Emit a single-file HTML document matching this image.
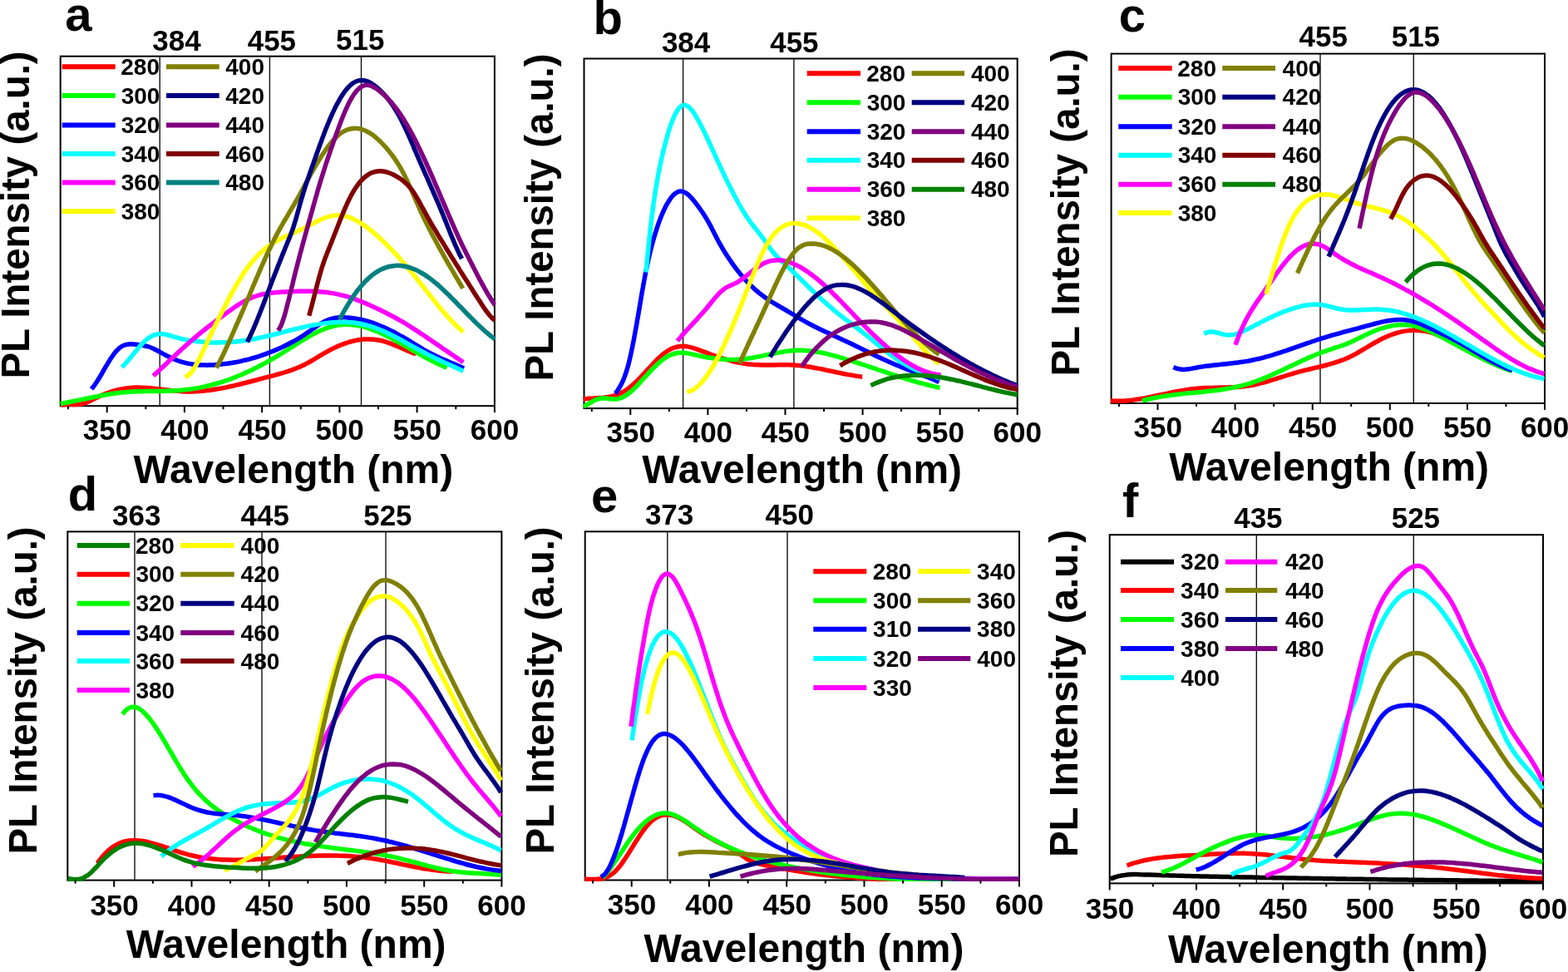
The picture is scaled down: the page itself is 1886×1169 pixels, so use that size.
<!DOCTYPE html><html><head><meta charset="utf-8"><title>PL spectra</title><style>html,body{margin:0;padding:0;background:#fff;overflow:hidden;}svg{display:block;}text{font-family:'Liberation Sans', Arial, Helvetica, sans-serif;font-weight:bold;fill:#000;}</style></head><body>
<svg width="1886" height="1169" viewBox="0 0 1886 1169">
<rect width="1886" height="1169" fill="#fff"/>
<g id="panel-a">
<line x1="192.2" y1="67.7" x2="192.2" y2="488.2" stroke="#111" stroke-width="1.4"/>
<line x1="324.4" y1="67.7" x2="324.4" y2="488.2" stroke="#111" stroke-width="1.4"/>
<line x1="434.5" y1="67.7" x2="434.5" y2="488.2" stroke="#111" stroke-width="1.4"/>
<rect x="72.7" y="67.7" width="522.2" height="420.5" fill="none" stroke="#000" stroke-width="2"/>
<g clip-path="url(#clip-a)" fill="none" stroke-width="5.5" stroke-linejoin="round" stroke-linecap="butt">
<path d="M72.8,487.2 C73.8,487.1 76.8,486.8 78.8,486.7 C80.8,486.6 82.8,486.7 84.8,486.6 C86.8,486.6 88.9,486.7 90.9,486.6 C92.9,486.5 94.9,486.4 96.9,486.1 C98.8,485.8 100.8,485.4 102.7,484.7 C104.6,484.1 106.4,483.2 108.2,482.3 C110.1,481.4 111.8,480.4 113.6,479.5 C115.4,478.6 117.2,477.7 119,476.9 C120.8,476.1 122.7,475.2 124.5,474.5 C126.4,473.7 128.3,473 130.2,472.3 C132,471.6 134,471 135.9,470.4 C137.8,469.8 139.7,469.3 141.7,468.8 C143.6,468.4 145.6,467.9 147.6,467.6 C149.6,467.2 151.6,466.9 153.6,466.7 C155.6,466.5 157.6,466.3 159.6,466.2 C161.6,466.1 163.6,466.1 165.6,466 C167.6,466 169.6,466.1 171.6,466.2 C173.6,466.3 175.6,466.4 177.6,466.5 C179.6,466.7 181.6,466.9 183.6,467.1 C185.6,467.2 187.6,467.5 189.6,467.7 C191.6,467.9 193.6,468.2 195.6,468.4 C197.6,468.6 199.6,468.9 201.6,469.1 C203.6,469.3 205.6,469.6 207.6,469.8 C209.6,470 211.6,470.2 213.6,470.3 C215.6,470.5 217.6,470.6 219.6,470.7 C221.6,470.8 223.6,470.9 225.6,470.9 C227.6,470.9 229.7,470.9 231.7,470.9 C233.7,470.8 235.7,470.7 237.7,470.6 C239.7,470.5 241.7,470.3 243.7,470.2 C245.7,470 247.7,469.8 249.7,469.5 C251.7,469.3 253.7,469 255.7,468.8 C257.7,468.5 259.6,468.2 261.6,467.8 C263.6,467.5 265.6,467.1 267.6,466.8 C269.5,466.4 271.5,466 273.5,465.6 C275.4,465.2 277.4,464.7 279.4,464.3 C281.3,463.8 283.3,463.4 285.2,462.9 C287.2,462.5 289.1,462 291.1,461.5 C293,461 295,460.5 296.9,460 C298.9,459.5 300.8,459 302.8,458.5 C304.7,458 306.7,457.5 308.6,457 C310.5,456.5 312.5,455.9 314.4,455.4 C316.4,454.9 318.3,454.4 320.3,453.9 C322.2,453.4 324.2,452.9 326.1,452.4 C328,451.9 330,451.4 331.9,450.8 C333.9,450.3 335.8,449.8 337.7,449.2 C339.7,448.7 341.6,448.1 343.5,447.5 C345.4,446.9 347.3,446.3 349.2,445.6 C351.1,445 353,444.3 354.9,443.5 C356.8,442.8 358.6,442 360.5,441.2 C362.3,440.4 364.1,439.6 365.9,438.7 C367.7,437.8 369.5,436.9 371.3,435.9 C373,435 374.8,434 376.5,432.9 C378.3,431.9 380,430.9 381.7,429.8 C383.4,428.8 385.1,427.8 386.9,426.7 C388.6,425.7 390.3,424.7 392.1,423.7 C393.8,422.7 395.6,421.7 397.4,420.8 C399.1,419.9 400.9,419 402.7,418.1 C404.6,417.2 406.4,416.4 408.2,415.6 C410.1,414.9 412,414.1 413.9,413.4 C415.7,412.8 417.7,412.1 419.6,411.5 C421.5,411 423.4,410.4 425.4,410 C427.4,409.5 429.3,409.2 431.3,408.8 C433.3,408.5 435.3,408.3 437.3,408.1 C439.3,408 441.3,407.9 443.3,407.9 C445.3,407.9 447.3,408 449.3,408.2 C451.3,408.4 453.3,408.7 455.3,409 C457.3,409.4 459.3,409.9 461.2,410.4 C463.1,410.9 465,411.5 466.9,412.2 C468.8,412.8 470.7,413.5 472.6,414.3 C474.5,415 476.3,415.8 478.2,416.6 C480,417.4 481.9,418.2 483.7,419 C485.5,419.8 487.4,420.6 489.2,421.4 C491.1,422.2 492.9,423 494.8,423.7 C496.6,424.5 499.5,425.5 500.4,425.9" stroke="#FF0000"/>
<path d="M72.8,485.7 C73.8,485.5 76.7,484.9 78.7,484.5 C80.7,484.1 82.7,483.7 84.6,483.3 C86.6,482.9 88.6,482.5 90.6,482.1 C92.5,481.7 94.5,481.3 96.5,480.9 C98.5,480.5 100.4,480.1 102.4,479.7 C104.4,479.3 106.4,478.9 108.4,478.5 C110.3,478.1 112.3,477.7 114.3,477.3 C116.3,476.9 118.2,476.5 120.2,476.1 C122.2,475.7 124.2,475.4 126.2,475 C128.1,474.6 130.1,474.3 132.1,474 C134.1,473.6 136.1,473.3 138.1,473 C140.1,472.8 142.1,472.5 144.1,472.3 C146.1,472 148.1,471.8 150.1,471.7 C152.1,471.5 154.1,471.4 156.1,471.2 C158.1,471.1 160.2,471 162.2,470.9 C164.2,470.9 166.2,470.8 168.2,470.8 C170.2,470.7 172.2,470.7 174.3,470.6 C176.3,470.6 178.3,470.6 180.3,470.6 C182.3,470.5 184.3,470.5 186.4,470.5 C188.4,470.5 190.4,470.5 192.4,470.4 C194.4,470.4 196.4,470.4 198.4,470.3 C200.5,470.3 202.5,470.2 204.5,470.1 C206.5,470 208.5,470 210.5,469.8 C212.5,469.7 214.5,469.6 216.6,469.4 C218.6,469.2 220.6,469 222.6,468.8 C224.6,468.6 226.6,468.3 228.6,468.1 C230.6,467.8 232.6,467.5 234.6,467.1 C236.5,466.8 238.5,466.5 240.5,466.1 C242.5,465.7 244.5,465.3 246.4,464.9 C248.4,464.4 250.4,464 252.3,463.5 C254.3,463 256.2,462.5 258.2,462 C260.1,461.4 262,460.9 264,460.3 C265.9,459.7 267.8,459.1 269.7,458.5 C271.7,457.8 273.6,457.2 275.5,456.5 C277.3,455.8 279.2,455.1 281.1,454.4 C283,453.6 284.9,452.9 286.7,452.1 C288.6,451.3 290.4,450.6 292.3,449.7 C294.1,448.9 296,448.1 297.8,447.3 C299.6,446.4 301.5,445.5 303.3,444.7 C305.1,443.8 306.9,442.9 308.7,442 C310.5,441.1 312.3,440.1 314.1,439.2 C315.8,438.3 317.6,437.3 319.4,436.3 C321.1,435.4 322.9,434.4 324.7,433.4 C326.4,432.4 328.2,431.4 329.9,430.4 C331.6,429.4 333.4,428.3 335.1,427.3 C336.8,426.3 338.6,425.2 340.3,424.2 C342,423.1 343.7,422 345.4,421 C347.1,419.9 348.8,418.8 350.5,417.7 C352.2,416.6 353.9,415.6 355.6,414.5 C357.3,413.4 359,412.3 360.7,411.3 C362.4,410.2 364.2,409.1 365.9,408.1 C367.6,407 369.3,406 371.1,405 C372.8,404 374.6,403 376.4,402.1 C378.1,401.1 379.9,400.2 381.7,399.3 C383.6,398.4 385.4,397.6 387.2,396.8 C389.1,396 391,395.2 392.9,394.6 C394.8,393.9 396.7,393.3 398.6,392.8 C400.6,392.2 402.6,391.8 404.5,391.4 C406.5,391.1 408.5,390.8 410.5,390.6 C412.5,390.4 414.5,390.3 416.6,390.3 C418.6,390.2 420.6,390.3 422.6,390.5 C424.6,390.6 426.6,390.9 428.6,391.2 C430.6,391.5 432.6,391.9 434.5,392.4 C436.5,392.8 438.4,393.3 440.4,393.9 C442.3,394.5 444.2,395.1 446.1,395.8 C448,396.5 449.9,397.2 451.8,397.9 C453.6,398.7 455.5,399.5 457.3,400.3 C459.2,401.1 461,402 462.8,402.9 C464.6,403.7 466.4,404.7 468.2,405.6 C470,406.5 471.8,407.4 473.6,408.4 C475.4,409.3 477.1,410.3 478.9,411.3 C480.6,412.3 482.4,413.3 484.2,414.2 C485.9,415.2 487.7,416.2 489.4,417.2 C491.2,418.3 492.9,419.3 494.6,420.3 C496.4,421.3 498.1,422.3 499.9,423.3 C501.6,424.3 503.4,425.3 505.1,426.3 C506.9,427.2 508.7,428.2 510.4,429.2 C512.2,430.2 514,431.1 515.8,432.1 C517.5,433 519.3,433.9 521.1,434.8 C522.9,435.7 524.8,436.6 526.6,437.5 C528.4,438.3 530.2,439.1 532.1,439.9 C534,440.7 536.8,441.8 537.7,442.2" stroke="#00FF00"/>
<path d="M110,467.9 C110.6,467.1 112.6,464.8 113.7,463.2 C114.9,461.6 116,459.9 117.1,458.2 C118.2,456.5 119.2,454.8 120.3,453 C121.3,451.3 122.3,449.6 123.3,447.8 C124.3,446.1 125.3,444.3 126.3,442.6 C127.3,440.9 128.3,439.1 129.4,437.4 C130.4,435.7 131.5,434 132.5,432.3 C133.6,430.6 134.7,428.9 135.9,427.3 C137.1,425.6 138.3,424 139.6,422.5 C141,421 142.4,419.5 143.9,418.3 C145.5,417.1 147.3,416 149.1,415.3 C151,414.5 153,414.1 155,413.9 C157,413.7 159,413.9 161,414 C163,414.2 165,414.5 167,414.8 C169,415 171,415.2 173,415.6 C174.9,416 176.9,416.4 178.8,417 C180.7,417.6 182.6,418.4 184.4,419.2 C186.3,420.1 188,421 189.8,422 C191.6,422.9 193.3,423.9 195.1,424.9 C196.9,425.8 198.6,426.8 200.4,427.8 C202.2,428.7 204,429.6 205.8,430.4 C207.6,431.3 209.5,432.1 211.3,432.8 C213.2,433.5 215.1,434.2 217,434.8 C218.9,435.4 220.9,435.9 222.8,436.4 C224.8,436.9 226.8,437.3 228.8,437.6 C230.7,438 232.7,438.2 234.7,438.5 C236.7,438.7 238.7,438.8 240.7,439 C242.7,439.1 244.8,439.1 246.8,439.1 C248.8,439.2 250.8,439.1 252.8,439.1 C254.8,439 256.8,438.9 258.8,438.7 C260.8,438.6 262.8,438.4 264.8,438.2 C266.8,438 268.8,437.8 270.8,437.5 C272.8,437.3 274.8,437 276.8,436.7 C278.8,436.4 280.8,436.1 282.7,435.7 C284.7,435.4 286.7,435 288.7,434.6 C290.6,434.1 292.6,433.7 294.5,433.2 C296.5,432.8 298.5,432.3 300.4,431.8 C302.3,431.2 304.3,430.7 306.2,430.1 C308.1,429.5 310,428.9 312,428.3 C313.9,427.7 315.8,427.1 317.7,426.4 C319.6,425.7 321.4,425 323.3,424.3 C325.2,423.6 327.1,422.8 328.9,422.1 C330.8,421.3 332.6,420.5 334.5,419.7 C336.3,418.9 338.1,418 340,417.2 C341.8,416.3 343.6,415.4 345.4,414.5 C347.2,413.6 349,412.7 350.7,411.8 C352.5,410.8 354.3,409.8 356,408.8 C357.8,407.8 359.5,406.8 361.2,405.8 C362.9,404.7 364.6,403.6 366.3,402.5 C368,401.4 369.6,400.3 371.3,399.1 C372.9,398 374.5,396.8 376.2,395.6 C377.8,394.5 379.5,393.3 381.1,392.2 C382.8,391.1 384.5,390 386.2,388.9 C388,387.9 389.7,386.9 391.5,386.1 C393.3,385.2 395.2,384.5 397.1,383.8 C399,383.2 401,382.8 403,382.4 C405,382.1 407,381.9 409,381.8 C411,381.7 413,381.7 415,381.8 C417,381.8 419,382 421,382.2 C423,382.4 425,382.6 427,383 C429,383.3 431,383.7 432.9,384.1 C434.9,384.5 436.9,385 438.8,385.5 C440.7,386 442.7,386.6 444.6,387.2 C446.5,387.8 448.4,388.4 450.3,389.1 C452.2,389.8 454.1,390.5 455.9,391.3 C457.8,392 459.6,392.8 461.5,393.6 C463.3,394.4 465.2,395.3 467,396.1 C468.8,397 470.6,397.9 472.4,398.8 C474.2,399.7 476,400.6 477.7,401.6 C479.5,402.5 481.3,403.5 483,404.5 C484.8,405.5 486.5,406.5 488.2,407.5 C490,408.5 491.7,409.6 493.4,410.6 C495.1,411.7 496.8,412.7 498.5,413.8 C500.3,414.8 502,415.9 503.7,416.9 C505.4,418 507.1,419 508.9,420 C510.6,421 512.3,422 514.1,423 C515.9,424 517.6,424.9 519.4,425.8 C521.2,426.7 523,427.6 524.9,428.5 C526.7,429.3 528.5,430.2 530.3,431 C532.2,431.8 534,432.6 535.9,433.4 C537.7,434.2 539.6,435 541.4,435.8 C543.3,436.5 545.1,437.3 547,438.1 C548.8,438.9 550.7,439.7 552.5,440.5 C554.3,441.3 557.1,442.6 558,443" stroke="#0000FF"/>
<path d="M146.5,441.7 C147.2,441 149.4,438.9 150.7,437.4 C152.1,435.9 153.4,434.3 154.7,432.8 C156,431.2 157.3,429.7 158.6,428.1 C159.9,426.5 161.1,424.9 162.4,423.4 C163.7,421.8 165,420.2 166.3,418.7 C167.6,417.2 169,415.6 170.3,414.1 C171.7,412.7 173.1,411.2 174.7,409.8 C176.2,408.5 177.7,407.2 179.4,406.1 C181.1,405 182.9,403.9 184.8,403.2 C186.6,402.5 188.6,401.9 190.6,401.7 C192.6,401.4 194.7,401.4 196.7,401.7 C198.7,401.9 200.7,402.5 202.6,403 C204.6,403.5 206.5,404.2 208.4,404.8 C210.4,405.4 212.3,405.9 214.3,406.4 C216.2,407 218.2,407.4 220.2,407.9 C222.2,408.3 224.2,408.7 226.1,409.1 C228.1,409.4 230.1,409.7 232.1,410 C234.2,410.3 236.2,410.6 238.2,410.8 C240.2,411 242.2,411.2 244.2,411.3 C246.3,411.5 248.3,411.6 250.3,411.7 C252.3,411.8 254.4,411.9 256.4,411.9 C258.4,411.9 260.4,411.9 262.5,411.9 C264.5,411.9 266.5,411.9 268.5,411.8 C270.6,411.8 272.6,411.7 274.6,411.6 C276.6,411.4 278.7,411.3 280.7,411.1 C282.7,411 284.7,410.8 286.7,410.5 C288.7,410.3 290.8,410.1 292.8,409.8 C294.8,409.5 296.8,409.2 298.8,408.9 C300.8,408.6 302.8,408.2 304.8,407.8 C306.8,407.5 308.7,407.1 310.7,406.6 C312.7,406.2 314.7,405.8 316.7,405.4 C318.6,404.9 320.6,404.4 322.6,404 C324.6,403.5 326.5,403 328.5,402.5 C330.5,402 332.4,401.5 334.4,401 C336.4,400.5 338.3,400 340.3,399.5 C342.3,399 344.2,398.5 346.2,398 C348.1,397.5 350.1,397 352.1,396.5 C354,396 356,395.6 358,395.1 C359.9,394.6 361.9,394.1 363.9,393.7 C365.9,393.2 367.8,392.8 369.8,392.4 C371.8,391.9 373.8,391.5 375.8,391.2 C377.8,390.8 379.8,390.4 381.8,390.1 C383.8,389.7 385.8,389.4 387.8,389.1 C389.8,388.8 391.8,388.6 393.8,388.4 C395.8,388.1 397.8,388 399.9,387.8 C401.9,387.6 403.9,387.5 405.9,387.5 C408,387.4 410,387.4 412,387.4 C414,387.4 416.1,387.4 418.1,387.6 C420.1,387.7 422.1,387.8 424.2,388 C426.2,388.2 428.2,388.5 430.2,388.8 C432.2,389.1 434.2,389.5 436.2,390 C438.1,390.4 440.1,390.9 442.1,391.4 C444,391.9 445.9,392.6 447.9,393.2 C449.8,393.8 451.7,394.5 453.6,395.3 C455.5,396 457.4,396.8 459.2,397.6 C461.1,398.3 462.9,399.2 464.8,400 C466.6,400.9 468.4,401.8 470.3,402.7 C472.1,403.6 473.9,404.5 475.7,405.4 C477.5,406.3 479.3,407.3 481.1,408.2 C482.8,409.2 484.6,410.2 486.4,411.1 C488.2,412.1 490,413.1 491.7,414.1 C493.5,415 495.3,416 497.1,417 C498.8,418 500.6,419 502.4,419.9 C504.2,420.9 506,421.9 507.7,422.8 C509.5,423.8 511.3,424.7 513.1,425.6 C514.9,426.6 516.7,427.5 518.5,428.4 C520.4,429.3 522.2,430.2 524,431 C525.8,431.9 527.7,432.8 529.5,433.6 C531.4,434.5 533.2,435.3 535,436.2 C536.9,437 538.7,437.8 540.6,438.7 C542.4,439.5 544.3,440.3 546.1,441.2 C548,442 549.8,442.8 551.7,443.7 C553.5,444.5 556.3,445.8 557.2,446.2" stroke="#00FFFF"/>
<path d="M184.4,452 C185.1,451.3 187.4,449.3 188.9,447.9 C190.3,446.5 191.8,445.2 193.3,443.8 C194.7,442.4 196.2,441 197.7,439.7 C199.1,438.3 200.6,436.9 202.1,435.5 C203.5,434.1 205,432.7 206.5,431.3 C207.9,430 209.4,428.6 210.9,427.2 C212.3,425.8 213.8,424.5 215.3,423.1 C216.7,421.7 218.2,420.3 219.7,419 C221.2,417.6 222.7,416.3 224.2,414.9 C225.7,413.6 227.2,412.3 228.7,410.9 C230.3,409.6 231.8,408.3 233.3,407 C234.9,405.7 236.4,404.4 237.9,403.1 C239.5,401.8 241,400.5 242.6,399.3 C244.2,398 245.7,396.8 247.3,395.5 C248.9,394.3 250.5,393 252.1,391.8 C253.7,390.5 255.3,389.3 256.9,388.1 C258.5,386.9 260.1,385.7 261.7,384.5 C263.3,383.2 264.9,382 266.5,380.8 C268.1,379.6 269.8,378.4 271.4,377.2 C273,376 274.6,374.8 276.3,373.7 C277.9,372.5 279.5,371.3 281.2,370.2 C282.9,369.1 284.6,367.9 286.2,366.9 C287.9,365.8 289.7,364.7 291.4,363.7 C293.1,362.7 294.9,361.7 296.7,360.8 C298.5,359.9 300.3,359 302.2,358.2 C304,357.4 305.9,356.7 307.8,356.1 C309.7,355.4 311.7,354.9 313.6,354.4 C315.6,353.9 317.6,353.5 319.5,353.2 C321.5,352.8 323.5,352.5 325.5,352.3 C327.5,352 329.5,351.8 331.5,351.7 C333.5,351.5 335.5,351.4 337.5,351.2 C339.6,351.1 341.6,351 343.6,350.9 C345.6,350.8 347.6,350.7 349.6,350.6 C351.6,350.5 353.6,350.4 355.7,350.4 C357.7,350.3 359.7,350.3 361.7,350.2 C363.7,350.2 365.7,350.2 367.7,350.2 C369.8,350.2 371.8,350.3 373.8,350.3 C375.8,350.4 377.8,350.5 379.8,350.6 C381.8,350.7 383.8,350.8 385.8,351 C387.9,351.2 389.9,351.4 391.9,351.6 C393.9,351.8 395.9,352.1 397.8,352.4 C399.8,352.7 401.8,353 403.8,353.4 C405.8,353.8 407.8,354.2 409.7,354.7 C411.7,355.1 413.6,355.6 415.6,356.2 C417.5,356.7 419.4,357.3 421.4,357.9 C423.3,358.5 425.2,359.2 427.1,359.8 C429,360.5 430.9,361.2 432.7,362 C434.6,362.7 436.5,363.5 438.3,364.2 C440.2,365 442,365.8 443.9,366.6 C445.7,367.5 447.6,368.3 449.4,369.1 C451.2,370 453,370.8 454.9,371.7 C456.7,372.6 458.5,373.5 460.3,374.3 C462.1,375.2 463.9,376.1 465.7,377 C467.5,378 469.3,378.9 471.1,379.8 C472.8,380.8 474.6,381.7 476.4,382.7 C478.1,383.7 479.9,384.7 481.6,385.7 C483.4,386.7 485.1,387.7 486.9,388.7 C488.6,389.7 490.3,390.8 492,391.8 C493.7,392.9 495.4,394 497.1,395.1 C498.8,396.2 500.5,397.3 502.2,398.4 C503.9,399.5 505.6,400.6 507.2,401.7 C508.9,402.8 510.6,404 512.2,405.1 C513.9,406.2 515.6,407.3 517.2,408.5 C518.9,409.6 520.6,410.7 522.2,411.9 C523.9,413 525.6,414.1 527.2,415.3 C528.9,416.4 530.6,417.5 532.2,418.7 C533.9,419.8 535.6,420.9 537.2,422.1 C538.9,423.2 540.6,424.3 542.2,425.5 C543.9,426.6 545.6,427.7 547.2,428.9 C548.9,430 550.5,431.2 552.2,432.3 C553.9,433.4 556.4,435.1 557.2,435.7" stroke="#FF00FF"/>
<path d="M222.8,454 C223.6,453.4 226.2,451.9 227.7,450.5 C229.1,449.1 230.3,447.4 231.5,445.8 C232.7,444.2 233.7,442.4 234.8,440.7 C235.8,439 236.8,437.2 237.7,435.4 C238.7,433.6 239.6,431.8 240.5,430 C241.4,428.2 242.3,426.4 243.1,424.6 C244,422.7 244.8,420.9 245.7,419.1 C246.5,417.2 247.4,415.4 248.2,413.6 C249.1,411.7 249.9,409.9 250.8,408.1 C251.6,406.2 252.5,404.4 253.4,402.6 C254.2,400.8 255.1,398.9 256,397.1 C256.9,395.3 257.8,393.5 258.7,391.7 C259.6,389.9 260.5,388.1 261.4,386.3 C262.3,384.5 263.2,382.6 264.1,380.8 C265,379 265.9,377.2 266.8,375.4 C267.8,373.6 268.7,371.8 269.6,370 C270.5,368.3 271.4,366.5 272.4,364.7 C273.3,362.9 274.3,361.1 275.2,359.3 C276.2,357.5 277.1,355.7 278.1,354 C279,352.2 280,350.4 281,348.7 C282,346.9 283,345.1 284,343.4 C285,341.6 286,339.9 287.1,338.2 C288.1,336.4 289.2,334.7 290.2,333 C291.3,331.3 292.4,329.6 293.5,327.9 C294.7,326.2 295.8,324.6 297,322.9 C298.2,321.3 299.4,319.7 300.6,318.1 C301.9,316.5 303.1,314.9 304.5,313.4 C305.8,311.9 307.1,310.4 308.5,308.9 C309.9,307.4 311.3,306 312.8,304.6 C314.3,303.2 315.8,301.9 317.3,300.6 C318.8,299.2 320.4,298 322,296.8 C323.7,295.6 325.3,294.4 327,293.3 C328.7,292.2 330.4,291.1 332.1,290.1 C333.9,289.1 335.7,288.1 337.5,287.2 C339.3,286.3 341.1,285.4 342.9,284.5 C344.7,283.7 346.6,282.9 348.4,282 C350.3,281.2 352.1,280.4 354,279.6 C355.8,278.8 357.7,278 359.5,277.2 C361.4,276.3 363.2,275.5 365,274.6 C366.8,273.7 368.6,272.8 370.4,271.9 C372.2,271 374,270 375.8,269.1 C377.6,268.2 379.4,267.2 381.2,266.3 C383,265.4 384.8,264.6 386.7,263.8 C388.5,263 390.4,262.2 392.3,261.5 C394.2,260.9 396.2,260.3 398.1,259.8 C400.1,259.4 402.1,259.1 404.1,259 C406.1,258.8 408.2,258.9 410.2,259.1 C412.2,259.3 414.2,259.7 416.1,260.2 C418.1,260.7 420,261.4 421.9,262.1 C423.8,262.8 425.6,263.7 427.4,264.6 C429.2,265.5 431,266.5 432.7,267.6 C434.4,268.6 436.1,269.7 437.8,270.9 C439.4,272 441.1,273.2 442.7,274.4 C444.3,275.7 445.9,276.9 447.4,278.2 C449,279.5 450.5,280.8 452,282.1 C453.6,283.5 455.1,284.8 456.6,286.2 C458,287.5 459.5,288.9 461,290.3 C462.4,291.7 463.9,293.1 465.3,294.6 C466.7,296 468.2,297.4 469.6,298.9 C471,300.3 472.4,301.8 473.7,303.3 C475.1,304.7 476.5,306.2 477.9,307.7 C479.2,309.2 480.6,310.7 481.9,312.2 C483.2,313.7 484.6,315.2 485.9,316.8 C487.2,318.3 488.5,319.8 489.8,321.4 C491.2,322.9 492.5,324.5 493.7,326 C495,327.6 496.3,329.1 497.6,330.7 C498.9,332.2 500.2,333.8 501.4,335.4 C502.7,337 504,338.5 505.2,340.1 C506.5,341.7 507.7,343.3 509,344.9 C510.2,346.5 511.5,348 512.7,349.6 C514,351.2 515.2,352.8 516.5,354.4 C517.7,356 519,357.6 520.2,359.1 C521.5,360.7 522.8,362.3 524,363.9 C525.3,365.4 526.6,367 527.9,368.6 C529.2,370.1 530.4,371.7 531.7,373.2 C533.1,374.7 534.4,376.3 535.7,377.8 C537,379.3 538.4,380.8 539.7,382.3 C541.1,383.8 542.5,385.3 543.9,386.7 C545.3,388.2 546.7,389.6 548.2,391 C549.6,392.4 551.1,393.8 552.6,395.2 C554.1,396.5 556.4,398.4 557.2,399.1" stroke="#FFFF00"/>
<path d="M260.2,442.4 C260.7,441.5 262.1,438.9 263.1,437.1 C264,435.3 264.9,433.6 265.8,431.8 C266.7,430 267.6,428.2 268.5,426.4 C269.3,424.6 270.2,422.7 271,420.9 C271.9,419.1 272.7,417.3 273.6,415.5 C274.4,413.6 275.2,411.8 276.1,410 C276.9,408.1 277.7,406.3 278.5,404.5 C279.3,402.6 280.1,400.8 280.9,399 C281.7,397.1 282.5,395.3 283.3,393.5 C284.2,391.6 285,389.8 285.8,387.9 C286.6,386.1 287.4,384.3 288.2,382.4 C289,380.6 289.8,378.7 290.6,376.9 C291.4,375.1 292.2,373.2 293,371.4 C293.8,369.5 294.5,367.7 295.3,365.9 C296.1,364 296.9,362.2 297.7,360.3 C298.5,358.5 299.3,356.6 300.1,354.8 C300.8,352.9 301.6,351.1 302.4,349.2 C303.2,347.4 303.9,345.5 304.7,343.7 C305.5,341.8 306.3,340 307.1,338.1 C307.8,336.3 308.6,334.4 309.4,332.6 C310.2,330.7 311,328.9 311.8,327.1 C312.6,325.2 313.4,323.4 314.2,321.5 C315,319.7 315.8,317.9 316.6,316 C317.4,314.2 318.3,312.4 319.1,310.5 C319.9,308.7 320.7,306.9 321.6,305.1 C322.4,303.3 323.3,301.4 324.2,299.6 C325,297.8 325.9,296 326.8,294.2 C327.6,292.4 328.5,290.6 329.4,288.8 C330.3,287 331.2,285.2 332.2,283.5 C333.1,281.7 334,279.9 335,278.1 C336,276.4 336.9,274.6 337.9,272.9 C338.9,271.1 339.9,269.4 340.9,267.6 C341.9,265.9 342.9,264.2 344,262.5 C345,260.7 346,259 347,257.3 C348.1,255.6 349.1,253.8 350.1,252.1 C351.1,250.4 352.2,248.7 353.2,246.9 C354.2,245.2 355.2,243.5 356.2,241.7 C357.2,240 358.2,238.2 359.1,236.5 C360.1,234.7 361.1,232.9 362,231.2 C363,229.4 363.9,227.7 364.9,225.9 C365.8,224.1 366.8,222.4 367.7,220.6 C368.7,218.8 369.7,217.1 370.6,215.3 C371.6,213.6 372.6,211.8 373.5,210 C374.5,208.3 375.5,206.5 376.5,204.8 C377.5,203.1 378.5,201.3 379.5,199.6 C380.5,197.9 381.5,196.1 382.6,194.4 C383.6,192.7 384.7,191 385.7,189.3 C386.8,187.6 387.9,185.9 389,184.3 C390.1,182.6 391.3,180.9 392.4,179.3 C393.6,177.7 394.8,176 396,174.5 C397.3,172.9 398.5,171.3 399.8,169.8 C401.2,168.3 402.5,166.8 404,165.4 C405.4,164 406.9,162.6 408.4,161.4 C410,160.2 411.7,159 413.4,158 C415.2,157.1 417,156.2 418.9,155.6 C420.8,155 422.8,154.6 424.8,154.4 C426.8,154.2 428.8,154.3 430.8,154.6 C432.8,154.8 434.7,155.4 436.6,156 C438.5,156.7 440.3,157.5 442.1,158.5 C443.9,159.4 445.6,160.5 447.2,161.6 C448.9,162.8 450.5,164 452,165.3 C453.6,166.6 455,167.9 456.5,169.3 C457.9,170.7 459.4,172.1 460.7,173.6 C462.1,175 463.4,176.5 464.8,178.1 C466.1,179.6 467.4,181.1 468.6,182.7 C469.9,184.2 471.1,185.8 472.3,187.5 C473.5,189.1 474.6,190.7 475.7,192.4 C476.9,194 477.9,195.7 479,197.4 C480.1,199.1 481.1,200.9 482.1,202.6 C483.1,204.3 484.1,206.1 485,207.9 C485.9,209.6 486.9,211.4 487.7,213.2 C488.6,215 489.5,216.8 490.3,218.7 C491.2,220.5 492,222.3 492.8,224.1 C493.7,226 494.5,227.8 495.3,229.6 C496.1,231.5 496.9,233.3 497.7,235.2 C498.5,237 499.3,238.8 500.1,240.7 C500.9,242.5 501.7,244.4 502.5,246.2 C503.3,248 504.1,249.9 504.9,251.7 C505.7,253.5 506.6,255.4 507.4,257.2 C508.3,259 509.1,260.8 510,262.6 C510.9,264.4 511.8,266.2 512.7,268 C513.6,269.8 514.5,271.6 515.4,273.4 C516.3,275.2 517.2,277 518.1,278.7 C519.1,280.5 520,282.3 520.9,284.1 C521.9,285.8 522.8,287.6 523.8,289.4 C524.7,291.1 525.7,292.9 526.6,294.7 C527.6,296.4 528.6,298.2 529.5,299.9 C530.5,301.7 531.5,303.5 532.5,305.2 C533.4,306.9 534.4,308.7 535.4,310.4 C536.4,312.2 537.4,313.9 538.4,315.7 C539.4,317.4 540.4,319.1 541.4,320.9 C542.4,322.6 543.5,324.3 544.5,326.1 C545.5,327.8 546.5,329.5 547.5,331.3 C548.5,333 549.6,334.7 550.6,336.4 C551.6,338.2 552.6,339.9 553.6,341.6 C554.7,343.4 556.2,345.9 556.7,346.8" stroke="#808000"/>
<path d="M297.5,411.3 C297.9,410.4 299.3,407.7 300.1,405.9 C301,404.1 301.8,402.2 302.6,400.4 C303.5,398.6 304.3,396.7 305.1,394.9 C305.8,393.1 306.6,391.2 307.4,389.4 C308.2,387.5 308.9,385.7 309.7,383.8 C310.4,381.9 311.2,380.1 311.9,378.2 C312.7,376.4 313.4,374.5 314.1,372.6 C314.9,370.8 315.6,368.9 316.3,367 C317,365.2 317.7,363.3 318.5,361.4 C319.2,359.5 319.9,357.7 320.6,355.8 C321.3,353.9 322,352 322.7,350.2 C323.5,348.3 324.2,346.4 324.9,344.6 C325.6,342.7 326.3,340.8 327,338.9 C327.8,337.1 328.5,335.2 329.2,333.3 C329.9,331.5 330.6,329.6 331.4,327.7 C332.1,325.9 332.8,324 333.6,322.1 C334.3,320.3 335,318.4 335.8,316.5 C336.5,314.7 337.2,312.8 338,310.9 C338.7,309.1 339.5,307.2 340.2,305.4 C341,303.5 341.7,301.6 342.5,299.8 C343.2,297.9 344,296.1 344.8,294.2 C345.5,292.4 346.3,290.5 347.1,288.7 C347.8,286.8 348.6,285 349.3,283.1 C350,281.2 350.7,279.3 351.4,277.5 C352.1,275.6 352.7,273.7 353.3,271.8 C354,269.9 354.5,267.9 355.1,266 C355.7,264.1 356.2,262.2 356.8,260.2 C357.3,258.3 357.9,256.4 358.4,254.4 C358.9,252.5 359.5,250.6 360,248.6 C360.5,246.7 361.1,244.8 361.6,242.9 C362.2,240.9 362.7,239 363.3,237.1 C363.9,235.2 364.4,233.2 365,231.3 C365.6,229.4 366.2,227.5 366.8,225.6 C367.5,223.7 368.1,221.8 368.7,219.9 C369.4,218 370,216.1 370.7,214.2 C371.3,212.3 372,210.4 372.6,208.5 C373.3,206.6 374,204.7 374.6,202.8 C375.3,201 376,199.1 376.7,197.2 C377.3,195.3 378,193.4 378.7,191.5 C379.3,189.6 380,187.7 380.7,185.8 C381.3,183.9 382,182.1 382.7,180.2 C383.3,178.3 384,176.4 384.7,174.5 C385.4,172.6 386.1,170.7 386.8,168.9 C387.4,167 388.1,165.1 388.9,163.2 C389.6,161.3 390.3,159.5 391,157.6 C391.7,155.7 392.5,153.9 393.2,152 C394,150.2 394.7,148.3 395.5,146.5 C396.3,144.6 397.1,142.8 397.9,140.9 C398.7,139.1 399.5,137.3 400.3,135.5 C401.2,133.6 402.1,131.8 402.9,130 C403.8,128.2 404.7,126.4 405.7,124.7 C406.6,122.9 407.6,121.2 408.6,119.4 C409.6,117.7 410.7,116 411.8,114.3 C412.9,112.6 414,111 415.2,109.4 C416.4,107.8 417.7,106.2 419.1,104.8 C420.5,103.3 421.9,101.9 423.5,100.7 C425.1,99.5 426.9,98.4 428.7,97.7 C430.5,97 432.6,96.6 434.6,96.5 C436.5,96.5 438.6,96.8 440.5,97.4 C442.4,97.9 444.2,98.9 446,99.8 C447.7,100.8 449.4,102 450.9,103.2 C452.5,104.4 454.1,105.7 455.5,107.1 C457,108.4 458.5,109.8 459.8,111.3 C461.2,112.7 462.6,114.2 463.9,115.7 C465.2,117.2 466.5,118.8 467.7,120.4 C468.9,121.9 470.1,123.6 471.2,125.2 C472.4,126.8 473.5,128.5 474.6,130.2 C475.7,131.9 476.7,133.6 477.7,135.3 C478.7,137.1 479.7,138.8 480.7,140.6 C481.6,142.3 482.6,144.1 483.5,145.9 C484.4,147.7 485.3,149.5 486.1,151.3 C487,153.1 487.8,154.9 488.7,156.7 C489.5,158.6 490.3,160.4 491.2,162.2 C492,164 492.8,165.9 493.6,167.7 C494.4,169.6 495.2,171.4 496,173.2 C496.8,175.1 497.6,176.9 498.3,178.8 C499.1,180.6 499.9,182.4 500.7,184.3 C501.5,186.1 502.3,188 503.1,189.8 C503.9,191.7 504.7,193.5 505.5,195.3 C506.3,197.2 507.1,199 507.9,200.8 C508.7,202.7 509.5,204.5 510.3,206.3 C511.1,208.2 511.9,210 512.8,211.8 C513.6,213.7 514.4,215.5 515.2,217.3 C516,219.2 516.8,221 517.6,222.8 C518.4,224.7 519.2,226.5 520,228.3 C520.8,230.2 521.6,232 522.4,233.9 C523.2,235.7 524,237.5 524.8,239.4 C525.6,241.2 526.4,243.1 527.2,244.9 C528,246.7 528.8,248.6 529.5,250.4 C530.3,252.3 531.1,254.1 531.8,256 C532.6,257.8 533.4,259.7 534.1,261.6 C534.9,263.4 535.6,265.3 536.4,267.1 C537.1,269 537.9,270.9 538.6,272.7 C539.4,274.6 540.1,276.4 540.8,278.3 C541.6,280.2 542.3,282 543.1,283.9 C543.9,285.7 544.6,287.6 545.4,289.4 C546.2,291.3 546.9,293.1 547.7,295 C548.5,296.8 549.4,298.6 550.2,300.5 C551,302.3 551.9,304.1 552.8,305.9 C553.7,307.7 555.1,310.3 555.6,311.2" stroke="#000080"/>
<path d="M334.6,397.5 C335.1,396.7 336.8,394.2 337.6,392.4 C338.5,390.6 339.2,388.7 339.8,386.8 C340.5,384.9 341.1,383 341.7,381.1 C342.3,379.2 342.8,377.2 343.4,375.3 C343.9,373.4 344.4,371.4 344.9,369.5 C345.4,367.6 345.9,365.6 346.4,363.7 C346.9,361.7 347.4,359.8 347.9,357.9 C348.3,355.9 348.8,354 349.3,352 C349.8,350.1 350.3,348.1 350.7,346.2 C351.2,344.2 351.7,342.3 352.2,340.4 C352.6,338.4 353.1,336.5 353.6,334.5 C354.1,332.6 354.5,330.6 355,328.7 C355.5,326.8 356,324.8 356.5,322.9 C357,320.9 357.5,319 358,317 C358.5,315.1 359,313.2 359.5,311.2 C360,309.3 360.5,307.4 361,305.4 C361.5,303.5 362,301.6 362.6,299.6 C363.1,297.7 363.6,295.8 364.1,293.8 C364.7,291.9 365.2,290 365.7,288 C366.3,286.1 366.8,284.2 367.3,282.2 C367.9,280.3 368.4,278.4 368.9,276.5 C369.5,274.5 370,272.6 370.5,270.7 C371.1,268.8 371.6,266.8 372.2,264.9 C372.7,263 373.2,261 373.8,259.1 C374.3,257.2 374.9,255.3 375.4,253.3 C375.9,251.4 376.5,249.5 377,247.5 C377.5,245.6 378.1,243.7 378.6,241.8 C379.2,239.8 379.7,237.9 380.3,236 C380.8,234 381.4,232.1 381.9,230.2 C382.5,228.3 383,226.4 383.6,224.4 C384.2,222.5 384.7,220.6 385.3,218.7 C385.9,216.8 386.5,214.8 387.1,212.9 C387.7,211 388.3,209.1 388.9,207.2 C389.5,205.3 390.1,203.4 390.7,201.5 C391.3,199.6 391.9,197.7 392.5,195.8 C393.2,193.9 393.8,192 394.4,190.1 C395.1,188.2 395.7,186.3 396.4,184.4 C397,182.5 397.7,180.6 398.3,178.7 C399,176.8 399.6,174.9 400.3,173 C401,171.1 401.6,169.3 402.3,167.4 C403,165.5 403.7,163.6 404.3,161.7 C405,159.8 405.7,158 406.4,156.1 C407.1,154.2 407.8,152.3 408.5,150.4 C409.2,148.6 409.9,146.7 410.6,144.8 C411.3,143 412.1,141.1 412.8,139.2 C413.6,137.4 414.3,135.5 415.1,133.7 C415.9,131.9 416.7,130 417.6,128.2 C418.4,126.4 419.3,124.6 420.2,122.8 C421.1,121 422.1,119.3 423.1,117.6 C424.2,115.9 425.2,114.2 426.4,112.5 C427.6,110.9 428.8,109.3 430.2,107.9 C431.6,106.5 433.2,105.1 434.9,104.1 C436.6,103.1 438.6,102.3 440.5,102.2 C442.4,102 444.5,102.6 446.3,103.2 C448.2,103.8 449.9,105 451.6,106 C453.3,107.1 454.9,108.3 456.5,109.5 C458.1,110.7 459.6,112 461.1,113.3 C462.6,114.7 464.1,116.1 465.5,117.5 C466.9,118.9 468.2,120.4 469.6,121.9 C470.9,123.4 472.2,124.9 473.4,126.5 C474.7,128 475.9,129.6 477.1,131.2 C478.3,132.8 479.5,134.5 480.6,136.1 C481.7,137.8 482.8,139.4 483.9,141.1 C485,142.8 486.1,144.5 487.1,146.2 C488.2,147.9 489.2,149.6 490.2,151.4 C491.2,153.1 492.2,154.9 493.1,156.6 C494.1,158.4 495,160.1 496,161.9 C496.9,163.7 497.8,165.4 498.8,167.2 C499.7,169 500.6,170.8 501.5,172.6 C502.3,174.4 503.2,176.2 504.1,178 C505,179.8 505.8,181.6 506.7,183.4 C507.6,185.2 508.4,187 509.2,188.8 C510.1,190.7 510.9,192.5 511.8,194.3 C512.6,196.1 513.4,197.9 514.2,199.8 C515.1,201.6 515.9,203.4 516.7,205.2 C517.5,207.1 518.3,208.9 519.1,210.7 C519.9,212.6 520.7,214.4 521.5,216.2 C522.3,218.1 523.1,219.9 523.9,221.8 C524.7,223.6 525.5,225.4 526.3,227.3 C527.1,229.1 527.9,230.9 528.7,232.8 C529.4,234.6 530.2,236.5 531,238.3 C531.8,240.1 532.6,242 533.4,243.8 C534.2,245.7 535,247.5 535.8,249.3 C536.5,251.2 537.3,253 538.1,254.9 C538.9,256.7 539.7,258.5 540.5,260.4 C541.3,262.2 542.1,264.1 542.9,265.9 C543.7,267.7 544.5,269.6 545.3,271.4 C546.1,273.2 546.9,275.1 547.7,276.9 C548.6,278.7 549.4,280.5 550.2,282.4 C551,284.2 551.9,286 552.7,287.8 C553.6,289.6 554.4,291.4 555.3,293.3 C556.1,295.1 557,296.9 557.9,298.7 C558.8,300.5 559.7,302.2 560.5,304 C561.4,305.8 562.4,307.6 563.3,309.4 C564.2,311.2 565.1,313 566,314.8 C566.9,316.5 567.8,318.3 568.7,320.1 C569.6,321.9 570.6,323.7 571.5,325.4 C572.4,327.2 573.3,329 574.2,330.8 C575.2,332.5 576.1,334.3 577,336.1 C578,337.9 578.9,339.6 579.9,341.4 C580.8,343.1 581.8,344.9 582.8,346.6 C583.8,348.4 584.7,350.1 585.8,351.8 C586.8,353.6 587.8,355.3 588.9,357 C589.9,358.7 591,360.4 592.1,362.1 C593.2,363.7 594.9,366.2 595.5,367" stroke="#800080"/>
<path d="M371.7,379.7 C372,378.7 372.8,375.8 373.3,373.9 C373.8,372 374.4,370 374.9,368.1 C375.4,366.1 375.9,364.2 376.4,362.3 C376.9,360.3 377.4,358.4 377.9,356.4 C378.4,354.5 378.9,352.5 379.4,350.6 C379.9,348.6 380.4,346.7 380.9,344.7 C381.4,342.8 381.9,340.9 382.4,338.9 C382.9,337 383.4,335 384,333.1 C384.5,331.2 385,329.2 385.6,327.3 C386.2,325.4 386.7,323.4 387.3,321.5 C387.9,319.6 388.6,317.7 389.2,315.8 C389.9,313.9 390.5,312 391.2,310.1 C392,308.3 392.7,306.4 393.4,304.5 C394.2,302.7 394.9,300.8 395.7,298.9 C396.4,297.1 397.2,295.2 397.9,293.3 C398.7,291.5 399.4,289.6 400.1,287.7 C400.9,285.9 401.6,284 402.3,282.1 C403,280.3 403.8,278.4 404.5,276.5 C405.2,274.6 406,272.8 406.7,270.9 C407.4,269 408.2,267.2 408.9,265.3 C409.7,263.4 410.4,261.6 411.2,259.7 C411.9,257.9 412.7,256 413.5,254.1 C414.3,252.3 415,250.4 415.9,248.6 C416.7,246.8 417.5,244.9 418.3,243.1 C419.2,241.3 420.1,239.5 421,237.7 C421.9,235.9 422.8,234.1 423.8,232.4 C424.8,230.6 425.8,228.9 426.9,227.2 C428,225.5 429.1,223.9 430.3,222.3 C431.5,220.6 432.8,219.1 434.1,217.6 C435.5,216.1 436.9,214.6 438.4,213.3 C439.9,212 441.5,210.8 443.2,209.8 C444.9,208.7 446.8,207.8 448.7,207.2 C450.5,206.5 452.6,206.1 454.5,205.9 C456.5,205.7 458.6,205.8 460.5,206 C462.5,206.3 464.5,206.8 466.4,207.4 C468.3,208 470.2,208.8 472,209.6 C473.8,210.4 475.6,211.4 477.3,212.4 C479.1,213.4 480.8,214.5 482.4,215.6 C484,216.8 485.6,218 487.1,219.4 C488.6,220.7 490.1,222.1 491.4,223.6 C492.8,225.1 494.1,226.6 495.3,228.2 C496.5,229.8 497.6,231.5 498.7,233.2 C499.8,234.9 500.8,236.6 501.8,238.3 C502.8,240.1 503.8,241.8 504.8,243.6 C505.7,245.3 506.7,247.1 507.6,248.9 C508.6,250.6 509.6,252.4 510.5,254.2 C511.5,255.9 512.5,257.7 513.4,259.4 C514.4,261.2 515.4,262.9 516.4,264.7 C517.4,266.4 518.4,268.2 519.4,269.9 C520.4,271.6 521.4,273.4 522.5,275.1 C523.5,276.8 524.5,278.6 525.6,280.3 C526.6,282 527.6,283.7 528.7,285.4 C529.7,287.2 530.8,288.9 531.8,290.6 C532.9,292.3 533.9,294 535,295.7 C536,297.4 537.1,299.1 538.1,300.8 C539.2,302.5 540.3,304.2 541.3,305.9 C542.4,307.6 543.5,309.3 544.5,311.1 C545.6,312.8 546.6,314.5 547.7,316.2 C548.8,317.9 549.8,319.6 550.9,321.3 C552,323 553,324.7 554.1,326.4 C555.2,328.1 556.3,329.8 557.3,331.5 C558.4,333.2 559.5,334.9 560.5,336.6 C561.6,338.3 562.7,340 563.8,341.6 C564.8,343.3 565.9,345 567,346.7 C568.1,348.4 569.2,350.1 570.2,351.8 C571.3,353.5 572.4,355.2 573.5,356.9 C574.6,358.6 575.7,360.3 576.8,361.9 C577.8,363.6 578.9,365.3 580,367 C581.1,368.7 582.3,370.3 583.4,372 C584.6,373.6 585.7,375.3 587,376.8 C588.2,378.4 589.5,380 590.9,381.4 C592.2,382.9 594.6,384.8 595.3,385.5" stroke="#800000"/>
<path d="M408.5,384.1 C409,383.2 410.4,380.5 411.3,378.8 C412.3,377 413.3,375.2 414.3,373.4 C415.3,371.7 416.3,369.9 417.4,368.2 C418.4,366.4 419.5,364.7 420.6,363 C421.6,361.3 422.7,359.6 423.9,357.9 C425,356.2 426.2,354.5 427.4,352.9 C428.6,351.2 429.8,349.6 431,348 C432.3,346.4 433.6,344.9 434.9,343.3 C436.3,341.8 437.6,340.3 439,338.8 C440.4,337.4 441.9,335.9 443.4,334.6 C444.9,333.2 446.4,331.9 448,330.6 C449.6,329.4 451.3,328.2 453,327.1 C454.7,326 456.5,325 458.3,324.1 C460.1,323.3 462,322.4 463.9,321.8 C465.8,321.1 467.8,320.6 469.8,320.2 C471.8,319.8 473.8,319.6 475.8,319.4 C477.9,319.3 479.9,319.4 481.9,319.5 C483.9,319.7 486,320 487.9,320.5 C489.9,320.9 491.9,321.4 493.8,322.1 C495.7,322.7 497.6,323.5 499.5,324.3 C501.3,325.1 503.2,326 504.9,327 C506.7,328 508.5,329 510.2,330.1 C511.9,331.2 513.6,332.3 515.2,333.5 C516.9,334.7 518.5,335.9 520.1,337.2 C521.7,338.4 523.3,339.7 524.8,341 C526.4,342.3 527.9,343.7 529.4,345 C530.9,346.4 532.4,347.8 533.9,349.2 C535.3,350.6 536.8,352 538.3,353.4 C539.7,354.8 541.2,356.2 542.6,357.7 C544,359.1 545.5,360.6 546.9,362 C548.3,363.4 549.7,364.9 551.1,366.4 C552.6,367.8 554,369.3 555.4,370.7 C556.8,372.2 558.2,373.7 559.6,375.1 C561,376.6 562.4,378 563.9,379.5 C565.3,380.9 566.7,382.4 568.2,383.8 C569.6,385.2 571,386.7 572.5,388.1 C573.9,389.5 575.4,390.9 576.9,392.3 C578.4,393.7 579.8,395.1 581.4,396.4 C582.9,397.8 584.4,399.1 585.9,400.4 C587.5,401.8 589,403.1 590.6,404.3 C592.2,405.6 594.7,407.4 595.5,408" stroke="#008080"/>
</g>
<line x1="74.7" y1="80.3" x2="138.7" y2="80.3" stroke="#FF0000" stroke-width="6"/>
<text x="145.3" y="89.9" font-size="28">280</text>
<line x1="74.7" y1="115" x2="138.7" y2="115" stroke="#00FF00" stroke-width="6"/>
<text x="145.7" y="124.6" font-size="28">300</text>
<line x1="74.7" y1="150.5" x2="138.7" y2="150.5" stroke="#0000FF" stroke-width="6"/>
<text x="145.7" y="160.1" font-size="28">320</text>
<line x1="74.7" y1="185" x2="138.7" y2="185" stroke="#00FFFF" stroke-width="6"/>
<text x="145.7" y="194.6" font-size="28">340</text>
<line x1="74.7" y1="219.5" x2="138.7" y2="219.5" stroke="#FF00FF" stroke-width="6"/>
<text x="145.7" y="229.1" font-size="28">360</text>
<line x1="74.7" y1="254.2" x2="138.7" y2="254.2" stroke="#FFFF00" stroke-width="6"/>
<text x="145.7" y="263.8" font-size="28">380</text>
<line x1="200" y1="80.3" x2="263.7" y2="80.3" stroke="#808000" stroke-width="6"/>
<text x="271.3" y="89.9" font-size="28">400</text>
<line x1="200" y1="115" x2="263.7" y2="115" stroke="#000080" stroke-width="6"/>
<text x="271.3" y="124.6" font-size="28">420</text>
<line x1="200" y1="150.5" x2="263.7" y2="150.5" stroke="#800080" stroke-width="6"/>
<text x="271.3" y="160.1" font-size="28">440</text>
<line x1="200" y1="185" x2="263.7" y2="185" stroke="#800000" stroke-width="6"/>
<text x="271.3" y="194.6" font-size="28">460</text>
<line x1="200" y1="219.5" x2="263.7" y2="219.5" stroke="#008080" stroke-width="6"/>
<text x="271.3" y="229.1" font-size="28">480</text>
<line x1="82" y1="488.2" x2="82" y2="492.2" stroke="#000" stroke-width="2"/>
<line x1="128.7" y1="488.2" x2="128.7" y2="496.2" stroke="#000" stroke-width="2"/>
<line x1="175.3" y1="488.2" x2="175.3" y2="492.2" stroke="#000" stroke-width="2"/>
<line x1="221.9" y1="488.2" x2="221.9" y2="496.2" stroke="#000" stroke-width="2"/>
<line x1="268.5" y1="488.2" x2="268.5" y2="492.2" stroke="#000" stroke-width="2"/>
<line x1="315.1" y1="488.2" x2="315.1" y2="496.2" stroke="#000" stroke-width="2"/>
<line x1="361.8" y1="488.2" x2="361.8" y2="492.2" stroke="#000" stroke-width="2"/>
<line x1="408.4" y1="488.2" x2="408.4" y2="496.2" stroke="#000" stroke-width="2"/>
<line x1="455" y1="488.2" x2="455" y2="492.2" stroke="#000" stroke-width="2"/>
<line x1="501.6" y1="488.2" x2="501.6" y2="496.2" stroke="#000" stroke-width="2"/>
<line x1="548.3" y1="488.2" x2="548.3" y2="492.2" stroke="#000" stroke-width="2"/>
<line x1="594.9" y1="488.2" x2="594.9" y2="496.2" stroke="#000" stroke-width="2"/>
<text x="99.8" y="529.1" font-size="35">350</text>
<text x="193.2" y="529.1" font-size="35">400</text>
<text x="286.4" y="529.1" font-size="35">450</text>
<text x="379.4" y="529.1" font-size="35">500</text>
<text x="472.6" y="529.1" font-size="35">550</text>
<text x="565.8" y="529.1" font-size="35">600</text>
<text x="183.3" y="61.4" font-size="35">384</text>
<text x="297.7" y="61.2" font-size="35">455</text>
<text x="404.1" y="60.4" font-size="35">515</text>
<text x="78.2" y="36.9" font-size="58">a</text>
<text x="160.4" y="580.8" font-size="48">Wavelength (nm)</text>
<text transform="translate(34.9,455.5) rotate(-90)" x="0" y="0" font-size="47.4">PL Intensity (a.u.)</text>
</g>
<g id="panel-b">
<line x1="821.6" y1="70.5" x2="821.6" y2="491.1" stroke="#111" stroke-width="1.4"/>
<line x1="954.9" y1="70.5" x2="954.9" y2="491.1" stroke="#111" stroke-width="1.4"/>
<rect x="702.5" y="70.5" width="521.2" height="420.6" fill="none" stroke="#000" stroke-width="2"/>
<g clip-path="url(#clip-b)" fill="none" stroke-width="5.5" stroke-linejoin="round" stroke-linecap="butt">
<path d="M701.8,480.2 C702.8,480 705.8,479.5 707.8,479.3 C709.8,479.1 711.8,479 713.8,478.9 C715.8,478.7 717.8,478.7 719.8,478.6 C721.8,478.4 723.8,478.3 725.8,478.2 C727.8,478 729.8,477.8 731.8,477.5 C733.8,477.1 735.8,476.8 737.7,476.2 C739.7,475.7 741.6,475.1 743.4,474.3 C745.3,473.6 747.1,472.7 748.9,471.7 C750.6,470.7 752.3,469.6 753.9,468.5 C755.6,467.3 757.2,466.1 758.7,464.8 C760.3,463.5 761.8,462.2 763.3,460.8 C764.7,459.5 766.2,458.1 767.6,456.6 C769,455.2 770.4,453.8 771.8,452.3 C773.2,450.9 774.6,449.4 775.9,447.9 C777.3,446.4 778.6,444.9 780,443.5 C781.3,442 782.7,440.5 784.1,439 C785.4,437.5 786.8,436 788.2,434.6 C789.6,433.2 791,431.7 792.5,430.3 C793.9,429 795.4,427.6 797,426.3 C798.5,425.1 800.1,423.8 801.8,422.7 C803.5,421.6 805.2,420.5 807,419.7 C808.8,418.8 810.7,418.1 812.6,417.6 C814.6,417 816.6,416.7 818.6,416.5 C820.5,416.3 822.6,416.4 824.6,416.6 C826.6,416.8 828.6,417.2 830.5,417.6 C832.5,418.1 834.4,418.6 836.3,419.3 C838.2,419.9 840.1,420.6 842,421.3 C843.9,422 845.8,422.7 847.6,423.4 C849.5,424.2 851.4,424.9 853.3,425.6 C855.1,426.3 857,427 858.9,427.7 C860.8,428.3 862.7,429 864.6,429.6 C866.5,430.3 868.5,430.9 870.4,431.5 C872.3,432 874.2,432.6 876.2,433.1 C878.1,433.7 880.1,434.2 882,434.7 C884,435.1 885.9,435.6 887.9,436 C889.9,436.4 891.8,436.8 893.8,437.1 C895.8,437.4 897.8,437.7 899.8,437.9 C901.8,438.2 903.8,438.3 905.8,438.5 C907.8,438.6 909.8,438.7 911.8,438.8 C913.8,438.9 915.8,438.9 917.8,438.9 C919.9,439 921.9,438.9 923.9,438.9 C925.9,438.9 927.9,438.9 929.9,438.9 C931.9,438.8 933.9,438.8 935.9,438.8 C938,438.7 940,438.7 942,438.7 C944,438.7 946,438.7 948,438.8 C950,438.8 952,438.9 954,439 C956,439.1 958,439.3 960,439.5 C962,439.7 964,439.9 966,440.1 C968,440.4 970,440.7 972,441 C974,441.3 976,441.6 978,442 C979.9,442.3 981.9,442.7 983.9,443.1 C985.9,443.4 987.8,443.8 989.8,444.2 C991.8,444.6 993.7,445.1 995.7,445.5 C997.7,445.9 999.6,446.3 1001.6,446.7 C1003.6,447.1 1005.5,447.6 1007.5,448 C1009.5,448.4 1011.4,448.8 1013.4,449.2 C1015.4,449.6 1017.4,450 1019.3,450.4 C1021.3,450.7 1023.3,451.1 1025.3,451.4 C1027.2,451.8 1029.2,452.1 1031.2,452.4 C1033.2,452.7 1036.2,453.1 1037.2,453.2" stroke="#FF0000"/>
<path d="M701.8,489.1 C702.7,488.6 705.3,487.1 707.1,486.1 C708.8,485.1 710.5,484 712.3,483 C714.1,482.1 715.8,481 717.7,480.4 C719.6,479.7 721.6,479.2 723.6,479 C725.6,478.8 727.6,479 729.6,479.1 C731.6,479.3 733.6,479.7 735.6,479.8 C737.6,480 739.7,480.2 741.7,479.9 C743.7,479.7 745.7,479.2 747.5,478.5 C749.4,477.8 751.2,476.7 752.8,475.6 C754.5,474.5 756.1,473.3 757.7,472 C759.2,470.7 760.7,469.3 762.2,468 C763.6,466.6 765.1,465.1 766.5,463.7 C767.9,462.2 769.2,460.7 770.6,459.2 C771.9,457.8 773.3,456.3 774.6,454.8 C776,453.3 777.3,451.8 778.7,450.3 C780.1,448.8 781.4,447.3 782.8,445.8 C784.2,444.4 785.6,442.9 787,441.5 C788.5,440.1 789.9,438.7 791.4,437.3 C792.9,436 794.5,434.7 796,433.4 C797.6,432.2 799.3,431 801,429.9 C802.7,428.8 804.4,427.8 806.3,427 C808.1,426.2 810,425.5 812,425 C813.9,424.6 816,424.4 818,424.3 C820,424.2 822,424.3 824,424.5 C826,424.7 828,425 830,425.4 C832,425.8 833.9,426.2 835.9,426.7 C837.9,427.1 839.8,427.6 841.8,428 C843.8,428.4 845.7,428.9 847.7,429.2 C849.7,429.6 851.7,430 853.7,430.3 C855.7,430.6 857.7,430.9 859.7,431.1 C861.7,431.4 863.7,431.6 865.7,431.8 C867.7,432 869.7,432.2 871.7,432.3 C873.7,432.4 875.8,432.5 877.8,432.5 C879.8,432.5 881.8,432.5 883.8,432.5 C885.8,432.4 887.9,432.3 889.9,432.2 C891.9,432 893.9,431.8 895.9,431.6 C897.9,431.4 899.9,431.1 901.9,430.8 C903.9,430.5 905.9,430.1 907.8,429.8 C909.8,429.4 911.8,429 913.8,428.6 C915.8,428.3 917.7,427.8 919.7,427.4 C921.7,427 923.7,426.6 925.6,426.2 C927.6,425.8 929.6,425.4 931.6,425 C933.5,424.6 935.5,424.2 937.5,423.9 C939.5,423.5 941.5,423.2 943.5,422.9 C945.5,422.6 947.5,422.3 949.5,422.1 C951.5,421.9 953.5,421.7 955.5,421.5 C957.5,421.4 959.5,421.3 961.6,421.3 C963.6,421.3 965.6,421.4 967.6,421.5 C969.6,421.6 971.6,421.7 973.6,421.9 C975.6,422.1 977.6,422.4 979.6,422.7 C981.6,423 983.6,423.3 985.6,423.7 C987.6,424 989.6,424.5 991.5,424.9 C993.5,425.3 995.5,425.8 997.4,426.3 C999.4,426.8 1001.3,427.3 1003.3,427.8 C1005.2,428.3 1007.2,428.9 1009.1,429.4 C1011,430 1013,430.6 1014.9,431.2 C1016.8,431.8 1018.8,432.3 1020.7,433 C1022.6,433.6 1024.5,434.2 1026.5,434.8 C1028.4,435.4 1030.3,436 1032.2,436.6 C1034.1,437.3 1036,437.9 1038,438.5 C1039.9,439.2 1041.8,439.8 1043.7,440.4 C1045.6,441.1 1047.5,441.7 1049.4,442.4 C1051.3,443 1053.3,443.6 1055.2,444.3 C1057.1,444.9 1059,445.6 1060.9,446.2 C1062.8,446.9 1064.7,447.5 1066.6,448.1 C1068.6,448.8 1070.5,449.4 1072.4,450 C1074.3,450.7 1076.2,451.3 1078.1,451.9 C1080.1,452.5 1082,453.1 1083.9,453.8 C1085.8,454.4 1087.8,455 1089.7,455.6 C1091.6,456.2 1093.5,456.7 1095.5,457.3 C1097.4,457.9 1099.3,458.5 1101.3,459 C1103.2,459.6 1105.2,460.1 1107.1,460.7 C1109,461.2 1111,461.7 1112.9,462.2 C1114.9,462.8 1116.8,463.3 1118.8,463.7 C1120.8,464.2 1122.7,464.7 1124.7,465.1 C1126.7,465.6 1129.6,466.2 1130.6,466.4" stroke="#00FF00"/>
<path d="M740.3,473.2 C740.9,472.3 742.6,469.9 743.7,468.2 C744.8,466.5 745.9,464.8 746.8,463 C747.8,461.2 748.7,459.4 749.5,457.5 C750.3,455.7 751,453.8 751.7,451.9 C752.4,450 753,448.1 753.6,446.2 C754.2,444.3 754.8,442.3 755.3,440.4 C755.9,438.4 756.4,436.5 756.8,434.5 C757.3,432.5 757.8,430.6 758.2,428.6 C758.7,426.6 759.1,424.7 759.5,422.7 C759.9,420.7 760.3,418.7 760.7,416.8 C761.1,414.8 761.5,412.8 761.9,410.8 C762.3,408.8 762.7,406.9 763,404.9 C763.4,402.9 763.8,400.9 764.1,398.9 C764.5,396.9 764.9,395 765.2,393 C765.6,391 765.9,389 766.2,387 C766.6,385 766.9,383 767.3,381 C767.6,379 767.9,377.1 768.3,375.1 C768.6,373.1 769,371.1 769.3,369.1 C769.6,367.1 770,365.1 770.3,363.1 C770.6,361.1 771,359.2 771.3,357.2 C771.7,355.2 772,353.2 772.3,351.2 C772.7,349.2 773,347.2 773.4,345.2 C773.7,343.2 774.1,341.3 774.5,339.3 C774.8,337.3 775.2,335.3 775.6,333.3 C775.9,331.3 776.3,329.4 776.7,327.4 C777.1,325.4 777.5,323.4 777.9,321.4 C778.3,319.5 778.7,317.5 779.2,315.5 C779.6,313.5 780,311.6 780.5,309.6 C780.9,307.6 781.4,305.7 781.9,303.7 C782.3,301.8 782.8,299.8 783.3,297.8 C783.8,295.9 784.4,293.9 784.9,292 C785.4,290 786,288.1 786.5,286.2 C787.1,284.2 787.7,282.3 788.3,280.4 C788.8,278.4 789.5,276.5 790.1,274.6 C790.7,272.7 791.4,270.8 792,268.9 C792.7,267 793.4,265.1 794.1,263.2 C794.9,261.3 795.6,259.4 796.4,257.6 C797.2,255.7 798,253.9 798.9,252 C799.7,250.2 800.6,248.4 801.6,246.6 C802.6,244.9 803.6,243.1 804.7,241.4 C805.8,239.7 806.9,238 808.2,236.5 C809.5,235 810.9,233.4 812.6,232.4 C814.2,231.3 816.2,230.3 818.1,230.1 C820,230 822.2,230.7 823.9,231.5 C825.7,232.3 827.3,233.7 828.8,235.1 C830.3,236.4 831.6,237.9 833,239.5 C834.3,241 835.5,242.6 836.8,244.2 C838,245.8 839.2,247.4 840.4,249 C841.6,250.7 842.7,252.3 843.9,254 C845,255.6 846.2,257.3 847.3,259 C848.3,260.7 849.4,262.4 850.4,264.1 C851.5,265.9 852.4,267.6 853.4,269.4 C854.4,271.2 855.3,273 856.2,274.8 C857.1,276.6 858,278.4 859,280.2 C859.9,282 860.8,283.8 861.7,285.6 C862.6,287.4 863.6,289.2 864.5,290.9 C865.5,292.7 866.5,294.5 867.5,296.2 C868.5,298 869.5,299.7 870.6,301.4 C871.6,303.1 872.7,304.8 873.8,306.5 C874.9,308.2 876,309.9 877.2,311.6 C878.3,313.3 879.4,314.9 880.6,316.6 C881.8,318.2 883,319.8 884.2,321.5 C885.4,323.1 886.6,324.7 887.8,326.3 C889.1,327.8 890.4,329.4 891.7,331 C893,332.5 894.3,334 895.6,335.5 C897,337 898.3,338.5 899.7,340 C901.1,341.4 902.5,342.9 904,344.3 C905.5,345.7 906.9,347 908.4,348.4 C910,349.7 911.5,351 913.1,352.3 C914.6,353.5 916.2,354.8 917.9,356 C919.5,357.2 921.2,358.3 922.8,359.5 C924.5,360.6 926.2,361.7 927.9,362.8 C929.6,363.8 931.3,364.9 933.1,365.9 C934.8,367 936.5,368 938.3,369 C940,370 941.8,371 943.5,372 C945.3,373 947,374.1 948.7,375.1 C950.5,376.1 952.2,377.2 953.9,378.2 C955.7,379.2 957.4,380.2 959.1,381.3 C960.9,382.3 962.6,383.3 964.4,384.3 C966.1,385.3 967.9,386.3 969.6,387.3 C971.4,388.3 973.2,389.3 975,390.2 C976.7,391.1 978.5,392.1 980.3,393 C982.1,393.9 983.9,394.8 985.8,395.7 C987.6,396.6 989.4,397.4 991.2,398.3 C993,399.1 994.9,400 996.7,400.8 C998.5,401.7 1000.4,402.5 1002.2,403.4 C1004,404.2 1005.9,405 1007.7,405.9 C1009.6,406.7 1011.4,407.6 1013.2,408.4 C1015.1,409.2 1016.9,410.1 1018.7,411 C1020.5,411.8 1022.4,412.7 1024.2,413.5 C1026,414.4 1027.8,415.3 1029.6,416.2 C1031.4,417.1 1033.3,418 1035.1,418.9 C1036.9,419.8 1038.7,420.7 1040.5,421.6 C1042.3,422.4 1044.1,423.3 1045.9,424.2 C1047.7,425.1 1049.5,426 1051.4,426.9 C1053.2,427.8 1055,428.7 1056.8,429.5 C1058.6,430.4 1060.5,431.2 1062.3,432.1 C1064.1,432.9 1066,433.8 1067.8,434.6 C1069.6,435.4 1071.5,436.2 1073.4,437 C1075.2,437.8 1077.1,438.6 1079,439.3 C1080.8,440.1 1082.7,440.8 1084.6,441.6 C1086.5,442.3 1088.3,443 1090.2,443.8 C1092.1,444.5 1094,445.2 1095.9,445.9 C1097.8,446.6 1099.6,447.3 1101.5,448.1 C1103.4,448.8 1105.3,449.5 1107.2,450.2 C1109.1,451 1111,451.7 1112.8,452.4 C1114.7,453.2 1116.6,453.9 1118.5,454.7 C1120.3,455.4 1122.2,456.2 1124,457 C1125.9,457.8 1128.7,459 1129.6,459.4" stroke="#0000FF"/>
<path d="M777.1,327.6 C777.2,326.6 777.4,323.6 777.6,321.6 C777.8,319.6 778,317.6 778.2,315.7 C778.3,313.7 778.5,311.7 778.7,309.7 C778.9,307.7 779.1,305.7 779.3,303.7 C779.5,301.7 779.7,299.7 779.9,297.7 C780.1,295.7 780.3,293.7 780.5,291.7 C780.7,289.8 780.9,287.8 781.1,285.8 C781.3,283.8 781.5,281.8 781.8,279.8 C782,277.8 782.2,275.8 782.4,273.8 C782.7,271.8 782.9,269.9 783.1,267.9 C783.4,265.9 783.6,263.9 783.9,261.9 C784.1,259.9 784.4,257.9 784.6,256 C784.9,254 785.1,252 785.4,250 C785.7,248 786,246 786.2,244 C786.5,242.1 786.8,240.1 787.1,238.1 C787.4,236.1 787.7,234.1 788,232.2 C788.3,230.2 788.6,228.2 788.9,226.2 C789.3,224.3 789.6,222.3 789.9,220.3 C790.3,218.3 790.6,216.4 791,214.4 C791.3,212.4 791.7,210.5 792.1,208.5 C792.5,206.5 792.8,204.6 793.2,202.6 C793.6,200.6 794,198.7 794.5,196.7 C794.9,194.8 795.3,192.8 795.7,190.9 C796.2,188.9 796.6,187 797.1,185 C797.5,183.1 798,181.1 798.5,179.2 C799,177.2 799.5,175.3 800,173.3 C800.5,171.4 801,169.5 801.5,167.5 C802,165.6 802.6,163.7 803.1,161.8 C803.7,159.8 804.3,157.9 804.9,156 C805.5,154.1 806.1,152.2 806.8,150.3 C807.5,148.4 808.2,146.6 808.9,144.7 C809.6,142.8 810.4,141 811.3,139.2 C812.1,137.4 813,135.6 814.1,133.9 C815.1,132.2 816.2,130.3 817.6,129.1 C819.1,127.8 821,126.4 822.8,126.3 C824.6,126.1 826.7,127.3 828.2,128.4 C829.8,129.5 831.1,131.2 832.3,132.8 C833.6,134.3 834.7,136 835.8,137.7 C836.8,139.4 837.8,141.1 838.8,142.9 C839.8,144.6 840.8,146.4 841.7,148.1 C842.7,149.9 843.6,151.7 844.5,153.5 C845.4,155.3 846.3,157 847.2,158.8 C848.1,160.6 848.9,162.5 849.8,164.3 C850.6,166.1 851.5,167.9 852.3,169.7 C853.2,171.5 854,173.3 854.8,175.2 C855.7,177 856.5,178.8 857.3,180.6 C858.1,182.5 859,184.3 859.8,186.1 C860.6,187.9 861.4,189.7 862.3,191.6 C863.1,193.4 863.9,195.2 864.8,197 C865.6,198.9 866.4,200.7 867.3,202.5 C868.1,204.3 869,206.1 869.8,207.9 C870.7,209.7 871.5,211.5 872.4,213.4 C873.3,215.2 874.1,217 875,218.8 C875.9,220.6 876.8,222.4 877.7,224.1 C878.6,225.9 879.5,227.7 880.4,229.5 C881.3,231.3 882.2,233.1 883.1,234.8 C884.1,236.6 885,238.4 886,240.1 C886.9,241.9 887.9,243.6 888.9,245.4 C889.9,247.1 890.9,248.9 891.9,250.6 C892.9,252.3 893.9,254 895,255.7 C896.1,257.4 897.1,259.1 898.2,260.8 C899.3,262.4 900.5,264.1 901.6,265.7 C902.8,267.4 904,269 905.2,270.5 C906.4,272.1 907.7,273.7 909,275.2 C910.2,276.8 911.5,278.3 912.7,279.9 C914,281.5 915.2,283.1 916.4,284.7 C917.6,286.3 918.8,287.9 919.9,289.5 C921.1,291.2 922.2,292.8 923.3,294.5 C924.5,296.1 925.6,297.8 926.8,299.4 C928,301 929.2,302.6 930.5,304.1 C931.8,305.6 933.2,307.1 934.5,308.5 C935.9,310 937.4,311.4 938.8,312.8 C940.3,314.1 941.8,315.5 943.2,316.8 C944.7,318.2 946.2,319.5 947.6,320.9 C949.1,322.3 950.5,323.7 952,325 C953.4,326.4 954.9,327.8 956.3,329.2 C957.7,330.6 959.2,332 960.6,333.4 C962,334.8 963.5,336.2 964.9,337.6 C966.3,339 967.8,340.4 969.2,341.8 C970.6,343.2 972.1,344.6 973.5,346 C974.9,347.4 976.4,348.8 977.8,350.2 C979.3,351.5 980.7,352.9 982.2,354.3 C983.6,355.7 985.1,357 986.6,358.4 C988,359.8 989.5,361.1 991,362.5 C992.5,363.8 994,365.2 995.5,366.5 C997,367.8 998.5,369.1 1000,370.4 C1001.5,371.7 1003,373 1004.6,374.3 C1006.1,375.6 1007.7,376.8 1009.2,378.1 C1010.8,379.3 1012.4,380.6 1014,381.8 C1015.5,383 1017.1,384.2 1018.7,385.4 C1020.3,386.6 1021.9,387.9 1023.5,389.1 C1025.1,390.3 1026.7,391.5 1028.3,392.7 C1029.9,393.9 1031.5,395.1 1033.1,396.3 C1034.7,397.5 1036.3,398.7 1037.9,400 C1039.5,401.2 1041,402.4 1042.6,403.7 C1044.2,404.9 1045.7,406.2 1047.3,407.4 C1048.8,408.7 1050.4,410 1051.9,411.3 C1053.4,412.5 1055,413.8 1056.5,415.1 C1058.1,416.3 1059.6,417.6 1061.2,418.9 C1062.8,420.1 1064.3,421.4 1065.9,422.6 C1067.5,423.8 1069,425.1 1070.6,426.3 C1072.2,427.5 1073.9,428.7 1075.5,429.8 C1077.1,431 1078.8,432.1 1080.5,433.2 C1082.1,434.3 1083.8,435.4 1085.5,436.4 C1087.3,437.4 1089,438.4 1090.7,439.4 C1092.5,440.3 1094.3,441.3 1096.1,442.2 C1097.9,443 1099.7,443.9 1101.5,444.7 C1103.3,445.5 1105.2,446.3 1107.1,447 C1108.9,447.8 1110.8,448.4 1112.7,449.1 C1114.6,449.8 1116.5,450.4 1118.4,451 C1120.3,451.6 1122.3,452 1124.1,452.7 C1126,453.4 1128.7,454.8 1129.6,455.2" stroke="#00FFFF"/>
<path d="M814.8,410.1 C815.4,409.3 817.4,407 818.7,405.5 C820,403.9 821.3,402.4 822.6,400.9 C823.9,399.4 825.3,397.9 826.6,396.4 C828,395 829.3,393.5 830.7,392 C832.1,390.5 833.4,389.1 834.8,387.6 C836.2,386.1 837.5,384.6 838.9,383.2 C840.2,381.7 841.6,380.2 842.9,378.7 C844.3,377.2 845.6,375.7 846.9,374.2 C848.2,372.7 849.5,371.1 850.8,369.6 C852.1,368 853.4,366.5 854.6,364.9 C855.9,363.4 857.1,361.8 858.4,360.3 C859.7,358.7 861,357.2 862.3,355.7 C863.7,354.2 865,352.7 866.5,351.3 C867.9,349.9 869.4,348.6 871.1,347.4 C872.7,346.2 874.5,345.3 876.3,344.4 C878,343.5 880,342.8 881.8,342 C883.6,341.1 885.4,340.3 887.2,339.3 C888.9,338.2 890.5,337.1 892.2,336 C893.8,334.8 895.4,333.6 897,332.3 C898.6,331.1 900.2,329.8 901.7,328.6 C903.3,327.4 904.9,326.1 906.5,324.9 C908,323.6 909.6,322.4 911.3,321.3 C912.9,320.1 914.6,319 916.4,318 C918.1,317 919.9,316.1 921.8,315.4 C923.6,314.6 925.6,314 927.5,313.6 C929.5,313.2 931.5,313 933.5,312.9 C935.5,312.8 937.5,312.9 939.5,313.1 C941.5,313.3 943.5,313.7 945.4,314.2 C947.4,314.7 949.3,315.3 951.2,316 C953.1,316.7 954.9,317.5 956.7,318.3 C958.5,319.1 960.3,320.1 962.1,321 C963.9,322 965.6,323 967.3,324.1 C969,325.2 970.6,326.3 972.3,327.4 C973.9,328.6 975.6,329.8 977.2,331 C978.7,332.2 980.3,333.4 981.9,334.7 C983.4,336 985,337.3 986.5,338.6 C988,339.9 989.5,341.2 991,342.6 C992.5,343.9 994,345.3 995.4,346.7 C996.9,348 998.3,349.4 999.8,350.8 C1001.2,352.2 1002.7,353.6 1004.1,355 C1005.5,356.5 1006.9,357.9 1008.3,359.3 C1009.8,360.7 1011.2,362.2 1012.6,363.6 C1014,365 1015.4,366.5 1016.7,367.9 C1018.1,369.4 1019.5,370.8 1020.9,372.3 C1022.3,373.7 1023.7,375.2 1025.1,376.6 C1026.5,378.1 1027.9,379.5 1029.2,381 C1030.6,382.4 1032,383.9 1033.4,385.3 C1034.8,386.8 1036.2,388.2 1037.6,389.6 C1039,391.1 1040.4,392.5 1041.8,393.9 C1043.3,395.4 1044.7,396.8 1046.1,398.2 C1047.5,399.6 1049,401 1050.4,402.4 C1051.9,403.8 1053.3,405.2 1054.8,406.5 C1056.3,407.9 1057.7,409.3 1059.2,410.6 C1060.7,412 1062.2,413.3 1063.7,414.6 C1065.2,416 1066.7,417.3 1068.3,418.6 C1069.8,419.9 1071.3,421.2 1072.9,422.4 C1074.5,423.7 1076,424.9 1077.6,426.2 C1079.2,427.4 1080.8,428.6 1082.5,429.7 C1084.1,430.9 1085.7,432.1 1087.4,433.2 C1089.1,434.3 1090.7,435.4 1092.5,436.5 C1094.2,437.5 1095.9,438.6 1097.6,439.5 C1099.4,440.5 1101.2,441.5 1103,442.4 C1104.8,443.2 1106.6,444.1 1108.4,444.9 C1110.3,445.7 1112.1,446.4 1114,447.1 C1115.9,447.8 1117.8,448.4 1119.8,448.9 C1121.7,449.4 1123.7,449.9 1125.6,450.3 C1127.6,450.6 1130.6,451 1131.6,451.1" stroke="#FF00FF"/>
<path d="M826.2,471.5 C827.2,471.2 830.1,470.5 831.9,469.7 C833.7,468.8 835.4,467.7 837,466.5 C838.6,465.2 840.1,463.9 841.6,462.4 C843,461 844.3,459.5 845.6,458 C846.9,456.4 848.1,454.8 849.3,453.2 C850.5,451.6 851.7,449.9 852.8,448.2 C853.9,446.6 855,444.8 856,443.1 C857.1,441.4 858.1,439.7 859.1,437.9 C860.1,436.2 861.1,434.4 862,432.6 C863,430.9 863.9,429.1 864.8,427.3 C865.8,425.5 866.7,423.7 867.6,421.9 C868.4,420.1 869.3,418.2 870.2,416.4 C871.1,414.6 871.9,412.8 872.7,411 C873.6,409.1 874.4,407.3 875.2,405.4 C876.1,403.6 876.9,401.8 877.7,399.9 C878.5,398.1 879.3,396.2 880.1,394.4 C880.9,392.5 881.7,390.7 882.4,388.8 C883.2,386.9 884,385.1 884.8,383.2 C885.5,381.3 886.3,379.5 887.1,377.6 C887.8,375.8 888.6,373.9 889.3,372 C890.1,370.1 890.8,368.3 891.6,366.4 C892.3,364.5 893.1,362.7 893.8,360.8 C894.5,358.9 895.3,357 896,355.2 C896.7,353.3 897.5,351.4 898.2,349.5 C899,347.6 899.7,345.8 900.4,343.9 C901.2,342 901.9,340.1 902.6,338.3 C903.4,336.4 904.1,334.5 904.9,332.7 C905.6,330.8 906.4,328.9 907.1,327 C907.9,325.2 908.7,323.3 909.4,321.5 C910.2,319.6 911,317.7 911.8,315.9 C912.6,314 913.4,312.2 914.2,310.3 C915,308.5 915.9,306.7 916.7,304.8 C917.6,303 918.5,301.2 919.4,299.4 C920.3,297.6 921.3,295.8 922.3,294.1 C923.3,292.4 924.4,290.6 925.5,289 C926.6,287.3 927.7,285.6 929,284 C930.2,282.5 931.5,280.9 932.9,279.5 C934.3,278 935.8,276.6 937.4,275.4 C938.9,274.1 940.6,272.9 942.4,272 C944.1,271 946,270.2 947.9,269.7 C949.9,269.1 951.9,268.7 953.9,268.6 C955.9,268.4 957.9,268.5 959.9,268.8 C961.9,269 963.9,269.5 965.8,270.1 C967.7,270.6 969.6,271.4 971.4,272.2 C973.3,273.1 975.1,274 976.8,275.1 C978.5,276.1 980.2,277.2 981.8,278.4 C983.5,279.5 985.1,280.8 986.7,282 C988.2,283.3 989.8,284.6 991.3,285.9 C992.8,287.3 994.2,288.7 995.7,290.1 C997.2,291.4 998.6,292.9 1000,294.3 C1001.4,295.7 1002.8,297.2 1004.2,298.7 C1005.5,300.2 1006.9,301.6 1008.2,303.1 C1009.6,304.6 1010.9,306.2 1012.3,307.7 C1013.6,309.2 1014.9,310.7 1016.2,312.2 C1017.5,313.8 1018.8,315.3 1020.1,316.9 C1021.4,318.4 1022.7,319.9 1024,321.5 C1025.3,323 1026.6,324.6 1027.9,326.1 C1029.2,327.7 1030.5,329.2 1031.8,330.8 C1033.1,332.3 1034.4,333.9 1035.7,335.4 C1037,336.9 1038.3,338.5 1039.6,340 C1040.9,341.5 1042.2,343.1 1043.5,344.6 C1044.9,346.1 1046.2,347.6 1047.5,349.1 C1048.9,350.6 1050.2,352.1 1051.6,353.6 C1052.9,355.1 1054.3,356.6 1055.7,358.1 C1057,359.5 1058.4,361 1059.8,362.5 C1061.1,364 1062.5,365.5 1063.9,366.9 C1065.3,368.4 1066.6,369.9 1068,371.4 C1069.4,372.8 1070.7,374.3 1072.1,375.8 C1073.5,377.3 1074.9,378.7 1076.2,380.2 C1077.6,381.7 1078.9,383.2 1080.3,384.7 C1081.7,386.2 1083,387.7 1084.4,389.2 C1085.7,390.7 1087,392.2 1088.4,393.7 C1089.7,395.2 1091,396.7 1092.4,398.2 C1093.7,399.8 1095,401.3 1096.3,402.8 C1097.6,404.4 1098.9,405.9 1100.2,407.4 C1101.5,409 1102.8,410.5 1104.2,412 C1105.5,413.5 1106.8,415.1 1108.1,416.6 C1109.5,418.1 1110.8,419.6 1112.2,421.1 C1113.5,422.6 1114.9,424 1116.3,425.5 C1117.7,426.9 1119.1,428.4 1120.6,429.8 C1122,431.2 1123.5,432.6 1125,433.9 C1126.5,435.2 1128.8,437.2 1129.6,437.8" stroke="#FFFF00"/>
<path d="M889.3,437.3 C889.7,436.4 891,433.6 891.8,431.8 C892.7,429.9 893.5,428.1 894.3,426.3 C895.2,424.5 896,422.6 896.9,420.8 C897.7,419 898.6,417.1 899.4,415.3 C900.3,413.5 901.1,411.7 902,409.8 C902.8,408 903.7,406.2 904.5,404.4 C905.4,402.5 906.2,400.7 907.1,398.9 C907.9,397 908.8,395.2 909.6,393.4 C910.5,391.6 911.3,389.7 912.2,387.9 C913,386.1 913.9,384.2 914.7,382.4 C915.6,380.6 916.4,378.8 917.2,376.9 C918.1,375.1 918.9,373.3 919.7,371.4 C920.6,369.6 921.4,367.8 922.2,365.9 C923.1,364.1 923.9,362.2 924.7,360.4 C925.6,358.6 926.4,356.7 927.2,354.9 C928,353.1 928.9,351.2 929.7,349.4 C930.5,347.6 931.4,345.7 932.2,343.9 C933.1,342.1 933.9,340.2 934.8,338.4 C935.7,336.6 936.5,334.8 937.4,333 C938.3,331.2 939.2,329.4 940.1,327.6 C941.1,325.8 942,324 943,322.2 C943.9,320.5 944.9,318.7 945.9,317 C946.9,315.2 948,313.5 949.1,311.8 C950.2,310.1 951.3,308.4 952.5,306.8 C953.7,305.2 954.9,303.6 956.3,302.1 C957.7,300.6 959.1,299.2 960.7,298 C962.3,296.8 964.1,295.7 965.9,294.9 C967.7,294.1 969.7,293.6 971.7,293.3 C973.7,293 975.7,293 977.7,293 C979.7,293.1 981.8,293.3 983.7,293.7 C985.7,294 987.7,294.5 989.6,295.1 C991.5,295.7 993.4,296.5 995.3,297.2 C997.1,298 998.9,298.9 1000.7,299.9 C1002.5,300.8 1004.2,301.9 1005.9,302.9 C1007.6,304 1009.3,305.2 1010.9,306.3 C1012.6,307.5 1014.2,308.7 1015.8,310 C1017.4,311.2 1018.9,312.5 1020.4,313.8 C1022,315.1 1023.5,316.4 1025,317.8 C1026.5,319.2 1027.9,320.5 1029.4,321.9 C1030.8,323.3 1032.3,324.7 1033.7,326.2 C1035.1,327.6 1036.5,329 1037.9,330.5 C1039.3,332 1040.7,333.4 1042.1,334.9 C1043.4,336.4 1044.8,337.9 1046.1,339.4 C1047.5,340.9 1048.8,342.4 1050.2,343.9 C1051.5,345.4 1052.8,346.9 1054.2,348.4 C1055.5,349.9 1056.8,351.4 1058.1,353 C1059.5,354.5 1060.8,356 1062.1,357.6 C1063.4,359.1 1064.7,360.6 1066,362.2 C1067.3,363.7 1068.6,365.2 1069.9,366.8 C1071.2,368.3 1072.5,369.8 1073.8,371.4 C1075.2,372.9 1076.5,374.4 1077.8,375.9 C1079.1,377.5 1080.4,379 1081.7,380.5 C1083.1,382 1084.4,383.6 1085.7,385.1 C1087,386.6 1088.4,388.1 1089.7,389.6 C1091.1,391.1 1092.4,392.6 1093.8,394.1 C1095.2,395.5 1096.5,397 1097.9,398.5 C1099.3,399.9 1100.7,401.4 1102.1,402.8 C1103.5,404.3 1105,405.7 1106.4,407.1 C1107.8,408.5 1109.3,409.9 1110.8,411.3 C1112.2,412.7 1113.7,414 1115.3,415.3 C1116.8,416.7 1118.3,418 1119.9,419.2 C1121.4,420.5 1123,421.7 1124.7,422.9 C1126.3,424.1 1128.8,425.8 1129.6,426.4" stroke="#808000"/>
<path d="M926.2,429.4 C926.7,428.6 928.3,426 929.3,424.3 C930.4,422.6 931.4,420.9 932.5,419.2 C933.6,417.5 934.6,415.8 935.7,414.1 C936.8,412.4 937.9,410.7 939,409 C940.1,407.3 941.2,405.7 942.3,404 C943.4,402.3 944.5,400.7 945.6,399 C946.8,397.4 947.9,395.7 949.1,394.1 C950.2,392.4 951.4,390.8 952.5,389.2 C953.7,387.5 954.9,385.9 956.1,384.3 C957.3,382.7 958.5,381.1 959.7,379.5 C961,377.9 962.2,376.4 963.5,374.8 C964.7,373.3 966,371.7 967.3,370.2 C968.6,368.7 970,367.2 971.3,365.7 C972.7,364.2 974.1,362.8 975.5,361.3 C976.9,359.9 978.3,358.5 979.8,357.2 C981.3,355.8 982.8,354.5 984.4,353.3 C986,352.1 987.6,350.8 989.3,349.8 C990.9,348.7 992.7,347.6 994.4,346.7 C996.2,345.8 998.1,345 1000,344.4 C1001.9,343.7 1003.8,343.2 1005.8,342.9 C1007.8,342.6 1009.8,342.4 1011.8,342.4 C1013.8,342.3 1015.8,342.5 1017.8,342.7 C1019.8,343 1021.7,343.4 1023.7,343.9 C1025.6,344.4 1027.5,345 1029.4,345.7 C1031.3,346.4 1033.1,347.2 1035,348 C1036.8,348.8 1038.6,349.8 1040.3,350.7 C1042.1,351.7 1043.8,352.7 1045.6,353.7 C1047.3,354.7 1049,355.8 1050.6,356.9 C1052.3,358 1054,359.2 1055.6,360.3 C1057.2,361.5 1058.9,362.6 1060.5,363.8 C1062.1,365 1063.7,366.2 1065.3,367.4 C1066.9,368.6 1068.5,369.8 1070.1,371.1 C1071.7,372.3 1073.3,373.5 1074.9,374.7 C1076.4,376 1078,377.2 1079.6,378.4 C1081.2,379.6 1082.8,380.8 1084.4,382 C1086,383.3 1087.6,384.5 1089.2,385.7 C1090.8,386.9 1092.4,388.1 1094,389.2 C1095.7,390.4 1097.3,391.6 1098.9,392.8 C1100.5,394 1102.1,395.2 1103.8,396.3 C1105.4,397.5 1107,398.7 1108.7,399.8 C1110.3,401 1111.9,402.1 1113.6,403.3 C1115.2,404.4 1116.9,405.6 1118.5,406.7 C1120.2,407.9 1121.8,409 1123.5,410.1 C1125.1,411.2 1126.8,412.3 1128.5,413.5 C1130.1,414.6 1131.8,415.7 1133.5,416.8 C1135.2,417.9 1136.9,418.9 1138.6,420 C1140.2,421.1 1141.9,422.2 1143.6,423.2 C1145.3,424.3 1147,425.4 1148.7,426.4 C1150.5,427.5 1152.2,428.5 1153.9,429.5 C1155.6,430.6 1157.3,431.6 1159.1,432.6 C1160.8,433.6 1162.5,434.6 1164.3,435.6 C1166,436.6 1167.8,437.6 1169.5,438.5 C1171.3,439.5 1173,440.5 1174.8,441.4 C1176.6,442.4 1178.3,443.3 1180.1,444.2 C1181.9,445.2 1183.7,446.1 1185.5,447 C1187.3,447.9 1189.1,448.8 1190.9,449.6 C1192.7,450.5 1194.5,451.4 1196.3,452.2 C1198.1,453.1 1199.9,453.9 1201.7,454.7 C1203.6,455.6 1205.4,456.4 1207.3,457.2 C1209.1,458 1210.9,458.7 1212.8,459.5 C1214.6,460.3 1216.5,461 1218.4,461.7 C1220.2,462.5 1223.1,463.5 1224,463.9" stroke="#000080"/>
<path d="M964.2,440.9 C964.8,440 966.5,437.5 967.7,435.9 C968.9,434.2 970.1,432.6 971.3,431 C972.6,429.4 973.8,427.8 975.1,426.3 C976.4,424.7 977.7,423.2 979.1,421.6 C980.4,420.1 981.8,418.6 983.2,417.2 C984.7,415.7 986.1,414.3 987.6,412.9 C989.1,411.6 990.6,410.2 992.1,408.9 C993.7,407.6 995.2,406.3 996.9,405.1 C998.5,403.9 1000.1,402.7 1001.8,401.6 C1003.5,400.5 1005.2,399.4 1007,398.4 C1008.7,397.4 1010.5,396.4 1012.4,395.5 C1014.2,394.6 1016,393.8 1017.9,393 C1019.8,392.3 1021.7,391.6 1023.6,391 C1025.6,390.3 1027.5,389.8 1029.5,389.3 C1031.4,388.8 1033.4,388.4 1035.4,388 C1037.4,387.7 1039.4,387.4 1041.4,387.2 C1043.5,387.1 1045.5,387 1047.5,386.9 C1049.5,386.9 1051.6,387 1053.6,387.1 C1055.6,387.3 1057.6,387.5 1059.6,387.8 C1061.6,388.2 1063.6,388.6 1065.6,389 C1067.6,389.5 1069.5,390.1 1071.4,390.7 C1073.4,391.3 1075.3,392 1077.2,392.8 C1079.1,393.5 1080.9,394.3 1082.8,395.1 C1084.6,396 1086.4,396.8 1088.3,397.7 C1090.1,398.6 1091.9,399.5 1093.7,400.5 C1095.5,401.4 1097.3,402.4 1099,403.4 C1100.8,404.3 1102.6,405.3 1104.4,406.3 C1106.1,407.3 1107.9,408.3 1109.6,409.3 C1111.4,410.3 1113.2,411.4 1114.9,412.4 C1116.7,413.4 1118.4,414.4 1120.2,415.4 C1121.9,416.5 1123.7,417.5 1125.4,418.5 C1127.1,419.5 1128.9,420.6 1130.6,421.6 C1132.4,422.6 1134.1,423.7 1135.9,424.7 C1137.6,425.7 1139.4,426.7 1141.1,427.7 C1142.9,428.8 1144.7,429.8 1146.4,430.8 C1148.2,431.8 1149.9,432.8 1151.7,433.8 C1153.5,434.7 1155.3,435.7 1157,436.7 C1158.8,437.7 1160.6,438.6 1162.4,439.6 C1164.2,440.5 1166,441.4 1167.8,442.4 C1169.6,443.3 1171.4,444.2 1173.2,445.1 C1175.1,446 1176.9,446.8 1178.7,447.7 C1180.6,448.6 1182.4,449.4 1184.3,450.2 C1186.1,451.1 1188,451.9 1189.8,452.7 C1191.7,453.5 1193.5,454.3 1195.4,455.1 C1197.3,455.8 1199.2,456.6 1201.1,457.3 C1203,458.1 1204.8,458.8 1206.7,459.5 C1208.6,460.2 1210.5,460.9 1212.5,461.6 C1214.4,462.2 1216.3,462.9 1218.2,463.5 C1220.1,464.2 1223,465.1 1224,465.4" stroke="#800080"/>
<path d="M1010.5,439.9 C1011.4,439.3 1014,437.7 1015.7,436.7 C1017.5,435.7 1019.3,434.8 1021.1,433.8 C1022.9,432.9 1024.7,432 1026.6,431.2 C1028.4,430.4 1030.3,429.6 1032.2,428.8 C1034.1,428.1 1036,427.4 1037.9,426.8 C1039.8,426.1 1041.8,425.5 1043.7,425 C1045.7,424.5 1047.7,424 1049.7,423.6 C1051.6,423.1 1053.6,422.8 1055.6,422.5 C1057.6,422.1 1059.7,421.9 1061.7,421.7 C1063.7,421.5 1065.7,421.3 1067.8,421.2 C1069.8,421.2 1071.8,421.1 1073.8,421.1 C1075.9,421.2 1077.9,421.2 1079.9,421.4 C1082,421.5 1084,421.7 1086,421.9 C1088,422.1 1090,422.4 1092,422.7 C1094,423 1096,423.4 1098,423.8 C1100,424.2 1102,424.6 1104,425.1 C1106,425.6 1107.9,426.1 1109.9,426.6 C1111.8,427.2 1113.8,427.8 1115.7,428.4 C1117.6,429 1119.6,429.6 1121.5,430.3 C1123.4,430.9 1125.3,431.6 1127.2,432.3 C1129.1,433 1131,433.8 1132.9,434.5 C1134.8,435.2 1136.7,436 1138.6,436.8 C1140.4,437.6 1142.3,438.3 1144.2,439.1 C1146.1,439.9 1147.9,440.7 1149.8,441.6 C1151.6,442.4 1153.5,443.2 1155.3,444 C1157.2,444.8 1159.1,445.7 1160.9,446.5 C1162.8,447.3 1164.6,448.1 1166.5,449 C1168.3,449.8 1170.2,450.6 1172.1,451.4 C1173.9,452.2 1175.8,453 1177.7,453.8 C1179.5,454.6 1181.4,455.4 1183.3,456.1 C1185.2,456.9 1187.1,457.7 1188.9,458.4 C1190.8,459.1 1192.7,459.8 1194.7,460.5 C1196.6,461.2 1198.5,461.9 1200.4,462.5 C1202.3,463.2 1204.3,463.8 1206.2,464.4 C1208.2,464.9 1210.1,465.5 1212.1,466 C1214.1,466.5 1216,467 1218,467.4 C1220,467.8 1223,468.3 1224,468.5" stroke="#800000"/>
<path d="M1047.4,463.6 C1048.3,463.2 1051,461.8 1052.9,461 C1054.7,460.2 1056.6,459.5 1058.5,458.8 C1060.4,458.1 1062.3,457.4 1064.2,456.8 C1066.1,456.2 1068,455.7 1070,455.2 C1071.9,454.7 1073.9,454.2 1075.9,453.8 C1077.8,453.4 1079.8,453 1081.8,452.7 C1083.8,452.4 1085.8,452.2 1087.8,452 C1089.8,451.8 1091.8,451.6 1093.8,451.5 C1095.8,451.4 1097.8,451.3 1099.8,451.3 C1101.8,451.2 1103.8,451.3 1105.9,451.3 C1107.9,451.4 1109.9,451.4 1111.9,451.6 C1113.9,451.7 1115.9,451.9 1117.9,452.1 C1119.9,452.2 1121.9,452.5 1123.9,452.7 C1125.9,453 1127.9,453.3 1129.9,453.6 C1131.9,453.9 1133.8,454.2 1135.8,454.5 C1137.8,454.9 1139.8,455.3 1141.8,455.7 C1143.7,456.1 1145.7,456.5 1147.7,456.9 C1149.6,457.3 1151.6,457.8 1153.6,458.2 C1155.5,458.7 1157.5,459.1 1159.4,459.6 C1161.4,460.1 1163.3,460.6 1165.3,461.1 C1167.2,461.5 1169.2,462 1171.1,462.5 C1173.1,463 1175,463.5 1177,464 C1178.9,464.6 1180.9,465.1 1182.8,465.6 C1184.8,466.1 1186.7,466.6 1188.7,467.1 C1190.6,467.6 1192.6,468.1 1194.5,468.5 C1196.5,469 1198.4,469.5 1200.4,470 C1202.3,470.4 1204.3,470.9 1206.3,471.3 C1208.2,471.8 1210.2,472.2 1212.1,472.6 C1214.1,473 1216.1,473.4 1218.1,473.8 C1220,474.2 1223,474.7 1224,474.9" stroke="#008000"/>
</g>
<line x1="970.7" y1="88.3" x2="1035" y2="88.3" stroke="#FF0000" stroke-width="6"/>
<text x="1042.3" y="97.9" font-size="28">280</text>
<line x1="970.7" y1="123.3" x2="1035" y2="123.3" stroke="#00FF00" stroke-width="6"/>
<text x="1042.7" y="132.9" font-size="28">300</text>
<line x1="970.7" y1="158.3" x2="1035" y2="158.3" stroke="#0000FF" stroke-width="6"/>
<text x="1042.7" y="167.9" font-size="28">320</text>
<line x1="970.7" y1="192.7" x2="1035" y2="192.7" stroke="#00FFFF" stroke-width="6"/>
<text x="1042.7" y="202.3" font-size="28">340</text>
<line x1="970.7" y1="227.7" x2="1035" y2="227.7" stroke="#FF00FF" stroke-width="6"/>
<text x="1042.7" y="237.3" font-size="28">360</text>
<line x1="970.7" y1="262.3" x2="1035" y2="262.3" stroke="#FFFF00" stroke-width="6"/>
<text x="1042.7" y="271.9" font-size="28">380</text>
<line x1="1096.7" y1="88.3" x2="1160" y2="88.3" stroke="#808000" stroke-width="6"/>
<text x="1167.9" y="97.9" font-size="28">400</text>
<line x1="1096.7" y1="123.3" x2="1160" y2="123.3" stroke="#000080" stroke-width="6"/>
<text x="1167.9" y="132.9" font-size="28">420</text>
<line x1="1096.7" y1="158.3" x2="1160" y2="158.3" stroke="#800080" stroke-width="6"/>
<text x="1167.9" y="167.9" font-size="28">440</text>
<line x1="1096.7" y1="192.7" x2="1160" y2="192.7" stroke="#800000" stroke-width="6"/>
<text x="1167.9" y="202.3" font-size="28">460</text>
<line x1="1096.7" y1="227.7" x2="1160" y2="227.7" stroke="#008000" stroke-width="6"/>
<text x="1167.9" y="237.3" font-size="28">480</text>
<line x1="711.8" y1="491.1" x2="711.8" y2="495.1" stroke="#000" stroke-width="2"/>
<line x1="758.3" y1="491.1" x2="758.3" y2="499.1" stroke="#000" stroke-width="2"/>
<line x1="804.9" y1="491.1" x2="804.9" y2="495.1" stroke="#000" stroke-width="2"/>
<line x1="851.4" y1="491.1" x2="851.4" y2="499.1" stroke="#000" stroke-width="2"/>
<line x1="898" y1="491.1" x2="898" y2="495.1" stroke="#000" stroke-width="2"/>
<line x1="944.5" y1="491.1" x2="944.5" y2="499.1" stroke="#000" stroke-width="2"/>
<line x1="991" y1="491.1" x2="991" y2="495.1" stroke="#000" stroke-width="2"/>
<line x1="1037.6" y1="491.1" x2="1037.6" y2="499.1" stroke="#000" stroke-width="2"/>
<line x1="1084.1" y1="491.1" x2="1084.1" y2="495.1" stroke="#000" stroke-width="2"/>
<line x1="1130.6" y1="491.1" x2="1130.6" y2="499.1" stroke="#000" stroke-width="2"/>
<line x1="1177.2" y1="491.1" x2="1177.2" y2="495.1" stroke="#000" stroke-width="2"/>
<line x1="1223.7" y1="491.1" x2="1223.7" y2="499.1" stroke="#000" stroke-width="2"/>
<text x="729.5" y="532.4" font-size="35">350</text>
<text x="822.7" y="532.4" font-size="35">400</text>
<text x="915.7" y="532.4" font-size="35">450</text>
<text x="1008.6" y="532.4" font-size="35">500</text>
<text x="1101.6" y="532.4" font-size="35">550</text>
<text x="1194.6" y="532.4" font-size="35">600</text>
<text x="795.9" y="62.9" font-size="35">384</text>
<text x="926.2" y="62.9" font-size="35">455</text>
<text x="713.5" y="41.1" font-size="58">b</text>
<text x="772.2" y="581.2" font-size="48">Wavelength (nm)</text>
<text transform="translate(664.9,458.6) rotate(-90)" x="0" y="0" font-size="47.4">PL Intensity (a.u.)</text>
</g>
<g id="panel-c">
<line x1="1588" y1="64.6" x2="1588" y2="485" stroke="#111" stroke-width="1.4"/>
<line x1="1700.3" y1="64.6" x2="1700.3" y2="485" stroke="#111" stroke-width="1.4"/>
<rect x="1336.6" y="64.6" width="521.4" height="420.4" fill="none" stroke="#000" stroke-width="2"/>
<g clip-path="url(#clip-c)" fill="none" stroke-width="5.5" stroke-linejoin="round" stroke-linecap="butt">
<path d="M1336,482 C1337,482.1 1340,482.2 1342,482.3 C1344,482.3 1346,482.3 1348,482.2 C1350,482.2 1352,482.1 1354,481.9 C1356,481.8 1358,481.6 1360,481.4 C1362,481.2 1364,480.9 1366,480.6 C1368,480.4 1369.9,480 1371.9,479.7 C1373.9,479.4 1375.9,479 1377.8,478.7 C1379.8,478.3 1381.8,477.9 1383.7,477.5 C1385.7,477.1 1387.7,476.7 1389.6,476.3 C1391.6,475.9 1393.5,475.5 1395.5,475 C1397.4,474.6 1399.4,474.2 1401.4,473.8 C1403.3,473.3 1405.3,472.9 1407.2,472.5 C1409.2,472.1 1411.2,471.7 1413.1,471.3 C1415.1,470.9 1417.1,470.5 1419,470.1 C1421,469.8 1423,469.4 1425,469.1 C1426.9,468.8 1428.9,468.5 1430.9,468.2 C1432.9,468 1434.9,467.7 1436.9,467.5 C1438.9,467.3 1440.9,467.1 1442.9,467 C1444.9,466.9 1446.9,466.7 1448.9,466.6 C1450.9,466.5 1452.9,466.5 1454.9,466.4 C1456.9,466.3 1458.9,466.3 1460.9,466.3 C1462.9,466.2 1464.9,466.2 1466.9,466.1 C1468.9,466.1 1470.9,466.1 1472.9,466 C1474.9,466 1476.9,465.9 1478.9,465.8 C1480.9,465.8 1482.9,465.7 1484.9,465.6 C1486.9,465.4 1488.9,465.3 1490.9,465.2 C1492.9,465 1494.9,464.8 1496.9,464.6 C1498.9,464.3 1500.9,464.1 1502.8,463.8 C1504.8,463.5 1506.8,463.1 1508.8,462.7 C1510.7,462.3 1512.7,461.9 1514.6,461.4 C1516.6,461 1518.5,460.4 1520.5,459.9 C1522.4,459.4 1524.3,458.8 1526.2,458.3 C1528.2,457.7 1530.1,457.1 1532,456.5 C1533.9,455.9 1535.8,455.3 1537.7,454.7 C1539.6,454.1 1541.5,453.5 1543.4,452.9 C1545.3,452.2 1547.3,451.6 1549.2,451 C1551.1,450.4 1553,449.8 1554.9,449.3 C1556.8,448.7 1558.8,448.1 1560.7,447.6 C1562.6,447.1 1564.6,446.6 1566.5,446.1 C1568.4,445.6 1570.4,445.1 1572.3,444.6 C1574.3,444.2 1576.2,443.7 1578.2,443.3 C1580.1,442.8 1582.1,442.3 1584,441.9 C1586,441.4 1587.9,441 1589.9,440.5 C1591.8,440 1593.8,439.5 1595.7,439 C1597.6,438.5 1599.6,437.9 1601.5,437.4 C1603.4,436.8 1605.3,436.2 1607.2,435.6 C1609.1,435 1611,434.3 1612.9,433.6 C1614.8,432.9 1616.7,432.2 1618.5,431.4 C1620.4,430.6 1622.2,429.8 1624,429 C1625.8,428.1 1627.6,427.2 1629.4,426.3 C1631.1,425.3 1632.9,424.3 1634.6,423.3 C1636.4,422.4 1638.1,421.3 1639.8,420.3 C1641.5,419.3 1643.3,418.3 1645,417.2 C1646.7,416.2 1648.4,415.2 1650.1,414.2 C1651.9,413.1 1653.6,412.1 1655.3,411.2 C1657.1,410.2 1658.9,409.2 1660.6,408.3 C1662.4,407.4 1664.2,406.5 1666,405.7 C1667.9,404.8 1669.7,404.1 1671.6,403.3 C1673.4,402.6 1675.3,401.9 1677.2,401.3 C1679.1,400.7 1681.1,400.1 1683,399.6 C1685,399.2 1686.9,398.7 1688.9,398.4 C1690.9,398 1692.9,397.8 1694.8,397.6 C1696.8,397.4 1698.8,397.2 1700.8,397.2 C1702.8,397.2 1704.9,397.2 1706.8,397.4 C1708.8,397.5 1710.8,397.7 1712.8,398.1 C1714.8,398.4 1716.8,398.8 1718.7,399.2 C1720.7,399.7 1722.6,400.3 1724.5,400.9 C1726.4,401.6 1729.2,402.7 1730.1,403.1" stroke="#FF0000"/>
<path d="M1373.7,482 C1374.7,481.8 1377.6,481 1379.6,480.5 C1381.5,480 1383.5,479.6 1385.5,479.2 C1387.5,478.7 1389.4,478.3 1391.4,478 C1393.4,477.6 1395.4,477.2 1397.4,476.9 C1399.4,476.6 1401.4,476.3 1403.4,476 C1405.4,475.7 1407.4,475.4 1409.4,475.2 C1411.4,474.9 1413.4,474.7 1415.4,474.4 C1417.4,474.2 1419.4,474 1421.5,473.8 C1423.5,473.5 1425.5,473.3 1427.5,473.1 C1429.5,472.9 1431.5,472.7 1433.5,472.6 C1435.5,472.4 1437.5,472.2 1439.6,472 C1441.6,471.8 1443.6,471.6 1445.6,471.4 C1447.6,471.2 1449.6,471 1451.6,470.7 C1453.6,470.5 1455.6,470.3 1457.6,470.1 C1459.7,469.8 1461.7,469.6 1463.7,469.3 C1465.7,469 1467.7,468.8 1469.7,468.5 C1471.7,468.2 1473.7,467.8 1475.7,467.5 C1477.7,467.2 1479.6,466.8 1481.6,466.4 C1483.6,466 1485.6,465.6 1487.6,465.2 C1489.5,464.7 1491.5,464.3 1493.5,463.8 C1495.4,463.3 1497.4,462.8 1499.3,462.2 C1501.3,461.7 1503.2,461.1 1505.1,460.5 C1507.1,459.8 1509,459.2 1510.9,458.5 C1512.8,457.8 1514.7,457.1 1516.6,456.4 C1518.4,455.7 1520.3,454.9 1522.2,454.1 C1524,453.4 1525.9,452.6 1527.8,451.8 C1529.6,451 1531.5,450.1 1533.3,449.3 C1535.1,448.5 1537,447.6 1538.8,446.8 C1540.6,445.9 1542.5,445 1544.3,444.2 C1546.1,443.3 1548,442.4 1549.8,441.6 C1551.6,440.7 1553.4,439.8 1555.2,439 C1557.1,438.1 1558.9,437.2 1560.7,436.4 C1562.6,435.5 1564.4,434.7 1566.2,433.8 C1568.1,433 1569.9,432.1 1571.7,431.3 C1573.6,430.5 1575.4,429.7 1577.3,428.9 C1579.2,428.1 1581,427.3 1582.9,426.5 C1584.8,425.8 1586.7,425.1 1588.6,424.3 C1590.4,423.6 1592.4,423 1594.3,422.3 C1596.2,421.6 1598.1,421 1600,420.4 C1601.9,419.7 1603.8,419.1 1605.8,418.4 C1607.7,417.8 1609.6,417.2 1611.5,416.5 C1613.4,415.8 1615.3,415.2 1617.2,414.5 C1619.1,413.7 1621,413 1622.9,412.2 C1624.7,411.4 1626.6,410.6 1628.4,409.8 C1630.2,408.9 1632,408 1633.9,407.1 C1635.7,406.2 1637.5,405.3 1639.3,404.4 C1641.1,403.5 1642.9,402.6 1644.7,401.8 C1646.6,400.9 1648.4,400.1 1650.3,399.3 C1652.1,398.5 1654,397.7 1655.9,397 C1657.8,396.3 1659.7,395.6 1661.6,395 C1663.5,394.4 1665.5,393.8 1667.4,393.3 C1669.4,392.8 1671.4,392.4 1673.4,392 C1675.3,391.6 1677.3,391.3 1679.4,391.1 C1681.4,390.8 1683.4,390.7 1685.4,390.6 C1687.4,390.6 1689.4,390.6 1691.5,390.7 C1693.5,390.9 1695.5,391.1 1697.5,391.4 C1699.5,391.7 1701.5,392.1 1703.4,392.6 C1705.4,393.1 1707.3,393.7 1709.2,394.3 C1711.2,395 1713.1,395.7 1714.9,396.4 C1716.8,397.2 1718.7,398 1720.5,398.8 C1722.4,399.6 1724.2,400.5 1726,401.4 C1727.8,402.2 1729.6,403.2 1731.4,404.1 C1733.2,405 1735,405.9 1736.8,406.9 C1738.6,407.8 1740.4,408.8 1742.1,409.8 C1743.9,410.7 1745.7,411.7 1747.5,412.6 C1749.3,413.6 1751,414.6 1752.8,415.5 C1754.6,416.5 1756.4,417.4 1758.1,418.4 C1759.9,419.4 1761.7,420.3 1763.5,421.3 C1765.3,422.2 1767.1,423.2 1768.9,424.1 C1770.6,425 1772.4,426 1774.2,426.9 C1776,427.8 1777.8,428.8 1779.6,429.7 C1781.4,430.6 1783.3,431.5 1785.1,432.4 C1786.9,433.2 1788.7,434.1 1790.5,435 C1792.4,435.8 1794.2,436.7 1796.1,437.5 C1797.9,438.3 1799.8,439.1 1801.6,439.9 C1803.5,440.7 1805.3,441.5 1807.2,442.2 C1809.1,443 1811,443.7 1812.9,444.4 C1814.8,445.1 1817.6,446.1 1818.6,446.4" stroke="#00FF00"/>
<path d="M1411.4,441.6 C1412.3,442 1415.1,443.2 1417.1,443.7 C1419,444.2 1421.1,444.3 1423.1,444.4 C1425.1,444.4 1427.1,444.2 1429.1,443.9 C1431.1,443.7 1433.1,443.3 1435.1,442.9 C1437.1,442.6 1439.1,442.2 1441,441.8 C1443,441.5 1445,441.2 1447,440.9 C1449,440.6 1451,440.3 1453,440.1 C1455,439.8 1457,439.6 1459,439.3 C1461,439.1 1463,438.9 1465,438.7 C1467.1,438.4 1469.1,438.2 1471.1,438 C1473.1,437.8 1475.1,437.6 1477.1,437.4 C1479.1,437.2 1481.1,436.9 1483.1,436.7 C1485.1,436.5 1487.1,436.2 1489.1,436 C1491.1,435.7 1493.1,435.4 1495.1,435.1 C1497.1,434.8 1499.1,434.5 1501.1,434.2 C1503.1,433.8 1505.1,433.4 1507,433 C1509,432.6 1511,432.2 1513,431.7 C1514.9,431.3 1516.9,430.8 1518.8,430.3 C1520.8,429.8 1522.7,429.3 1524.7,428.7 C1526.6,428.2 1528.6,427.6 1530.5,427 C1532.4,426.4 1534.3,425.8 1536.3,425.2 C1538.2,424.6 1540.1,424 1542,423.3 C1543.9,422.7 1545.9,422.1 1547.8,421.4 C1549.7,420.8 1551.6,420.1 1553.5,419.4 C1555.4,418.8 1557.3,418.1 1559.2,417.4 C1561.1,416.8 1563,416.1 1564.9,415.4 C1566.8,414.8 1568.7,414.1 1570.6,413.4 C1572.5,412.8 1574.5,412.1 1576.4,411.5 C1578.3,410.8 1580.2,410.2 1582.1,409.5 C1584,408.9 1585.9,408.3 1587.9,407.7 C1589.8,407 1591.7,406.4 1593.6,405.8 C1595.6,405.3 1597.5,404.7 1599.4,404.1 C1601.4,403.6 1603.3,403 1605.3,402.4 C1607.2,401.9 1609.2,401.4 1611.1,400.8 C1613,400.3 1615,399.8 1616.9,399.2 C1618.9,398.7 1620.8,398.2 1622.8,397.7 C1624.7,397.2 1626.7,396.7 1628.6,396.1 C1630.6,395.6 1632.6,395.1 1634.5,394.6 C1636.5,394.1 1638.4,393.5 1640.3,393 C1642.3,392.5 1644.2,391.9 1646.2,391.4 C1648.1,390.9 1650.1,390.3 1652,389.8 C1654,389.3 1655.9,388.7 1657.9,388.3 C1659.8,387.8 1661.8,387.3 1663.8,386.9 C1665.7,386.4 1667.7,386 1669.7,385.7 C1671.7,385.4 1673.7,385.1 1675.7,384.9 C1677.7,384.6 1679.7,384.5 1681.8,384.4 C1683.8,384.4 1685.8,384.4 1687.8,384.5 C1689.8,384.7 1691.8,384.9 1693.8,385.3 C1695.8,385.6 1697.8,386.1 1699.7,386.6 C1701.7,387.1 1703.6,387.8 1705.5,388.4 C1707.4,389.1 1709.3,389.9 1711.1,390.6 C1713,391.4 1714.8,392.2 1716.7,393.1 C1718.5,393.9 1720.3,394.8 1722.2,395.6 C1724,396.5 1725.8,397.4 1727.6,398.2 C1729.5,399.1 1731.3,399.9 1733.1,400.8 C1735,401.6 1736.8,402.4 1738.6,403.3 C1740.4,404.2 1742.3,405.1 1744.1,406 C1745.9,406.9 1747.6,407.8 1749.4,408.8 C1751.2,409.7 1753,410.7 1754.7,411.7 C1756.5,412.7 1758.2,413.7 1760,414.7 C1761.7,415.7 1763.5,416.7 1765.2,417.7 C1767,418.8 1768.7,419.8 1770.4,420.8 C1772.2,421.8 1773.9,422.9 1775.7,423.9 C1777.4,424.9 1779.1,425.9 1780.9,427 C1782.6,428 1784.4,429 1786.1,430 C1787.9,430.9 1789.7,431.9 1791.4,432.9 C1793.2,433.9 1795,434.8 1796.8,435.7 C1798.6,436.7 1800.4,437.6 1802.2,438.4 C1804,439.3 1805.9,440.2 1807.7,441 C1809.6,441.8 1811.4,442.5 1813.3,443.3 C1815.2,444 1818.1,445 1819,445.3" stroke="#0000FF"/>
<path d="M1448.2,401.2 C1449.2,400.9 1451.9,399.5 1453.9,399.2 C1455.9,398.9 1458,399.1 1460,399.3 C1461.9,399.6 1463.9,400.2 1465.9,400.6 C1467.8,401.1 1469.8,401.8 1471.8,402.2 C1473.7,402.5 1475.8,402.9 1477.8,402.9 C1479.8,403 1481.8,402.7 1483.8,402.4 C1485.8,402 1487.7,401.4 1489.6,400.8 C1491.5,400.1 1493.4,399.3 1495.3,398.5 C1497.1,397.7 1498.9,396.8 1500.7,395.9 C1502.5,395 1504.3,394 1506.1,393.1 C1507.9,392.1 1509.7,391.2 1511.5,390.2 C1513.3,389.3 1515.1,388.4 1516.9,387.4 C1518.7,386.5 1520.5,385.6 1522.3,384.7 C1524.1,383.8 1525.9,382.9 1527.7,382.1 C1529.6,381.2 1531.4,380.4 1533.2,379.5 C1535.1,378.7 1536.9,377.9 1538.8,377.1 C1540.7,376.3 1542.5,375.5 1544.4,374.8 C1546.3,374.1 1548.2,373.4 1550.1,372.7 C1552,372 1553.9,371.4 1555.9,370.8 C1557.8,370.2 1559.8,369.7 1561.7,369.2 C1563.7,368.7 1565.6,368.2 1567.6,367.8 C1569.6,367.4 1571.6,367.1 1573.6,366.8 C1575.6,366.6 1577.6,366.4 1579.7,366.3 C1581.7,366.2 1583.7,366.2 1585.7,366.3 C1587.7,366.4 1589.8,366.6 1591.8,366.9 C1593.8,367.2 1595.7,367.7 1597.7,368.2 C1599.7,368.6 1601.6,369.3 1603.5,369.8 C1605.5,370.3 1607.4,370.9 1609.4,371.3 C1611.4,371.7 1613.4,372.1 1615.4,372.3 C1617.4,372.6 1619.4,372.7 1621.4,372.9 C1623.4,373 1625.5,373 1627.5,373 C1629.5,373 1631.5,373 1633.6,372.9 C1635.6,372.8 1637.6,372.7 1639.6,372.6 C1641.6,372.6 1643.7,372.4 1645.7,372.4 C1647.7,372.3 1649.7,372.2 1651.7,372.1 C1653.8,372.1 1655.8,372.1 1657.8,372.1 C1659.8,372.2 1661.9,372.2 1663.9,372.4 C1665.9,372.5 1667.9,372.7 1669.9,373 C1671.9,373.3 1673.9,373.6 1675.9,374 C1677.9,374.3 1679.9,374.8 1681.8,375.2 C1683.8,375.7 1685.8,376.2 1687.7,376.8 C1689.6,377.3 1691.6,377.9 1693.5,378.6 C1695.4,379.2 1697.3,379.9 1699.2,380.6 C1701.1,381.3 1703,382 1704.9,382.8 C1706.8,383.5 1708.6,384.3 1710.5,385.1 C1712.3,385.9 1714.2,386.7 1716,387.6 C1717.9,388.4 1719.7,389.3 1721.5,390.2 C1723.3,391.1 1725.1,392 1726.9,392.9 C1728.7,393.9 1730.5,394.8 1732.3,395.7 C1734.1,396.7 1735.9,397.6 1737.6,398.6 C1739.4,399.6 1741.2,400.6 1742.9,401.6 C1744.7,402.5 1746.5,403.5 1748.2,404.5 C1750,405.5 1751.7,406.6 1753.5,407.6 C1755.2,408.6 1757,409.6 1758.7,410.6 C1760.5,411.6 1762.2,412.7 1764,413.7 C1765.7,414.7 1767.5,415.7 1769.2,416.7 C1771,417.8 1772.7,418.8 1774.5,419.8 C1776.2,420.8 1777.9,421.8 1779.7,422.8 C1781.5,423.8 1783.2,424.8 1785,425.8 C1786.7,426.8 1788.5,427.8 1790.3,428.8 C1792,429.8 1793.8,430.8 1795.6,431.7 C1797.4,432.7 1799.1,433.6 1800.9,434.6 C1802.7,435.5 1804.5,436.4 1806.3,437.3 C1808.1,438.3 1810,439.1 1811.8,440 C1813.6,440.9 1815.4,441.7 1817.3,442.6 C1819.1,443.4 1821,444.2 1822.8,445 C1824.7,445.8 1826.6,446.6 1828.5,447.3 C1830.4,448 1832.2,448.7 1834.2,449.4 C1836.1,450.1 1838,450.7 1839.9,451.3 C1841.8,451.9 1843.8,452.5 1845.7,453 C1847.7,453.5 1849.7,454 1851.6,454.4 C1853.6,454.9 1856.6,455.4 1857.6,455.6" stroke="#00FFFF"/>
<path d="M1486,414.7 C1486.3,413.7 1487.4,410.8 1488.1,409 C1488.8,407.1 1489.5,405.2 1490.2,403.3 C1491,401.4 1491.8,399.6 1492.6,397.7 C1493.4,395.9 1494.2,394 1495.1,392.2 C1495.9,390.3 1496.8,388.5 1497.7,386.7 C1498.6,384.9 1499.6,383.1 1500.5,381.4 C1501.5,379.6 1502.5,377.8 1503.5,376.1 C1504.5,374.4 1505.6,372.6 1506.7,370.9 C1507.8,369.2 1508.9,367.5 1510,365.8 C1511.1,364.2 1512.3,362.5 1513.4,360.8 C1514.6,359.2 1515.7,357.5 1516.9,355.9 C1518,354.2 1519.2,352.6 1520.3,350.9 C1521.5,349.2 1522.6,347.6 1523.8,345.9 C1524.9,344.2 1526.1,342.6 1527.2,340.9 C1528.4,339.2 1529.5,337.6 1530.7,335.9 C1531.8,334.3 1533,332.6 1534.1,330.9 C1535.3,329.3 1536.5,327.7 1537.7,326 C1538.9,324.4 1540.1,322.8 1541.3,321.2 C1542.5,319.6 1543.8,318 1545,316.4 C1546.3,314.8 1547.6,313.3 1548.9,311.8 C1550.3,310.2 1551.6,308.7 1553,307.3 C1554.5,305.9 1555.9,304.5 1557.4,303.1 C1559,301.8 1560.5,300.5 1562.2,299.4 C1563.8,298.2 1565.6,297.1 1567.4,296.2 C1569.2,295.3 1571,294.5 1573,294 C1574.9,293.4 1576.9,293.1 1578.9,293 C1580.9,293 1583,293.2 1585,293.6 C1586.9,294.1 1588.8,294.9 1590.6,295.8 C1592.5,296.6 1594.2,297.7 1595.9,298.7 C1597.6,299.8 1599.3,300.9 1601,302.1 C1602.6,303.2 1604.2,304.4 1605.9,305.6 C1607.6,306.7 1609.2,307.9 1610.9,309 C1612.6,310.1 1614.4,311.1 1616.1,312.1 C1617.8,313.2 1619.6,314.2 1621.4,315.2 C1623.1,316.1 1624.9,317.1 1626.7,318 C1628.5,318.9 1630.3,319.8 1632.1,320.7 C1634,321.5 1635.8,322.4 1637.6,323.2 C1639.5,324.1 1641.3,324.9 1643.2,325.7 C1645,326.5 1646.9,327.3 1648.7,328.1 C1650.6,328.9 1652.4,329.7 1654.3,330.6 C1656.1,331.4 1658,332.2 1659.8,333 C1661.7,333.8 1663.5,334.7 1665.3,335.5 C1667.2,336.4 1669,337.3 1670.8,338.1 C1672.6,339 1674.4,339.9 1676.3,340.8 C1678.1,341.7 1679.9,342.6 1681.7,343.6 C1683.4,344.5 1685.2,345.4 1687,346.4 C1688.8,347.3 1690.6,348.3 1692.3,349.3 C1694.1,350.2 1695.9,351.2 1697.6,352.2 C1699.4,353.2 1701.2,354.2 1702.9,355.2 C1704.7,356.2 1706.4,357.2 1708.1,358.3 C1709.9,359.3 1711.6,360.3 1713.4,361.4 C1715.1,362.4 1716.8,363.5 1718.5,364.5 C1720.2,365.6 1722,366.7 1723.7,367.7 C1725.4,368.8 1727.1,369.9 1728.8,371 C1730.5,372.1 1732.2,373.2 1733.9,374.3 C1735.6,375.4 1737.3,376.5 1739,377.6 C1740.7,378.7 1742.3,379.8 1744,380.9 C1745.7,382.1 1747.4,383.2 1749,384.3 C1750.7,385.5 1752.4,386.6 1754,387.7 C1755.7,388.9 1757.4,390 1759,391.2 C1760.7,392.3 1762.3,393.5 1764,394.7 C1765.7,395.8 1767.3,397 1769,398.2 C1770.6,399.3 1772.2,400.5 1773.9,401.7 C1775.5,402.9 1777.2,404 1778.8,405.2 C1780.5,406.4 1782.1,407.6 1783.7,408.7 C1785.4,409.9 1787,411.1 1788.7,412.3 C1790.3,413.4 1792,414.6 1793.6,415.8 C1795.3,416.9 1796.9,418.1 1798.6,419.2 C1800.2,420.4 1801.9,421.5 1803.6,422.7 C1805.3,423.8 1806.9,424.9 1808.6,426 C1810.3,427.1 1812,428.2 1813.7,429.3 C1815.4,430.4 1817.2,431.4 1818.9,432.5 C1820.6,433.5 1822.4,434.5 1824.1,435.5 C1825.9,436.5 1827.7,437.5 1829.5,438.4 C1831.3,439.3 1833.1,440.3 1834.9,441.1 C1836.7,442 1838.5,442.8 1840.4,443.6 C1842.3,444.4 1844.1,445.2 1846,445.9 C1847.9,446.6 1849.8,447.3 1851.8,447.9 C1853.7,448.5 1856.6,449.2 1857.6,449.5" stroke="#FF00FF"/>
<path d="M1522.8,353.6 C1523.1,352.7 1524,349.8 1524.6,347.8 C1525.2,345.9 1525.8,344 1526.3,342 C1526.9,340.1 1527.5,338.1 1528.1,336.2 C1528.7,334.3 1529.3,332.3 1529.9,330.4 C1530.5,328.5 1531.1,326.5 1531.7,324.6 C1532.2,322.6 1532.8,320.7 1533.4,318.8 C1534,316.8 1534.7,314.9 1535.3,313 C1535.9,311.1 1536.5,309.1 1537.1,307.2 C1537.7,305.3 1538.4,303.3 1539,301.4 C1539.7,299.5 1540.3,297.6 1541,295.7 C1541.6,293.8 1542.3,291.8 1543,289.9 C1543.7,288 1544.4,286.1 1545.1,284.2 C1545.8,282.4 1546.6,280.5 1547.3,278.6 C1548.1,276.7 1548.9,274.9 1549.7,273 C1550.5,271.2 1551.4,269.3 1552.3,267.5 C1553.2,265.7 1554.1,263.9 1555.1,262.1 C1556.1,260.4 1557.1,258.6 1558.2,256.9 C1559.3,255.2 1560.5,253.5 1561.7,251.9 C1562.9,250.3 1564.3,248.8 1565.6,247.3 C1567,245.9 1568.5,244.4 1570.1,243.1 C1571.6,241.8 1573.2,240.6 1574.9,239.5 C1576.6,238.4 1578.4,237.4 1580.3,236.6 C1582.1,235.8 1584,235.2 1586,234.7 C1588,234.2 1590,234 1592,233.9 C1594,233.8 1596.1,233.9 1598.1,234.1 C1600.1,234.3 1602.1,234.7 1604.1,235.2 C1606,235.6 1608,236.2 1609.9,236.8 C1611.9,237.3 1613.8,238 1615.7,238.7 C1617.6,239.3 1619.5,240.1 1621.4,240.7 C1623.3,241.4 1625.2,242.1 1627.1,242.8 C1629,243.5 1631,244.1 1632.9,244.7 C1634.8,245.3 1636.8,245.8 1638.7,246.3 C1640.7,246.9 1642.7,247.3 1644.6,247.8 C1646.6,248.3 1648.6,248.8 1650.5,249.3 C1652.5,249.8 1654.5,250.2 1656.4,250.8 C1658.4,251.3 1660.3,251.8 1662.3,252.4 C1664.2,252.9 1666.2,253.5 1668.1,254.1 C1670,254.8 1671.9,255.5 1673.8,256.2 C1675.7,257 1677.5,257.7 1679.4,258.6 C1681.2,259.5 1683,260.4 1684.8,261.4 C1686.6,262.3 1688.3,263.4 1690,264.5 C1691.7,265.5 1693.4,266.7 1695,267.9 C1696.7,269.1 1698.3,270.3 1699.9,271.5 C1701.5,272.8 1703,274.1 1704.6,275.4 C1706.2,276.7 1707.7,278 1709.2,279.3 C1710.7,280.6 1712.3,282 1713.8,283.3 C1715.3,284.7 1716.8,286 1718.3,287.4 C1719.7,288.8 1721.2,290.2 1722.6,291.6 C1724.1,293.1 1725.5,294.5 1726.9,296 C1728.3,297.5 1729.6,299 1731,300.5 C1732.3,302 1733.7,303.5 1735,305 C1736.3,306.6 1737.6,308.1 1738.9,309.7 C1740.2,311.2 1741.5,312.8 1742.8,314.4 C1744,315.9 1745.3,317.5 1746.6,319.1 C1747.8,320.7 1749.1,322.3 1750.3,323.9 C1751.6,325.5 1752.8,327.1 1754.1,328.7 C1755.3,330.2 1756.6,331.8 1757.8,333.4 C1759.1,335 1760.4,336.6 1761.6,338.2 C1762.9,339.8 1764.1,341.4 1765.4,342.9 C1766.7,344.5 1768,346.1 1769.3,347.6 C1770.6,349.2 1771.9,350.7 1773.2,352.3 C1774.5,353.8 1775.8,355.3 1777.2,356.8 C1778.5,358.4 1779.9,359.9 1781.2,361.4 C1782.6,362.9 1784,364.4 1785.3,365.8 C1786.7,367.3 1788.1,368.8 1789.5,370.3 C1790.9,371.8 1792.3,373.2 1793.6,374.7 C1795,376.2 1796.4,377.7 1797.8,379.1 C1799.2,380.6 1800.6,382.1 1802,383.5 C1803.4,385 1804.8,386.5 1806.1,388 C1807.5,389.4 1808.9,390.9 1810.3,392.4 C1811.7,393.8 1813.1,395.3 1814.6,396.7 C1816,398.2 1817.4,399.6 1818.9,401 C1820.4,402.4 1821.8,403.8 1823.3,405.1 C1824.8,406.5 1826.4,407.8 1827.9,409.2 C1829.4,410.5 1831,411.8 1832.6,413 C1834.1,414.3 1835.7,415.6 1837.4,416.8 C1839,418 1840.6,419.2 1842.3,420.4 C1843.9,421.5 1845.6,422.7 1847.3,423.8 C1849,424.9 1850.7,426 1852.4,427.1 C1854.1,428.1 1856.7,429.7 1857.6,430.2" stroke="#FFFF00"/>
<path d="M1560.5,328.5 C1560.9,327.6 1562.2,324.8 1563,323 C1563.8,321.2 1564.6,319.4 1565.5,317.5 C1566.3,315.7 1567.1,313.9 1568,312.1 C1568.8,310.2 1569.7,308.4 1570.5,306.6 C1571.4,304.8 1572.2,303 1573.1,301.1 C1573.9,299.3 1574.8,297.5 1575.7,295.7 C1576.6,293.9 1577.4,292.1 1578.3,290.3 C1579.2,288.5 1580.1,286.7 1581,284.9 C1582,283.1 1582.9,281.4 1583.8,279.6 C1584.8,277.8 1585.7,276.1 1586.7,274.3 C1587.7,272.6 1588.7,270.8 1589.7,269.1 C1590.8,267.4 1591.8,265.6 1592.9,264 C1594,262.3 1595.1,260.6 1596.2,259 C1597.4,257.3 1598.6,255.7 1599.8,254.1 C1601,252.5 1602.3,250.9 1603.6,249.4 C1604.9,247.9 1606.2,246.4 1607.6,244.9 C1608.9,243.4 1610.3,242 1611.7,240.5 C1613.1,239.1 1614.5,237.7 1616,236.3 C1617.4,234.9 1618.9,233.5 1620.3,232.1 C1621.7,230.7 1623.2,229.3 1624.6,227.9 C1626,226.5 1627.5,225.1 1628.9,223.6 C1630.3,222.2 1631.6,220.7 1633,219.2 C1634.3,217.7 1635.6,216.2 1636.9,214.7 C1638.2,213.1 1639.5,211.6 1640.7,210 C1641.9,208.4 1643.1,206.8 1644.3,205.2 C1645.5,203.6 1646.7,201.9 1647.9,200.3 C1649.1,198.7 1650.3,197.1 1651.4,195.5 C1652.6,193.8 1653.8,192.2 1655,190.6 C1656.2,189 1657.4,187.4 1658.7,185.8 C1659.9,184.3 1661.2,182.7 1662.5,181.2 C1663.8,179.7 1665.2,178.1 1666.6,176.7 C1668,175.3 1669.4,173.9 1671,172.6 C1672.5,171.4 1674.1,170.1 1675.9,169.2 C1677.6,168.2 1679.5,167.4 1681.5,166.9 C1683.4,166.4 1685.4,166.2 1687.4,166.3 C1689.4,166.3 1691.4,166.7 1693.4,167.2 C1695.3,167.7 1697.2,168.5 1699,169.3 C1700.8,170.2 1702.6,171.2 1704.3,172.2 C1706,173.3 1707.7,174.4 1709.3,175.6 C1710.9,176.7 1712.5,178 1714,179.3 C1715.6,180.6 1717,181.9 1718.5,183.3 C1720,184.7 1721.4,186.1 1722.7,187.6 C1724.1,189 1725.4,190.5 1726.7,192.1 C1728,193.6 1729.3,195.2 1730.5,196.7 C1731.8,198.3 1733,199.9 1734.1,201.6 C1735.3,203.2 1736.5,204.9 1737.6,206.5 C1738.7,208.2 1739.8,209.9 1740.8,211.6 C1741.9,213.3 1742.9,215 1743.9,216.7 C1745,218.5 1746,220.2 1746.9,222 C1747.9,223.7 1748.8,225.5 1749.8,227.3 C1750.7,229.1 1751.6,230.8 1752.5,232.6 C1753.4,234.4 1754.3,236.2 1755.2,238.1 C1756,239.9 1756.9,241.7 1757.7,243.5 C1758.6,245.3 1759.4,247.1 1760.3,249 C1761.1,250.8 1761.9,252.6 1762.8,254.4 C1763.6,256.3 1764.4,258.1 1765.3,259.9 C1766.1,261.8 1766.9,263.6 1767.8,265.4 C1768.6,267.2 1769.4,269 1770.3,270.9 C1771.2,272.7 1772,274.5 1772.9,276.3 C1773.8,278.1 1774.7,279.9 1775.6,281.7 C1776.5,283.5 1777.4,285.3 1778.4,287 C1779.3,288.8 1780.3,290.5 1781.3,292.3 C1782.3,294 1783.4,295.7 1784.5,297.4 C1785.5,299.1 1786.6,300.8 1787.8,302.5 C1788.9,304.1 1790,305.8 1791.2,307.4 C1792.3,309.1 1793.5,310.7 1794.6,312.3 C1795.8,314 1796.9,315.6 1798.1,317.3 C1799.2,318.9 1800.3,320.6 1801.5,322.3 C1802.6,323.9 1803.7,325.6 1804.9,327.2 C1806,328.9 1807.1,330.6 1808.2,332.2 C1809.3,333.9 1810.4,335.6 1811.5,337.3 C1812.6,338.9 1813.7,340.6 1814.9,342.3 C1816,344 1817.1,345.6 1818.2,347.3 C1819.3,349 1820.4,350.7 1821.5,352.3 C1822.6,354 1823.8,355.6 1824.9,357.3 C1826,359 1827.2,360.6 1828.3,362.3 C1829.5,363.9 1830.6,365.5 1831.8,367.2 C1833,368.8 1834.1,370.4 1835.3,372.1 C1836.5,373.7 1837.7,375.3 1838.9,376.9 C1840.1,378.5 1841.3,380.1 1842.5,381.7 C1843.7,383.3 1844.9,384.9 1846.2,386.5 C1847.4,388.1 1848.7,389.7 1849.9,391.2 C1851.2,392.8 1852.4,394.3 1853.7,395.9 C1855,397.4 1857,399.7 1857.6,400.5" stroke="#808000"/>
<path d="M1598.1,308.7 C1598.5,307.8 1599.7,305 1600.5,303.2 C1601.2,301.3 1602,299.5 1602.8,297.6 C1603.6,295.8 1604.4,294 1605.2,292.1 C1606,290.3 1606.8,288.5 1607.6,286.6 C1608.4,284.8 1609.2,282.9 1610,281.1 C1610.8,279.3 1611.6,277.4 1612.4,275.6 C1613.1,273.7 1613.9,271.9 1614.7,270 C1615.5,268.2 1616.2,266.3 1617,264.5 C1617.7,262.6 1618.5,260.7 1619.2,258.9 C1619.9,257 1620.7,255.1 1621.4,253.3 C1622.1,251.4 1622.8,249.5 1623.5,247.6 C1624.2,245.8 1624.9,243.9 1625.6,242 C1626.3,240.1 1626.9,238.2 1627.6,236.3 C1628.3,234.5 1628.9,232.6 1629.6,230.7 C1630.3,228.8 1630.9,226.9 1631.6,225 C1632.2,223.1 1632.9,221.2 1633.5,219.3 C1634.2,217.4 1634.8,215.5 1635.5,213.6 C1636.1,211.7 1636.8,209.8 1637.4,207.9 C1638.1,206 1638.7,204.1 1639.4,202.2 C1640,200.3 1640.7,198.4 1641.3,196.5 C1642,194.7 1642.6,192.8 1643.3,190.9 C1644,189 1644.6,187.1 1645.3,185.2 C1646,183.3 1646.7,181.4 1647.4,179.5 C1648,177.7 1648.7,175.8 1649.4,173.9 C1650.2,172 1650.9,170.2 1651.6,168.3 C1652.3,166.4 1653.1,164.6 1653.8,162.7 C1654.6,160.9 1655.4,159 1656.2,157.2 C1657,155.3 1657.8,153.5 1658.6,151.7 C1659.5,149.9 1660.3,148 1661.2,146.3 C1662.1,144.5 1663,142.7 1664,140.9 C1664.9,139.1 1665.9,137.4 1666.9,135.7 C1667.9,133.9 1668.9,132.2 1670,130.5 C1671.1,128.9 1672.3,127.2 1673.4,125.6 C1674.6,124 1675.9,122.4 1677.2,120.9 C1678.5,119.4 1679.9,117.9 1681.3,116.5 C1682.8,115.2 1684.3,113.8 1686,112.7 C1687.6,111.6 1689.3,110.5 1691.2,109.7 C1693,108.9 1695,108.3 1696.9,108 C1698.9,107.7 1700.9,107.7 1702.9,107.9 C1704.9,108.1 1706.8,108.7 1708.7,109.5 C1710.5,110.2 1712.3,111.2 1714,112.3 C1715.7,113.3 1717.3,114.6 1718.8,115.9 C1720.3,117.2 1721.8,118.6 1723.2,120 C1724.5,121.5 1725.9,123 1727.1,124.5 C1728.4,126.1 1729.7,127.6 1730.9,129.2 C1732.1,130.9 1733.2,132.5 1734.3,134.2 C1735.5,135.8 1736.5,137.5 1737.6,139.2 C1738.7,140.9 1739.7,142.6 1740.7,144.3 C1741.7,146.1 1742.7,147.8 1743.7,149.6 C1744.7,151.3 1745.6,153.1 1746.6,154.8 C1747.5,156.6 1748.4,158.4 1749.3,160.2 C1750.2,162 1751.1,163.8 1752,165.6 C1752.9,167.4 1753.7,169.2 1754.6,171 C1755.4,172.8 1756.3,174.6 1757.1,176.5 C1757.9,178.3 1758.8,180.1 1759.6,181.9 C1760.4,183.8 1761.2,185.6 1762,187.5 C1762.8,189.3 1763.6,191.1 1764.4,193 C1765.2,194.8 1765.9,196.7 1766.7,198.5 C1767.5,200.4 1768.3,202.2 1769,204.1 C1769.8,205.9 1770.6,207.8 1771.3,209.6 C1772.1,211.5 1772.8,213.3 1773.6,215.2 C1774.4,217 1775.1,218.9 1775.9,220.8 C1776.6,222.6 1777.4,224.5 1778.1,226.3 C1778.9,228.2 1779.6,230 1780.4,231.9 C1781.1,233.8 1781.9,235.6 1782.6,237.5 C1783.4,239.3 1784.2,241.2 1784.9,243 C1785.7,244.9 1786.4,246.8 1787.2,248.6 C1787.9,250.5 1788.7,252.3 1789.4,254.2 C1790.2,256 1791,257.9 1791.7,259.8 C1792.5,261.6 1793.2,263.5 1794,265.3 C1794.7,267.2 1795.5,269 1796.2,270.9 C1796.9,272.8 1797.7,274.6 1798.4,276.5 C1799.2,278.4 1799.9,280.2 1800.6,282.1 C1801.4,283.9 1802.1,285.8 1802.9,287.7 C1803.7,289.5 1804.5,291.4 1805.3,293.2 C1806.1,295 1807,296.8 1807.9,298.6 C1808.8,300.4 1809.7,302.2 1810.7,303.9 C1811.6,305.7 1812.6,307.4 1813.6,309.2 C1814.6,310.9 1815.6,312.6 1816.6,314.4 C1817.6,316.1 1818.6,317.8 1819.7,319.6 C1820.7,321.3 1821.7,323 1822.7,324.8 C1823.7,326.5 1824.7,328.2 1825.8,329.9 C1826.8,331.7 1827.8,333.4 1828.9,335.1 C1829.9,336.8 1831,338.5 1832.1,340.2 C1833.1,341.9 1834.2,343.5 1835.3,345.2 C1836.5,346.9 1837.6,348.5 1838.7,350.2 C1839.8,351.9 1841,353.5 1842.1,355.2 C1843.2,356.8 1844.3,358.5 1845.4,360.2 C1846.5,361.9 1847.6,363.5 1848.7,365.2 C1849.7,366.9 1850.8,368.6 1851.8,370.4 C1852.8,372.1 1853.8,373.8 1854.8,375.6 C1855.7,377.3 1857.1,380 1857.6,380.9" stroke="#000080"/>
<path d="M1635.1,274.8 C1635.3,273.8 1635.9,270.9 1636.3,268.9 C1636.7,267 1637.1,265 1637.5,263.1 C1637.9,261.1 1638.3,259.1 1638.7,257.2 C1639.1,255.2 1639.5,253.3 1640,251.3 C1640.4,249.3 1640.8,247.4 1641.2,245.4 C1641.6,243.5 1642.1,241.5 1642.5,239.6 C1642.9,237.6 1643.4,235.6 1643.8,233.7 C1644.2,231.7 1644.7,229.8 1645.1,227.8 C1645.6,225.9 1646,223.9 1646.5,222 C1646.9,220 1647.4,218.1 1647.9,216.2 C1648.4,214.2 1648.8,212.3 1649.3,210.3 C1649.8,208.4 1650.3,206.4 1650.8,204.5 C1651.3,202.6 1651.8,200.6 1652.4,198.7 C1652.9,196.8 1653.4,194.8 1654,192.9 C1654.5,191 1655.1,189.1 1655.7,187.2 C1656.3,185.2 1656.9,183.3 1657.5,181.4 C1658.1,179.5 1658.7,177.6 1659.4,175.7 C1660,173.8 1660.7,172 1661.4,170.1 C1662.1,168.2 1662.8,166.3 1663.5,164.5 C1664.3,162.6 1665,160.8 1665.8,158.9 C1666.6,157.1 1667.4,155.2 1668.3,153.4 C1669.1,151.6 1670,149.8 1670.8,148 C1671.7,146.2 1672.6,144.4 1673.6,142.7 C1674.5,140.9 1675.5,139.1 1676.4,137.4 C1677.4,135.6 1678.4,133.9 1679.5,132.2 C1680.5,130.5 1681.6,128.8 1682.7,127.2 C1683.9,125.5 1685.1,123.9 1686.3,122.3 C1687.6,120.8 1688.9,119.2 1690.3,117.8 C1691.7,116.5 1693.2,115.1 1694.9,114 C1696.5,112.9 1698.4,111.9 1700.3,111.4 C1702.2,110.9 1704.3,110.9 1706.2,111.2 C1708.2,111.5 1710.1,112.3 1711.9,113.2 C1713.7,114 1715.3,115.2 1716.9,116.4 C1718.5,117.6 1720,119 1721.4,120.4 C1722.9,121.7 1724.3,123.2 1725.6,124.7 C1726.9,126.2 1728.2,127.7 1729.5,129.3 C1730.8,130.8 1732,132.4 1733.2,134 C1734.4,135.6 1735.5,137.3 1736.6,138.9 C1737.8,140.6 1738.9,142.2 1739.9,143.9 C1741,145.6 1742.1,147.3 1743.1,149 C1744.1,150.7 1745.1,152.5 1746.1,154.2 C1747.1,155.9 1748.1,157.7 1749.1,159.4 C1750,161.2 1751,163 1751.9,164.7 C1752.8,166.5 1753.8,168.3 1754.7,170.1 C1755.6,171.9 1756.5,173.6 1757.4,175.4 C1758.2,177.2 1759.1,179 1760,180.8 C1760.8,182.7 1761.7,184.5 1762.5,186.3 C1763.4,188.1 1764.2,189.9 1765,191.7 C1765.9,193.6 1766.7,195.4 1767.5,197.2 C1768.3,199 1769.1,200.9 1769.9,202.7 C1770.7,204.5 1771.5,206.4 1772.3,208.2 C1773.1,210.1 1773.9,211.9 1774.6,213.8 C1775.4,215.6 1776.2,217.4 1777,219.3 C1777.7,221.1 1778.5,223 1779.3,224.8 C1780,226.7 1780.8,228.5 1781.6,230.4 C1782.3,232.2 1783.1,234.1 1783.9,235.9 C1784.7,237.8 1785.4,239.6 1786.2,241.5 C1787,243.3 1787.7,245.2 1788.5,247 C1789.3,248.8 1790.1,250.7 1790.9,252.5 C1791.7,254.4 1792.4,256.2 1793.2,258 C1794,259.9 1794.8,261.7 1795.6,263.5 C1796.5,265.4 1797.3,267.2 1798.1,269 C1798.9,270.8 1799.8,272.7 1800.6,274.5 C1801.4,276.3 1802.3,278.1 1803.2,279.9 C1804,281.7 1804.9,283.5 1805.8,285.3 C1806.7,287.1 1807.6,288.9 1808.5,290.7 C1809.4,292.5 1810.3,294.2 1811.3,296 C1812.2,297.8 1813.1,299.5 1814.1,301.3 C1815,303.1 1816,304.8 1817,306.6 C1817.9,308.3 1818.9,310.1 1819.9,311.8 C1820.9,313.6 1821.9,315.3 1822.9,317 C1823.9,318.8 1824.9,320.5 1825.9,322.2 C1826.9,323.9 1828,325.6 1829,327.4 C1830,329.1 1831.1,330.8 1832.1,332.5 C1833.2,334.2 1834.2,335.9 1835.3,337.6 C1836.3,339.3 1837.4,341 1838.5,342.7 C1839.5,344.4 1840.6,346.1 1841.7,347.8 C1842.7,349.5 1843.8,351.2 1844.9,352.8 C1845.9,354.5 1847,356.2 1848.1,357.9 C1849.1,359.6 1850.2,361.3 1851.3,363 C1852.3,364.7 1853.4,366.4 1854.4,368.1 C1855.5,369.8 1857.1,372.4 1857.6,373.2" stroke="#800080"/>
<path d="M1672.8,263.4 C1673.3,262.5 1674.7,259.9 1675.6,258.1 C1676.5,256.3 1677.4,254.5 1678.3,252.7 C1679.1,250.9 1679.9,249 1680.8,247.2 C1681.6,245.4 1682.4,243.5 1683.3,241.7 C1684.1,239.9 1685,238.1 1685.9,236.3 C1686.8,234.5 1687.7,232.7 1688.7,231 C1689.7,229.2 1690.7,227.5 1691.9,225.8 C1693.1,224.2 1694.3,222.6 1695.7,221.2 C1697.1,219.7 1698.5,218.3 1700.1,217.1 C1701.7,215.9 1703.4,214.8 1705.2,213.8 C1707,212.9 1708.9,212.2 1710.8,211.7 C1712.7,211.3 1714.8,211 1716.8,211.1 C1718.8,211.2 1720.8,211.6 1722.7,212.2 C1724.6,212.8 1726.5,213.6 1728.2,214.6 C1730,215.5 1731.7,216.6 1733.3,217.8 C1734.9,218.9 1736.5,220.2 1738,221.6 C1739.5,222.9 1740.9,224.3 1742.4,225.7 C1743.8,227.2 1745.1,228.6 1746.5,230.2 C1747.8,231.7 1749.1,233.2 1750.3,234.8 C1751.6,236.3 1752.8,237.9 1754,239.5 C1755.3,241.1 1756.4,242.7 1757.6,244.4 C1758.8,246 1759.9,247.6 1761.1,249.3 C1762.2,250.9 1763.3,252.6 1764.4,254.3 C1765.6,256 1766.6,257.7 1767.7,259.4 C1768.8,261.1 1769.8,262.8 1770.9,264.5 C1771.9,266.2 1772.9,267.9 1773.9,269.7 C1775,271.4 1775.9,273.2 1776.9,274.9 C1777.9,276.7 1778.8,278.4 1779.8,280.2 C1780.8,282 1781.7,283.7 1782.7,285.5 C1783.7,287.2 1784.7,289 1785.7,290.7 C1786.7,292.4 1787.8,294.1 1788.9,295.8 C1789.9,297.5 1791,299.2 1792.1,300.9 C1793.2,302.6 1794.4,304.3 1795.5,305.9 C1796.6,307.6 1797.7,309.2 1798.8,310.9 C1800,312.6 1801.1,314.3 1802.2,315.9 C1803.3,317.6 1804.4,319.3 1805.5,320.9 C1806.7,322.6 1807.8,324.3 1808.9,326 C1810,327.6 1811.1,329.3 1812.2,331 C1813.3,332.6 1814.4,334.3 1815.6,336 C1816.7,337.6 1817.8,339.3 1818.9,341 C1820,342.6 1821.2,344.3 1822.3,346 C1823.4,347.6 1824.6,349.3 1825.7,351 C1826.8,352.6 1828,354.3 1829.1,355.9 C1830.2,357.6 1831.4,359.2 1832.5,360.9 C1833.7,362.5 1834.9,364.2 1836,365.8 C1837.2,367.4 1838.3,369.1 1839.5,370.7 C1840.7,372.3 1841.9,374 1843,375.6 C1844.2,377.2 1845.4,378.8 1846.6,380.4 C1847.8,382.1 1849,383.7 1850.2,385.3 C1851.4,386.9 1852.7,388.5 1853.9,390.1 C1855.1,391.6 1857,394 1857.6,394.8" stroke="#800000"/>
<path d="M1690.6,339.3 C1691.3,338.6 1693.2,336.3 1694.6,334.8 C1696,333.3 1697.4,331.9 1698.9,330.6 C1700.3,329.2 1701.9,327.9 1703.5,326.7 C1705.1,325.5 1706.7,324.3 1708.4,323.3 C1710.2,322.3 1712,321.3 1713.8,320.5 C1715.6,319.7 1717.5,319 1719.5,318.5 C1721.4,318 1723.4,317.6 1725.4,317.3 C1727.4,317.1 1729.4,317.1 1731.4,317.1 C1733.4,317.2 1735.4,317.4 1737.4,317.8 C1739.3,318.1 1741.3,318.6 1743.2,319.2 C1745.1,319.8 1747,320.5 1748.9,321.3 C1750.7,322 1752.6,322.9 1754.3,323.8 C1756.1,324.8 1757.9,325.8 1759.6,326.8 C1761.3,327.8 1763,328.9 1764.6,330.1 C1766.3,331.2 1767.9,332.4 1769.5,333.6 C1771.1,334.8 1772.7,336 1774.3,337.3 C1775.8,338.6 1777.4,339.8 1778.9,341.2 C1780.4,342.5 1781.9,343.8 1783.4,345.1 C1784.9,346.5 1786.4,347.8 1787.9,349.2 C1789.3,350.6 1790.8,352 1792.2,353.4 C1793.7,354.8 1795.1,356.2 1796.5,357.6 C1798,359 1799.4,360.4 1800.8,361.9 C1802.2,363.3 1803.6,364.7 1805,366.2 C1806.4,367.6 1807.8,369 1809.2,370.5 C1810.6,371.9 1812,373.4 1813.4,374.8 C1814.8,376.2 1816.2,377.7 1817.6,379.1 C1819,380.5 1820.4,382 1821.8,383.4 C1823.3,384.8 1824.7,386.3 1826.1,387.7 C1827.5,389.1 1828.9,390.5 1830.4,391.9 C1831.8,393.4 1833.2,394.8 1834.7,396.1 C1836.1,397.5 1837.6,398.9 1839.1,400.3 C1840.6,401.6 1842,403 1843.5,404.3 C1845.1,405.6 1846.6,407 1848.1,408.2 C1849.7,409.5 1851.2,410.8 1852.8,412 C1854.4,413.3 1856.8,415.1 1857.6,415.7" stroke="#008000"/>
</g>
<line x1="1345.3" y1="82" x2="1409.7" y2="82" stroke="#FF0000" stroke-width="6"/>
<text x="1416.3" y="91.6" font-size="28">280</text>
<line x1="1345.3" y1="116.7" x2="1409.7" y2="116.7" stroke="#00FF00" stroke-width="6"/>
<text x="1416.7" y="126.3" font-size="28">300</text>
<line x1="1345.3" y1="152.3" x2="1409.7" y2="152.3" stroke="#0000FF" stroke-width="6"/>
<text x="1416.7" y="161.9" font-size="28">320</text>
<line x1="1345.3" y1="186.7" x2="1409.7" y2="186.7" stroke="#00FFFF" stroke-width="6"/>
<text x="1416.7" y="196.3" font-size="28">340</text>
<line x1="1345.3" y1="221.7" x2="1409.7" y2="221.7" stroke="#FF00FF" stroke-width="6"/>
<text x="1416.7" y="231.3" font-size="28">360</text>
<line x1="1345.3" y1="256" x2="1409.7" y2="256" stroke="#FFFF00" stroke-width="6"/>
<text x="1416.7" y="265.6" font-size="28">380</text>
<line x1="1470.3" y1="82" x2="1534" y2="82" stroke="#808000" stroke-width="6"/>
<text x="1542.6" y="91.6" font-size="28">400</text>
<line x1="1470.3" y1="116.7" x2="1534" y2="116.7" stroke="#000080" stroke-width="6"/>
<text x="1542.6" y="126.3" font-size="28">420</text>
<line x1="1470.3" y1="152.3" x2="1534" y2="152.3" stroke="#800080" stroke-width="6"/>
<text x="1542.6" y="161.9" font-size="28">440</text>
<line x1="1470.3" y1="186.7" x2="1534" y2="186.7" stroke="#800000" stroke-width="6"/>
<text x="1542.6" y="196.3" font-size="28">460</text>
<line x1="1470.3" y1="221.7" x2="1534" y2="221.7" stroke="#008000" stroke-width="6"/>
<text x="1542.6" y="231.3" font-size="28">480</text>
<line x1="1345.9" y1="485" x2="1345.9" y2="489" stroke="#000" stroke-width="2"/>
<line x1="1392.5" y1="485" x2="1392.5" y2="493" stroke="#000" stroke-width="2"/>
<line x1="1439" y1="485" x2="1439" y2="489" stroke="#000" stroke-width="2"/>
<line x1="1485.6" y1="485" x2="1485.6" y2="493" stroke="#000" stroke-width="2"/>
<line x1="1532.1" y1="485" x2="1532.1" y2="489" stroke="#000" stroke-width="2"/>
<line x1="1578.7" y1="485" x2="1578.7" y2="493" stroke="#000" stroke-width="2"/>
<line x1="1625.2" y1="485" x2="1625.2" y2="489" stroke="#000" stroke-width="2"/>
<line x1="1671.8" y1="485" x2="1671.8" y2="493" stroke="#000" stroke-width="2"/>
<line x1="1718.3" y1="485" x2="1718.3" y2="489" stroke="#000" stroke-width="2"/>
<line x1="1764.9" y1="485" x2="1764.9" y2="493" stroke="#000" stroke-width="2"/>
<line x1="1811.4" y1="485" x2="1811.4" y2="489" stroke="#000" stroke-width="2"/>
<line x1="1858" y1="485" x2="1858" y2="493" stroke="#000" stroke-width="2"/>
<text x="1363.6" y="526.1" font-size="35">350</text>
<text x="1456.8" y="526.1" font-size="35">400</text>
<text x="1549.9" y="526.1" font-size="35">450</text>
<text x="1642.8" y="526.1" font-size="35">500</text>
<text x="1735.9" y="526.1" font-size="35">550</text>
<text x="1828.9" y="526.1" font-size="35">600</text>
<text x="1562.5" y="56.4" font-size="35">455</text>
<text x="1673.7" y="56.4" font-size="35">515</text>
<text x="1345.7" y="37.7" font-size="58">c</text>
<text x="1406.2" y="578" font-size="48">Wavelength (nm)</text>
<text transform="translate(1297.9,452.6) rotate(-90)" x="0" y="0" font-size="47.4">PL Intensity (a.u.)</text>
</g>
<g id="panel-d">
<line x1="162" y1="639.4" x2="162" y2="1058.6" stroke="#111" stroke-width="1.4"/>
<line x1="315" y1="639.4" x2="315" y2="1058.6" stroke="#111" stroke-width="1.4"/>
<line x1="464" y1="639.4" x2="464" y2="1058.6" stroke="#111" stroke-width="1.4"/>
<rect x="81.3" y="639.4" width="522.1" height="419.2" fill="none" stroke="#000" stroke-width="2"/>
<g clip-path="url(#clip-d)" fill="none" stroke-width="5.5" stroke-linejoin="round" stroke-linecap="butt">
<path d="M117,1038.5 C117.6,1037.7 119.3,1035.2 120.6,1033.6 C121.8,1032 123.1,1030.4 124.4,1028.9 C125.7,1027.4 127.1,1025.9 128.6,1024.5 C130,1023.1 131.6,1021.8 133.2,1020.5 C134.7,1019.3 136.4,1018.1 138.1,1017.1 C139.8,1016 141.6,1015 143.5,1014.2 C145.3,1013.4 147.3,1012.7 149.2,1012.2 C151.2,1011.7 153.2,1011.3 155.2,1011 C157.2,1010.8 159.2,1010.7 161.2,1010.7 C163.2,1010.7 165.3,1010.8 167.3,1011 C169.3,1011.2 171.3,1011.5 173.3,1011.8 C175.3,1012.2 177.3,1012.6 179.2,1013.1 C181.2,1013.5 183.2,1014 185.1,1014.6 C187.1,1015.1 189,1015.7 190.9,1016.3 C192.9,1016.9 194.8,1017.6 196.7,1018.2 C198.6,1018.9 200.5,1019.5 202.4,1020.2 C204.4,1020.8 206.3,1021.5 208.2,1022.2 C210.1,1022.8 212,1023.5 213.9,1024.1 C215.9,1024.7 217.8,1025.3 219.7,1025.9 C221.7,1026.5 223.6,1027.1 225.6,1027.6 C227.5,1028.1 229.5,1028.6 231.5,1029 C233.4,1029.5 235.4,1029.9 237.4,1030.3 C239.4,1030.7 241.4,1031 243.4,1031.4 C245.4,1031.7 247.4,1032 249.4,1032.2 C251.4,1032.5 253.4,1032.7 255.4,1032.9 C257.4,1033.1 259.4,1033.3 261.5,1033.5 C263.5,1033.6 265.5,1033.8 267.5,1033.9 C269.5,1034 271.6,1034 273.6,1034.1 C275.6,1034.2 277.6,1034.2 279.7,1034.2 C281.7,1034.2 283.7,1034.2 285.7,1034.2 C287.8,1034.2 289.8,1034.2 291.8,1034.1 C293.8,1034.1 295.9,1034 297.9,1033.9 C299.9,1033.8 301.9,1033.8 303.9,1033.7 C306,1033.6 308,1033.5 310,1033.3 C312,1033.2 314,1033.1 316.1,1033 C318.1,1032.8 320.1,1032.7 322.1,1032.6 C324.1,1032.4 326.2,1032.3 328.2,1032.2 C330.2,1032 332.2,1031.9 334.2,1031.7 C336.3,1031.6 338.3,1031.5 340.3,1031.3 C342.3,1031.2 344.3,1031 346.4,1030.9 C348.4,1030.8 350.4,1030.7 352.4,1030.5 C354.4,1030.4 356.4,1030.3 358.5,1030.2 C360.5,1030.1 362.5,1029.9 364.5,1029.8 C366.6,1029.7 368.6,1029.6 370.6,1029.5 C372.6,1029.5 374.6,1029.4 376.7,1029.3 C378.7,1029.2 380.7,1029.2 382.7,1029.1 C384.8,1029.1 386.8,1029 388.8,1029 C390.8,1029 392.9,1029 394.9,1028.9 C396.9,1028.9 398.9,1028.9 400.9,1029 C403,1029 405,1029 407,1029.1 C409,1029.1 411.1,1029.2 413.1,1029.3 C415.1,1029.4 417.1,1029.5 419.1,1029.6 C421.2,1029.7 423.2,1029.8 425.2,1030 C427.2,1030.1 429.2,1030.3 431.3,1030.5 C433.3,1030.7 435.3,1030.9 437.3,1031.1 C439.3,1031.4 441.3,1031.6 443.3,1031.9 C445.3,1032.2 447.3,1032.5 449.3,1032.8 C451.3,1033.1 453.3,1033.4 455.3,1033.8 C457.3,1034.1 459.3,1034.5 461.3,1034.9 C463.3,1035.3 465.3,1035.6 467.2,1036 C469.2,1036.4 471.2,1036.8 473.2,1037.3 C475.2,1037.7 477.2,1038.1 479.1,1038.5 C481.1,1038.9 483.1,1039.3 485.1,1039.8 C487.1,1040.2 489,1040.6 491,1041 C493,1041.4 495,1041.8 497,1042.2 C498.9,1042.6 500.9,1043 502.9,1043.4 C504.9,1043.7 506.9,1044.1 508.9,1044.5 C510.9,1044.8 512.9,1045.1 514.9,1045.4 C516.9,1045.8 518.9,1046 520.9,1046.3 C522.9,1046.6 524.9,1046.8 526.9,1047 C528.9,1047.3 531,1047.4 533,1047.6 C535,1047.8 537,1047.9 539,1048 C541.1,1048.1 544.1,1048.1 545.1,1048.1" stroke="#FF0000"/>
<path d="M147.4,859 C148,858.2 149.8,855.7 151.3,854.3 C152.7,853 154.4,851.6 156.2,851 C158,850.3 160.2,850.1 162.2,850.3 C164.1,850.6 166,851.6 167.7,852.6 C169.5,853.6 171,854.9 172.5,856.3 C174,857.6 175.4,859.1 176.7,860.6 C178,862.1 179.3,863.7 180.6,865.3 C181.8,866.9 183,868.5 184.2,870.1 C185.3,871.8 186.5,873.4 187.6,875.1 C188.7,876.8 189.8,878.5 190.9,880.2 C192,881.9 193,883.6 194.1,885.3 C195.1,887 196.2,888.8 197.2,890.5 C198.2,892.2 199.3,893.9 200.3,895.7 C201.3,897.4 202.3,899.2 203.3,900.9 C204.3,902.6 205.3,904.4 206.4,906.1 C207.4,907.9 208.4,909.6 209.4,911.3 C210.4,913.1 211.4,914.8 212.5,916.6 C213.5,918.3 214.5,920 215.6,921.7 C216.6,923.5 217.7,925.2 218.8,926.9 C219.8,928.6 220.9,930.3 222,932 C223.1,933.6 224.3,935.3 225.4,937 C226.6,938.6 227.8,940.2 229,941.9 C230.2,943.5 231.4,945.1 232.7,946.6 C233.9,948.2 235.2,949.8 236.5,951.3 C237.9,952.8 239.2,954.3 240.6,955.8 C242,957.2 243.4,958.7 244.8,960.1 C246.3,961.5 247.7,962.9 249.2,964.2 C250.7,965.5 252.3,966.8 253.8,968.1 C255.4,969.4 257,970.6 258.6,971.8 C260.2,973 261.9,974.2 263.5,975.4 C265.2,976.5 266.9,977.6 268.6,978.7 C270.3,979.7 272,980.8 273.8,981.8 C275.5,982.8 277.3,983.7 279,984.7 C280.8,985.7 282.6,986.6 284.4,987.5 C286.2,988.4 288,989.3 289.8,990.2 C291.6,991.1 293.4,991.9 295.3,992.8 C297.1,993.6 298.9,994.4 300.8,995.2 C302.6,996 304.5,996.8 306.4,997.5 C308.2,998.3 310.1,999 312,999.7 C313.9,1000.5 315.8,1001.2 317.7,1001.8 C319.6,1002.5 321.5,1003.2 323.4,1003.8 C325.3,1004.4 327.2,1005 329.2,1005.6 C331.1,1006.2 333,1006.8 334.9,1007.3 C336.9,1007.9 338.8,1008.4 340.8,1008.9 C342.7,1009.5 344.7,1009.9 346.6,1010.4 C348.6,1010.9 350.6,1011.4 352.5,1011.8 C354.5,1012.2 356.5,1012.7 358.4,1013.1 C360.4,1013.5 362.4,1013.8 364.4,1014.2 C366.3,1014.6 368.3,1015 370.3,1015.3 C372.3,1015.6 374.3,1016 376.3,1016.3 C378.3,1016.6 380.2,1016.9 382.2,1017.2 C384.2,1017.5 386.2,1017.8 388.2,1018.1 C390.2,1018.4 392.2,1018.7 394.2,1018.9 C396.2,1019.2 398.2,1019.5 400.2,1019.7 C402.2,1020 404.2,1020.3 406.2,1020.5 C408.2,1020.8 410.2,1021 412.2,1021.3 C414.2,1021.5 416.2,1021.8 418.2,1022 C420.2,1022.3 422.2,1022.5 424.2,1022.8 C426.2,1023 428.2,1023.3 430.2,1023.6 C432.2,1023.8 434.2,1024.1 436.2,1024.4 C438.2,1024.6 440.2,1024.9 442.1,1025.2 C444.1,1025.5 446.1,1025.8 448.1,1026.1 C450.1,1026.4 452.1,1026.7 454.1,1027.1 C456.1,1027.4 458.1,1027.7 460,1028.1 C462,1028.5 464,1028.8 466,1029.2 C468,1029.6 469.9,1030 471.9,1030.4 C473.9,1030.8 475.8,1031.3 477.8,1031.7 C479.8,1032.2 481.7,1032.7 483.7,1033.1 C485.6,1033.6 487.6,1034.1 489.5,1034.6 C491.5,1035.1 493.4,1035.6 495.4,1036.2 C497.3,1036.7 499.3,1037.2 501.2,1037.7 C503.2,1038.3 505.1,1038.8 507.1,1039.3 C509,1039.8 510.9,1040.4 512.9,1040.9 C514.8,1041.4 516.8,1041.9 518.7,1042.4 C520.7,1042.9 522.7,1043.4 524.6,1043.8 C526.6,1044.3 528.5,1044.7 530.5,1045.1 C532.5,1045.6 534.5,1046 536.4,1046.3 C538.4,1046.7 540.4,1047.1 542.4,1047.4 C544.4,1047.7 546.4,1048 548.4,1048.2 C550.4,1048.5 552.4,1048.7 554.4,1048.9 C556.4,1049.1 558.4,1049.3 560.4,1049.5 C562.4,1049.6 564.4,1049.8 566.4,1049.9 C568.4,1050 570.4,1050.2 572.5,1050.3 C574.5,1050.4 576.5,1050.5 578.5,1050.6 C580.5,1050.7 582.5,1050.8 584.5,1051 C586.5,1051.1 588.5,1051.2 590.6,1051.3 C592.6,1051.5 594.6,1051.6 596.6,1051.8 C598.6,1051.9 601.6,1052.2 602.6,1052.3" stroke="#00FF00"/>
<path d="M184.5,956.7 C185.5,956.6 188.5,956.2 190.5,956.3 C192.5,956.3 194.6,956.7 196.5,957.1 C198.5,957.5 200.4,958.1 202.3,958.7 C204.3,959.3 206.1,960.1 208,960.9 C209.9,961.6 211.7,962.5 213.5,963.3 C215.4,964.2 217.2,965 219,965.9 C220.8,966.8 222.6,967.7 224.5,968.5 C226.3,969.4 228.1,970.2 230,971 C231.8,971.8 233.7,972.5 235.6,973.2 C237.5,973.8 239.5,974.4 241.4,975 C243.3,975.5 245.3,976 247.3,976.5 C249.2,976.9 251.2,977.3 253.2,977.6 C255.2,977.9 257.2,978.2 259.2,978.5 C261.2,978.7 263.2,978.9 265.2,979 C267.2,979.2 269.3,979.3 271.3,979.5 C273.3,979.6 275.3,979.7 277.3,979.9 C279.3,980 281.3,980.2 283.3,980.4 C285.3,980.6 287.3,980.9 289.3,981.1 C291.4,981.4 293.3,981.6 295.3,981.9 C297.3,982.2 299.3,982.6 301.3,982.9 C303.3,983.2 305.3,983.6 307.3,983.9 C309.3,984.3 311.3,984.7 313.2,985.1 C315.2,985.4 317.2,985.8 319.2,986.3 C321.1,986.7 323.1,987.1 325.1,987.5 C327.1,987.9 329,988.4 331,988.8 C333,989.2 334.9,989.7 336.9,990.1 C338.9,990.5 340.9,991 342.8,991.4 C344.8,991.8 346.8,992.3 348.7,992.7 C350.7,993.1 352.7,993.6 354.7,994 C356.6,994.4 358.6,994.8 360.6,995.2 C362.6,995.6 364.5,996 366.5,996.4 C368.5,996.8 370.5,997.2 372.5,997.5 C374.4,997.9 376.4,998.2 378.4,998.6 C380.4,998.9 382.4,999.2 384.4,999.5 C386.4,999.8 388.4,1000.1 390.4,1000.4 C392.4,1000.6 394.4,1000.9 396.4,1001.2 C398.4,1001.4 400.4,1001.6 402.4,1001.9 C404.4,1002.1 406.4,1002.4 408.4,1002.6 C410.4,1002.8 412.4,1003.1 414.4,1003.3 C416.4,1003.5 418.4,1003.8 420.4,1004 C422.4,1004.2 424.4,1004.5 426.4,1004.7 C428.4,1005 430.4,1005.3 432.4,1005.5 C434.4,1005.8 436.4,1006.1 438.4,1006.4 C440.4,1006.7 442.4,1007 444.4,1007.4 C446.4,1007.7 448.4,1008 450.4,1008.4 C452.4,1008.8 454.3,1009.2 456.3,1009.6 C458.3,1010 460.3,1010.4 462.2,1010.8 C464.2,1011.2 466.2,1011.7 468.1,1012.2 C470.1,1012.6 472.1,1013.1 474,1013.6 C476,1014.1 477.9,1014.6 479.9,1015.1 C481.8,1015.6 483.8,1016.1 485.7,1016.7 C487.7,1017.2 489.6,1017.8 491.6,1018.3 C493.5,1018.9 495.4,1019.4 497.4,1020 C499.3,1020.6 501.2,1021.2 503.2,1021.8 C505.1,1022.4 507,1023 508.9,1023.6 C510.9,1024.2 512.8,1024.8 514.7,1025.4 C516.6,1026 518.5,1026.6 520.5,1027.3 C522.4,1027.9 524.3,1028.5 526.2,1029.1 C528.2,1029.7 530.1,1030.3 532,1030.9 C533.9,1031.5 535.9,1032.1 537.8,1032.7 C539.7,1033.3 541.6,1033.9 543.6,1034.5 C545.5,1035.1 547.4,1035.7 549.4,1036.3 C551.3,1036.8 553.2,1037.4 555.2,1037.9 C557.1,1038.5 559.1,1039 561,1039.5 C563,1040.1 564.9,1040.6 566.9,1041 C568.8,1041.5 570.8,1042 572.8,1042.5 C574.7,1042.9 576.7,1043.3 578.7,1043.7 C580.7,1044.2 582.6,1044.5 584.6,1044.9 C586.6,1045.3 588.6,1045.6 590.6,1045.9 C592.6,1046.2 594.6,1046.5 596.6,1046.7 C598.6,1047 601.6,1047.3 602.6,1047.4" stroke="#0000FF"/>
<path d="M194,1029.9 C194.8,1029.2 197.1,1027.3 198.7,1026 C200.3,1024.8 201.9,1023.6 203.5,1022.4 C205.2,1021.2 206.8,1020 208.5,1018.9 C210.2,1017.8 211.9,1016.7 213.6,1015.6 C215.3,1014.6 217,1013.5 218.8,1012.5 C220.5,1011.5 222.3,1010.5 224.1,1009.5 C225.8,1008.5 227.6,1007.5 229.4,1006.5 C231.1,1005.6 232.9,1004.6 234.7,1003.7 C236.5,1002.7 238.3,1001.8 240,1000.8 C241.8,999.8 243.6,998.9 245.4,997.9 C247.1,996.9 248.9,995.9 250.6,994.9 C252.4,993.9 254.1,992.8 255.9,991.8 C257.6,990.8 259.3,989.7 261.1,988.7 C262.8,987.7 264.5,986.6 266.3,985.6 C268,984.6 269.8,983.6 271.6,982.6 C273.3,981.6 275.1,980.6 276.9,979.7 C278.7,978.8 280.5,977.8 282.3,977 C284.1,976.1 286,975.3 287.8,974.5 C289.7,973.7 291.6,972.9 293.5,972.3 C295.4,971.6 297.3,971 299.3,970.5 C301.2,969.9 303.2,969.4 305.1,969 C307.1,968.6 309.1,968.2 311.1,967.9 C313.1,967.6 315.1,967.3 317.1,967.1 C319.1,966.9 321.1,966.7 323.2,966.5 C325.2,966.4 327.2,966.3 329.2,966.1 C331.2,966 333.2,965.9 335.3,965.8 C337.3,965.8 339.3,965.7 341.3,965.6 C343.3,965.5 345.4,965.4 347.4,965.3 C349.4,965.2 351.4,965.1 353.4,964.9 C355.4,964.7 357.5,964.5 359.5,964.2 C361.5,963.9 363.5,963.5 365.4,963.1 C367.4,962.7 369.4,962.2 371.3,961.6 C373.2,961 375.1,960.3 377,959.5 C378.9,958.7 380.7,957.8 382.5,956.9 C384.3,956 386,955 387.8,954 C389.5,953 391.3,952 393,951 C394.8,950 396.6,949 398.4,948.1 C400.2,947.1 402,946.2 403.8,945.4 C405.7,944.6 407.5,943.8 409.4,943.1 C411.3,942.3 413.2,941.7 415.1,941 C417,940.4 419,939.9 421,939.4 C422.9,938.9 424.9,938.5 426.9,938.1 C428.9,937.7 430.9,937.5 432.9,937.2 C434.9,937 436.9,936.9 438.9,936.8 C441,936.8 443,936.8 445,936.9 C447,937 449,937.1 451,937.4 C453,937.6 455,937.9 457,938.3 C459,938.7 461,939.2 462.9,939.7 C464.9,940.2 466.8,940.8 468.7,941.5 C470.6,942.2 472.5,942.9 474.4,943.7 C476.2,944.5 478.1,945.3 479.9,946.2 C481.7,947.1 483.5,948.1 485.2,949.1 C487,950.1 488.7,951.1 490.4,952.2 C492.1,953.3 493.8,954.4 495.5,955.6 C497.1,956.7 498.7,958 500.3,959.2 C502,960.4 503.5,961.7 505.1,962.9 C506.7,964.2 508.2,965.5 509.8,966.8 C511.4,968.1 512.9,969.4 514.4,970.7 C516,972 517.5,973.3 519,974.6 C520.6,975.9 522.1,977.3 523.7,978.6 C525.2,979.9 526.7,981.2 528.3,982.5 C529.9,983.8 531.4,985 533,986.3 C534.6,987.6 536.2,988.8 537.8,990 C539.4,991.2 541,992.4 542.7,993.6 C544.4,994.7 546.1,995.8 547.8,996.9 C549.5,998 551.2,999 553,1000 C554.8,1001 556.5,1001.9 558.3,1002.8 C560.1,1003.8 562,1004.7 563.8,1005.5 C565.6,1006.4 567.5,1007.2 569.3,1008 C571.2,1008.9 573,1009.7 574.9,1010.4 C576.7,1011.2 578.6,1012 580.5,1012.8 C582.3,1013.6 584.2,1014.3 586.1,1015.1 C587.9,1015.9 589.8,1016.7 591.6,1017.5 C593.5,1018.4 595.3,1019.2 597.2,1020 C599,1020.9 601.7,1022.3 602.6,1022.7" stroke="#00FFFF"/>
<path d="M231.9,1042.3 C232.7,1041.7 235.3,1040.1 236.9,1038.9 C238.5,1037.8 240.1,1036.5 241.7,1035.3 C243.3,1034 244.8,1032.8 246.3,1031.5 C247.9,1030.2 249.4,1028.8 250.9,1027.5 C252.4,1026.2 253.8,1024.8 255.3,1023.5 C256.8,1022.1 258.3,1020.7 259.7,1019.4 C261.2,1018 262.7,1016.6 264.1,1015.3 C265.6,1013.9 267.1,1012.5 268.6,1011.2 C270.1,1009.8 271.5,1008.5 273,1007.2 C274.5,1005.8 276.1,1004.5 277.6,1003.2 C279.1,1002 280.7,1000.7 282.3,999.4 C283.9,998.2 285.5,997 287.1,995.9 C288.7,994.7 290.4,993.6 292.1,992.5 C293.8,991.4 295.5,990.4 297.2,989.3 C298.9,988.3 300.7,987.3 302.4,986.3 C304.2,985.4 305.9,984.4 307.7,983.5 C309.5,982.6 311.3,981.7 313.1,980.8 C314.9,979.8 316.7,978.9 318.4,978 C320.2,977.1 322,976.2 323.8,975.3 C325.6,974.4 327.4,973.5 329.1,972.5 C330.9,971.6 332.7,970.6 334.4,969.6 C336.2,968.6 337.9,967.6 339.6,966.6 C341.3,965.5 343,964.4 344.6,963.3 C346.3,962.1 347.9,960.9 349.4,959.7 C351,958.4 352.5,957 353.9,955.6 C355.3,954.2 356.7,952.7 357.9,951.2 C359.2,949.6 360.4,948 361.6,946.4 C362.8,944.8 363.8,943.1 364.9,941.4 C365.9,939.7 366.9,937.9 367.9,936.1 C368.8,934.4 369.8,932.6 370.7,930.8 C371.6,929 372.4,927.2 373.3,925.4 C374.1,923.6 375,921.8 375.8,919.9 C376.6,918.1 377.4,916.3 378.3,914.4 C379.1,912.6 379.9,910.8 380.7,908.9 C381.5,907.1 382.3,905.3 383.2,903.5 C384,901.6 384.8,899.8 385.7,898 C386.5,896.2 387.4,894.3 388.2,892.5 C389.1,890.7 390,888.9 390.9,887.1 C391.8,885.3 392.7,883.5 393.6,881.8 C394.5,880 395.5,878.2 396.4,876.4 C397.4,874.7 398.3,872.9 399.3,871.2 C400.3,869.4 401.2,867.7 402.2,865.9 C403.2,864.2 404.2,862.4 405.2,860.7 C406.2,859 407.3,857.2 408.3,855.5 C409.3,853.8 410.4,852.1 411.4,850.4 C412.5,848.7 413.6,847 414.7,845.3 C415.8,843.6 416.9,842 418,840.3 C419.1,838.7 420.3,837 421.5,835.4 C422.7,833.8 423.9,832.2 425.2,830.6 C426.4,829.1 427.7,827.6 429.1,826.1 C430.5,824.7 432,823.3 433.5,822 C435,820.7 436.6,819.5 438.3,818.4 C440,817.3 441.7,816.3 443.6,815.5 C445.4,814.7 447.3,814 449.3,813.6 C451.2,813.1 453.2,812.9 455.2,812.8 C457.2,812.8 459.3,813 461.2,813.3 C463.2,813.7 465.1,814.2 467,814.9 C468.9,815.6 470.7,816.5 472.5,817.4 C474.3,818.3 476,819.4 477.6,820.5 C479.3,821.7 480.9,822.9 482.4,824.1 C484,825.4 485.5,826.7 487,828.1 C488.4,829.5 489.8,830.9 491.2,832.3 C492.6,833.8 494,835.3 495.3,836.8 C496.6,838.3 497.9,839.8 499.2,841.3 C500.5,842.9 501.7,844.5 503,846 C504.2,847.6 505.4,849.2 506.6,850.8 C507.8,852.4 509,854 510.2,855.7 C511.4,857.3 512.5,858.9 513.7,860.6 C514.8,862.2 516,863.9 517.1,865.5 C518.2,867.2 519.3,868.8 520.5,870.5 C521.6,872.2 522.7,873.8 523.8,875.5 C524.9,877.2 526,878.8 527.1,880.5 C528.2,882.2 529.3,883.9 530.5,885.5 C531.6,887.2 532.7,888.9 533.8,890.6 C534.9,892.2 536,893.9 537.1,895.6 C538.2,897.2 539.3,898.9 540.4,900.6 C541.5,902.3 542.6,903.9 543.8,905.6 C544.9,907.3 546,908.9 547.1,910.6 C548.3,912.2 549.4,913.9 550.5,915.5 C551.7,917.2 552.8,918.8 554,920.5 C555.1,922.1 556.3,923.8 557.4,925.4 C558.6,927 559.8,928.6 561,930.3 C562.2,931.9 563.4,933.5 564.6,935.1 C565.8,936.7 567,938.3 568.2,939.9 C569.5,941.4 570.7,943 572,944.6 C573.2,946.1 574.5,947.7 575.8,949.2 C577.1,950.7 578.4,952.3 579.7,953.8 C581,955.3 582.3,956.8 583.6,958.4 C584.9,959.9 586.2,961.4 587.5,962.9 C588.8,964.4 590.1,966 591.4,967.5 C592.7,969.1 594,970.6 595.2,972.2 C596.5,973.7 597.8,975.3 599,976.9 C600.2,978.5 602,980.9 602.6,981.7" stroke="#FF00FF"/>
<path d="M269.9,1047 C270.8,1046.6 273.6,1045.5 275.4,1044.6 C277.2,1043.7 279,1042.8 280.8,1041.8 C282.6,1040.9 284.3,1039.8 286,1038.8 C287.8,1037.9 289.5,1036.8 291.3,1035.8 C293,1034.8 294.8,1033.8 296.5,1032.9 C298.3,1032 300.1,1031.1 301.9,1030.2 C303.7,1029.3 305.6,1028.5 307.4,1027.6 C309.2,1026.7 310.9,1025.7 312.6,1024.5 C314.2,1023.4 315.8,1022.1 317.2,1020.7 C318.7,1019.3 320,1017.8 321.4,1016.3 C322.7,1014.8 324,1013.3 325.3,1011.8 C326.6,1010.2 327.9,1008.7 329.2,1007.2 C330.6,1005.7 331.9,1004.2 333.3,1002.7 C334.7,1001.3 336.1,999.8 337.5,998.4 C338.9,996.9 340.3,995.5 341.7,994 C343,992.5 344.4,991 345.6,989.5 C346.9,987.9 348.2,986.3 349.3,984.7 C350.5,983.1 351.6,981.4 352.7,979.7 C353.8,978 354.8,976.3 355.8,974.5 C356.7,972.7 357.7,970.9 358.5,969.1 C359.4,967.3 360.3,965.5 361.1,963.7 C361.9,961.8 362.6,959.9 363.4,958.1 C364.1,956.2 364.8,954.3 365.5,952.4 C366.1,950.5 366.8,948.6 367.4,946.7 C368,944.8 368.6,942.9 369.2,941 C369.8,939 370.4,937.1 370.9,935.2 C371.5,933.2 372,931.3 372.5,929.3 C373,927.4 373.6,925.5 374.1,923.5 C374.6,921.6 375,919.6 375.5,917.7 C376,915.7 376.5,913.7 376.9,911.8 C377.4,909.8 377.9,907.9 378.3,905.9 C378.8,904 379.2,902 379.7,900 C380.1,898.1 380.5,896.1 381,894.1 C381.4,892.2 381.8,890.2 382.3,888.3 C382.7,886.3 383.1,884.3 383.6,882.4 C384,880.4 384.4,878.4 384.9,876.5 C385.3,874.5 385.8,872.5 386.2,870.6 C386.7,868.6 387.1,866.7 387.6,864.7 C388,862.7 388.5,860.8 389,858.8 C389.4,856.9 389.9,854.9 390.4,853 C390.9,851 391.4,849.1 391.8,847.1 C392.3,845.2 392.8,843.2 393.3,841.3 C393.8,839.3 394.3,837.4 394.8,835.4 C395.3,833.5 395.8,831.5 396.3,829.6 C396.9,827.6 397.4,825.7 397.9,823.8 C398.4,821.8 399,819.9 399.5,817.9 C400,816 400.6,814.1 401.1,812.1 C401.7,810.2 402.2,808.2 402.7,806.3 C403.3,804.4 403.9,802.4 404.4,800.5 C405,798.6 405.6,796.7 406.1,794.7 C406.7,792.8 407.3,790.9 407.9,789 C408.5,787 409.2,785.1 409.8,783.2 C410.4,781.3 411.1,779.4 411.8,777.5 C412.5,775.6 413.2,773.7 413.9,771.9 C414.6,770 415.4,768.1 416.2,766.3 C417,764.5 417.9,762.6 418.7,760.8 C419.6,759 420.5,757.2 421.5,755.5 C422.4,753.7 423.4,751.9 424.4,750.2 C425.4,748.4 426.5,746.7 427.5,745 C428.6,743.3 429.6,741.6 430.8,739.9 C431.9,738.2 433,736.6 434.2,734.9 C435.4,733.3 436.6,731.7 437.9,730.2 C439.2,728.6 440.5,727.1 442,725.7 C443.4,724.4 444.9,723 446.6,721.9 C448.2,720.7 450,719.7 451.8,718.9 C453.6,718.1 455.6,717.5 457.6,717.2 C459.5,716.9 461.6,716.9 463.6,717.1 C465.6,717.4 467.5,718 469.4,718.7 C471.3,719.4 473.1,720.4 474.8,721.4 C476.5,722.4 478.1,723.6 479.7,724.9 C481.3,726.1 482.8,727.5 484.2,728.9 C485.7,730.3 487.1,731.8 488.4,733.3 C489.7,734.8 491,736.3 492.3,737.9 C493.5,739.5 494.7,741.1 495.8,742.7 C497,744.4 498.1,746.1 499.1,747.8 C500.2,749.5 501.2,751.3 502.2,753 C503.2,754.8 504.1,756.5 505,758.3 C505.9,760.1 506.8,761.9 507.6,763.8 C508.5,765.6 509.3,767.4 510.2,769.2 C511,771.1 511.8,772.9 512.6,774.8 C513.4,776.6 514.2,778.4 515.1,780.3 C515.9,782.1 516.7,783.9 517.6,785.8 C518.4,787.6 519.3,789.4 520.2,791.2 C521.1,793 522,794.8 522.9,796.6 C523.8,798.4 524.8,800.2 525.7,801.9 C526.6,803.7 527.6,805.5 528.5,807.3 C529.4,809.1 530.4,810.8 531.3,812.6 C532.2,814.4 533.2,816.2 534.1,818 C535,819.8 536,821.5 536.9,823.3 C537.8,825.1 538.7,826.9 539.7,828.7 C540.6,830.5 541.5,832.3 542.4,834 C543.4,835.8 544.3,837.6 545.2,839.4 C546.1,841.2 547,843 547.9,844.8 C548.8,846.6 549.7,848.4 550.6,850.2 C551.5,852 552.4,853.8 553.3,855.6 C554.2,857.4 555.1,859.2 556.1,861 C557,862.8 557.9,864.6 558.8,866.3 C559.7,868.1 560.6,869.9 561.6,871.7 C562.5,873.5 563.5,875.2 564.4,877 C565.4,878.8 566.4,880.5 567.4,882.3 C568.4,884 569.4,885.8 570.4,887.5 C571.5,889.2 572.5,890.9 573.6,892.6 C574.6,894.3 575.7,896 576.8,897.7 C577.9,899.4 579,901.1 580.1,902.8 C581.2,904.5 582.3,906.1 583.4,907.8 C584.5,909.5 585.7,911.2 586.8,912.8 C587.9,914.5 589,916.2 590.1,917.9 C591.2,919.6 592.3,921.3 593.3,923 C594.4,924.7 595.5,926.4 596.5,928.1 C597.6,929.8 598.6,931.5 599.6,933.3 C600.6,935 602.1,937.6 602.6,938.5" stroke="#FFFF00"/>
<path d="M307,1048 C307.8,1047.4 310.3,1045.7 311.9,1044.5 C313.6,1043.4 315.2,1042.2 316.9,1041.1 C318.5,1039.9 320.2,1038.8 321.8,1037.6 C323.4,1036.4 325.1,1035.2 326.7,1034 C328.2,1032.7 329.8,1031.5 331.4,1030.2 C332.9,1028.9 334.4,1027.5 335.9,1026.1 C337.3,1024.8 338.7,1023.3 340.1,1021.9 C341.5,1020.4 342.8,1018.9 344.1,1017.3 C345.3,1015.7 346.6,1014.1 347.7,1012.5 C348.9,1010.9 350,1009.2 351.1,1007.5 C352.2,1005.8 353.2,1004.1 354.2,1002.3 C355.2,1000.5 356.1,998.7 357,996.9 C357.9,995.1 358.7,993.3 359.5,991.5 C360.3,989.6 361.1,987.7 361.8,985.9 C362.5,984 363.2,982.1 363.9,980.2 C364.5,978.3 365.2,976.4 365.8,974.5 C366.4,972.5 367,970.6 367.5,968.7 C368.1,966.7 368.6,964.8 369.1,962.9 C369.7,960.9 370.2,959 370.7,957 C371.2,955.1 371.6,953.1 372.1,951.2 C372.6,949.2 373,947.2 373.5,945.3 C374,943.3 374.4,941.3 374.8,939.4 C375.3,937.4 375.7,935.5 376.1,933.5 C376.6,931.5 377,929.5 377.4,927.6 C377.8,925.6 378.2,923.6 378.7,921.7 C379.1,919.7 379.5,917.7 379.9,915.8 C380.3,913.8 380.7,911.8 381.1,909.8 C381.5,907.9 381.9,905.9 382.3,903.9 C382.8,902 383.2,900 383.6,898 C384,896.1 384.4,894.1 384.8,892.1 C385.3,890.1 385.7,888.2 386.1,886.2 C386.5,884.2 387,882.3 387.4,880.3 C387.8,878.3 388.3,876.4 388.7,874.4 C389.1,872.4 389.6,870.5 390,868.5 C390.5,866.6 390.9,864.6 391.4,862.6 C391.8,860.7 392.3,858.7 392.7,856.7 C393.2,854.8 393.7,852.8 394.1,850.9 C394.6,848.9 395.1,846.9 395.5,845 C396,843 396.5,841.1 397,839.1 C397.5,837.2 397.9,835.2 398.4,833.3 C398.9,831.3 399.4,829.4 399.9,827.4 C400.4,825.5 400.9,823.5 401.4,821.6 C402,819.6 402.5,817.7 403,815.7 C403.5,813.8 404.1,811.8 404.6,809.9 C405.1,808 405.7,806 406.2,804.1 C406.8,802.2 407.4,800.2 407.9,798.3 C408.5,796.4 409.1,794.4 409.7,792.5 C410.2,790.6 410.8,788.7 411.4,786.7 C412,784.8 412.7,782.9 413.3,781 C413.9,779.1 414.6,777.2 415.2,775.3 C415.9,773.4 416.5,771.5 417.2,769.6 C417.9,767.7 418.6,765.8 419.3,763.9 C420,762 420.8,760.1 421.5,758.3 C422.3,756.4 423,754.5 423.8,752.7 C424.6,750.8 425.4,749 426.3,747.2 C427.1,745.3 427.9,743.5 428.8,741.7 C429.6,739.9 430.5,738 431.4,736.2 C432.2,734.4 433.1,732.6 434,730.8 C434.9,729 435.8,727.2 436.8,725.4 C437.7,723.6 438.6,721.8 439.6,720.1 C440.6,718.3 441.6,716.6 442.6,714.9 C443.7,713.1 444.7,711.4 445.9,709.8 C447.1,708.2 448.3,706.5 449.6,705 C451,703.5 452.4,702 454,700.9 C455.6,699.7 457.5,698.7 459.4,698.2 C461.3,697.7 463.4,697.6 465.4,697.8 C467.3,698 469.3,698.7 471.1,699.5 C473,700.2 474.8,701.2 476.5,702.2 C478.3,703.2 480,704.3 481.6,705.5 C483.2,706.7 484.8,708 486.2,709.3 C487.7,710.7 489.1,712.1 490.5,713.6 C491.9,715.1 493.1,716.7 494.4,718.2 C495.6,719.8 496.8,721.5 497.9,723.1 C499.1,724.8 500.1,726.5 501.2,728.2 C502.2,729.9 503.2,731.7 504.2,733.5 C505.1,735.2 506.1,737 507,738.8 C507.9,740.6 508.7,742.4 509.6,744.3 C510.5,746.1 511.3,747.9 512.2,749.7 C513,751.6 513.8,753.4 514.6,755.2 C515.4,757.1 516.3,758.9 517.1,760.8 C517.9,762.6 518.7,764.5 519.5,766.3 C520.3,768.2 521.1,770 521.9,771.8 C522.7,773.7 523.5,775.5 524.3,777.4 C525.1,779.2 525.9,781.1 526.8,782.9 C527.6,784.7 528.5,786.6 529.3,788.4 C530.2,790.2 531,792 531.9,793.8 C532.8,795.7 533.6,797.5 534.5,799.3 C535.4,801.1 536.3,802.9 537.2,804.7 C538.1,806.5 539,808.3 539.9,810.1 C540.8,811.9 541.6,813.7 542.5,815.5 C543.4,817.3 544.3,819.1 545.2,820.9 C546.1,822.7 547,824.5 547.9,826.3 C548.8,828.1 549.7,829.9 550.6,831.7 C551.5,833.5 552.4,835.3 553.3,837.1 C554.2,838.9 555.2,840.7 556.1,842.5 C557,844.3 557.9,846.1 558.8,847.9 C559.7,849.7 560.6,851.5 561.6,853.3 C562.5,855.1 563.4,856.9 564.3,858.6 C565.3,860.4 566.2,862.2 567.1,864 C568,865.8 569,867.6 569.9,869.4 C570.9,871.1 571.8,872.9 572.7,874.7 C573.7,876.5 574.6,878.2 575.6,880 C576.5,881.8 577.5,883.6 578.5,885.3 C579.4,887.1 580.4,888.9 581.4,890.6 C582.3,892.4 583.3,894.2 584.3,895.9 C585.3,897.7 586.3,899.4 587.3,901.2 C588.2,902.9 589.2,904.7 590.2,906.4 C591.2,908.2 592.3,909.9 593.3,911.7 C594.3,913.4 595.3,915.1 596.3,916.9 C597.4,918.6 598.4,920.3 599.4,922 C600.5,923.8 602.1,926.3 602.6,927.2" stroke="#808000"/>
<path d="M343.1,1035.9 C343.8,1035.1 345.8,1032.9 347.1,1031.4 C348.3,1029.8 349.5,1028.2 350.6,1026.5 C351.7,1024.9 352.8,1023.2 353.8,1021.5 C354.9,1019.7 355.8,1018 356.8,1016.2 C357.7,1014.5 358.6,1012.7 359.5,1010.9 C360.4,1009.1 361.2,1007.3 362.1,1005.4 C362.9,1003.6 363.7,1001.8 364.4,999.9 C365.2,998.1 366,996.2 366.7,994.4 C367.4,992.5 368.1,990.6 368.8,988.7 C369.5,986.9 370.2,985 370.8,983.1 C371.5,981.2 372.2,979.3 372.8,977.4 C373.4,975.5 374,973.6 374.6,971.7 C375.2,969.8 375.8,967.9 376.4,965.9 C377,964 377.5,962.1 378.1,960.2 C378.6,958.3 379.2,956.3 379.7,954.4 C380.2,952.5 380.8,950.5 381.3,948.6 C381.8,946.7 382.2,944.7 382.7,942.8 C383.2,940.8 383.7,938.9 384.1,936.9 C384.6,935 385.1,933 385.5,931.1 C386,929.1 386.4,927.2 386.9,925.2 C387.3,923.3 387.8,921.3 388.2,919.4 C388.7,917.4 389.1,915.5 389.6,913.5 C390,911.6 390.5,909.6 391,907.7 C391.4,905.7 391.9,903.8 392.4,901.8 C392.9,899.9 393.3,898 393.8,896 C394.3,894.1 394.8,892.1 395.4,890.2 C395.9,888.3 396.4,886.3 396.9,884.4 C397.5,882.5 398,880.6 398.6,878.6 C399.1,876.7 399.7,874.8 400.3,872.9 C400.9,871 401.5,869 402,867.1 C402.6,865.2 403.2,863.3 403.9,861.4 C404.5,859.5 405.1,857.6 405.7,855.7 C406.4,853.8 407,851.9 407.7,850 C408.3,848.1 409,846.2 409.6,844.3 C410.3,842.4 411,840.6 411.7,838.7 C412.4,836.8 413.1,834.9 413.8,833.1 C414.5,831.2 415.3,829.3 416,827.5 C416.8,825.6 417.5,823.8 418.3,821.9 C419.1,820.1 419.9,818.3 420.7,816.4 C421.5,814.6 422.4,812.8 423.2,811 C424.1,809.2 425,807.4 425.9,805.6 C426.8,803.8 427.7,802 428.7,800.3 C429.7,798.5 430.7,796.8 431.7,795.1 C432.7,793.3 433.8,791.6 434.9,790 C436,788.3 437.1,786.7 438.3,785 C439.5,783.4 440.7,781.9 442.1,780.4 C443.4,778.8 444.7,777.4 446.2,776 C447.6,774.6 449.1,773.3 450.7,772.1 C452.4,770.9 454.1,769.8 455.8,768.9 C457.6,768.1 459.5,767.3 461.5,766.9 C463.4,766.4 465.5,766.2 467.4,766.3 C469.4,766.4 471.4,766.8 473.3,767.3 C475.2,767.9 477.1,768.8 478.8,769.7 C480.6,770.7 482.2,771.8 483.8,773 C485.4,774.3 486.9,775.6 488.4,777 C489.8,778.3 491.2,779.8 492.6,781.3 C493.9,782.7 495.2,784.2 496.5,785.8 C497.8,787.3 499,788.9 500.2,790.5 C501.4,792.1 502.6,793.7 503.8,795.4 C504.9,797 506.1,798.6 507.2,800.3 C508.3,802 509.4,803.6 510.5,805.3 C511.6,807 512.6,808.7 513.7,810.4 C514.8,812.1 515.8,813.8 516.8,815.5 C517.9,817.2 518.9,818.9 519.9,820.7 C521,822.4 522,824.1 523,825.8 C524,827.6 525,829.3 526,831 C527,832.8 528,834.5 529,836.2 C530,838 531,839.7 532,841.5 C533,843.2 534,844.9 535,846.7 C536,848.4 537,850.1 538,851.9 C539,853.6 540,855.3 541,857.1 C542,858.8 543,860.5 544,862.3 C545,864 546.1,865.7 547.1,867.4 C548.1,869.1 549.1,870.9 550.1,872.6 C551.2,874.3 552.2,876 553.2,877.7 C554.2,879.5 555.3,881.2 556.3,882.9 C557.3,884.6 558.3,886.4 559.3,888.1 C560.3,889.8 561.3,891.6 562.3,893.3 C563.3,895 564.3,896.8 565.3,898.5 C566.3,900.2 567.3,902 568.4,903.7 C569.4,905.4 570.5,907.1 571.5,908.8 C572.6,910.5 573.7,912.2 574.8,913.8 C575.9,915.5 577.1,917.1 578.2,918.7 C579.4,920.4 580.6,922 581.8,923.6 C583,925.2 584.2,926.8 585.4,928.4 C586.6,930 587.8,931.6 589,933.2 C590.1,934.8 591.3,936.5 592.5,938.1 C593.7,939.7 594.9,941.3 596,943 C597.1,944.6 598.3,946.3 599.4,947.9 C600.5,949.6 602.1,952.2 602.6,953" stroke="#000080"/>
<path d="M379.3,1012.9 C379.8,1012.1 381.4,1009.5 382.4,1007.8 C383.5,1006 384.5,1004.3 385.6,1002.6 C386.6,1000.9 387.7,999.1 388.7,997.4 C389.8,995.7 390.9,994 391.9,992.3 C393,990.5 394.1,988.8 395.1,987.1 C396.2,985.4 397.3,983.7 398.4,982 C399.5,980.3 400.6,978.6 401.7,976.9 C402.8,975.3 403.9,973.6 405,971.9 C406.2,970.2 407.3,968.6 408.5,966.9 C409.6,965.3 410.8,963.6 412,962 C413.1,960.3 414.3,958.7 415.6,957.1 C416.8,955.5 418,953.9 419.3,952.3 C420.5,950.7 421.8,949.2 423.1,947.6 C424.4,946.1 425.8,944.6 427.1,943.1 C428.5,941.6 429.9,940.2 431.3,938.8 C432.8,937.4 434.3,936 435.8,934.7 C437.3,933.3 438.9,932.1 440.5,930.8 C442.1,929.6 443.8,928.5 445.5,927.4 C447.2,926.3 448.9,925.3 450.7,924.4 C452.5,923.5 454.4,922.7 456.3,922 C458.2,921.3 460.1,920.7 462.1,920.2 C464,919.8 466,919.4 468,919.2 C470,919 472.1,918.9 474.1,918.9 C476.1,919 478.1,919.2 480.1,919.4 C482.1,919.7 484.1,920.2 486,920.7 C488,921.2 489.9,921.9 491.8,922.6 C493.7,923.3 495.5,924.1 497.3,925 C499.1,925.8 500.9,926.8 502.7,927.8 C504.5,928.8 506.2,929.8 507.9,930.9 C509.6,931.9 511.3,933.1 513,934.2 C514.6,935.3 516.3,936.5 517.9,937.7 C519.5,938.9 521.1,940.1 522.7,941.4 C524.3,942.6 525.9,943.9 527.5,945.1 C529,946.4 530.6,947.7 532.2,949 C533.7,950.2 535.3,951.5 536.8,952.8 C538.3,954.1 539.9,955.4 541.4,956.7 C543,958 544.5,959.3 546.1,960.6 C547.6,961.9 549.1,963.2 550.7,964.5 C552.2,965.8 553.8,967.1 555.4,968.4 C556.9,969.7 558.5,971 560,972.2 C561.6,973.5 563.2,974.8 564.8,976 C566.3,977.3 567.9,978.5 569.5,979.8 C571.1,981.1 572.7,982.3 574.2,983.6 C575.8,984.8 577.4,986.1 579,987.3 C580.6,988.6 582.2,989.8 583.7,991.1 C585.3,992.3 586.9,993.6 588.5,994.8 C590.1,996.1 591.6,997.3 593.2,998.6 C594.8,999.9 596.4,1001.1 597.9,1002.4 C599.5,1003.7 601.8,1005.6 602.6,1006.3" stroke="#800080"/>
<path d="M417.9,1038.4 C418.8,1038 421.5,1036.6 423.4,1035.7 C425.2,1034.8 427.1,1033.9 428.9,1033.1 C430.8,1032.3 432.7,1031.5 434.6,1030.8 C436.5,1030 438.4,1029.3 440.4,1028.6 C442.3,1028 444.2,1027.3 446.2,1026.7 C448.1,1026.1 450.1,1025.6 452.1,1025 C454,1024.5 456,1024 458,1023.6 C460,1023.1 462,1022.7 464,1022.4 C466,1022 468,1021.7 470.1,1021.4 C472.1,1021.1 474.1,1020.9 476.2,1020.7 C478.2,1020.5 480.2,1020.3 482.3,1020.2 C484.3,1020.1 486.3,1020 488.4,1019.9 C490.4,1019.9 492.5,1019.9 494.5,1019.9 C496.6,1020 498.6,1020.1 500.6,1020.2 C502.7,1020.3 504.7,1020.4 506.8,1020.6 C508.8,1020.8 510.8,1021 512.8,1021.3 C514.9,1021.5 516.9,1021.8 518.9,1022.2 C520.9,1022.5 522.9,1022.8 524.9,1023.2 C527,1023.6 529,1024 531,1024.4 C532.9,1024.9 534.9,1025.3 536.9,1025.8 C538.9,1026.2 540.9,1026.7 542.9,1027.2 C544.9,1027.7 546.9,1028.2 548.8,1028.7 C550.8,1029.2 552.8,1029.7 554.8,1030.2 C556.7,1030.7 558.7,1031.3 560.7,1031.8 C562.7,1032.3 564.7,1032.8 566.6,1033.3 C568.6,1033.8 570.6,1034.3 572.6,1034.8 C574.6,1035.3 576.5,1035.8 578.5,1036.2 C580.5,1036.7 582.5,1037.2 584.5,1037.6 C586.5,1038 588.5,1038.4 590.5,1038.8 C592.5,1039.2 594.5,1039.6 596.5,1039.9 C598.6,1040.3 601.6,1040.7 602.6,1040.8" stroke="#800000"/>
<path d="M81.9,1056.5 C82.9,1056.7 85.8,1057.4 87.8,1057.6 C89.8,1057.7 91.9,1057.8 93.9,1057.6 C95.8,1057.3 97.8,1056.8 99.7,1056.1 C101.5,1055.3 103.3,1054.2 104.9,1053.1 C106.6,1052 108.1,1050.6 109.6,1049.3 C111,1047.9 112.4,1046.4 113.8,1045 C115.2,1043.6 116.6,1042.1 118,1040.6 C119.3,1039.1 120.7,1037.6 122,1036.2 C123.4,1034.7 124.8,1033.2 126.3,1031.8 C127.7,1030.4 129.2,1029.1 130.7,1027.8 C132.2,1026.5 133.8,1025.2 135.5,1024 C137.1,1022.9 138.8,1021.8 140.5,1020.7 C142.2,1019.7 144,1018.8 145.9,1018 C147.7,1017.2 149.6,1016.5 151.5,1015.9 C153.4,1015.3 155.4,1014.9 157.4,1014.6 C159.4,1014.3 161.4,1014.1 163.4,1014.1 C165.4,1014.1 167.4,1014.2 169.4,1014.4 C171.4,1014.7 173.4,1015.1 175.4,1015.5 C177.3,1016 179.3,1016.5 181.2,1017.1 C183.1,1017.7 185,1018.4 186.9,1019.1 C188.8,1019.8 190.6,1020.6 192.5,1021.4 C194.3,1022.2 196.2,1023 198,1023.8 C199.8,1024.6 201.7,1025.5 203.5,1026.3 C205.3,1027.2 207.1,1028 209,1028.8 C210.8,1029.7 212.6,1030.5 214.5,1031.3 C216.3,1032.1 218.2,1032.9 220.1,1033.6 C221.9,1034.3 223.8,1035 225.8,1035.6 C227.7,1036.2 229.6,1036.8 231.5,1037.3 C233.5,1037.8 235.4,1038.3 237.4,1038.7 C239.4,1039.2 241.3,1039.5 243.3,1039.9 C245.3,1040.2 247.3,1040.5 249.3,1040.8 C251.3,1041.1 253.3,1041.3 255.3,1041.5 C257.3,1041.7 259.3,1041.9 261.3,1042.1 C263.3,1042.3 265.3,1042.4 267.3,1042.6 C269.3,1042.7 271.3,1042.8 273.3,1042.9 C275.3,1043.1 277.3,1043.2 279.4,1043.3 C281.4,1043.4 283.4,1043.5 285.4,1043.6 C287.4,1043.7 289.4,1043.8 291.4,1043.9 C293.4,1044 295.4,1044.1 297.4,1044.2 C299.4,1044.2 301.5,1044.3 303.5,1044.3 C305.5,1044.3 307.5,1044.3 309.5,1044.3 C311.5,1044.3 313.5,1044.2 315.5,1044.1 C317.5,1044 319.5,1043.9 321.5,1043.7 C323.5,1043.5 325.5,1043.3 327.5,1043 C329.5,1042.7 331.5,1042.4 333.5,1042 C335.5,1041.6 337.4,1041.2 339.4,1040.7 C341.3,1040.2 343.3,1039.7 345.2,1039 C347.1,1038.4 349,1037.8 350.9,1037 C352.7,1036.3 354.6,1035.5 356.4,1034.7 C358.2,1033.8 360,1032.9 361.8,1031.9 C363.5,1030.9 365.3,1029.9 366.9,1028.8 C368.6,1027.7 370.3,1026.5 371.9,1025.3 C373.5,1024.1 375,1022.8 376.6,1021.5 C378.1,1020.2 379.5,1018.8 381,1017.4 C382.4,1016 383.8,1014.6 385.2,1013.1 C386.6,1011.7 388,1010.2 389.4,1008.7 C390.7,1007.2 392.1,1005.7 393.4,1004.3 C394.8,1002.8 396.1,1001.3 397.5,999.8 C398.8,998.3 400.2,996.8 401.6,995.3 C402.9,993.9 404.3,992.4 405.7,991 C407.1,989.5 408.5,988.1 409.9,986.7 C411.4,985.2 412.8,983.8 414.3,982.4 C415.7,981 417.2,979.7 418.7,978.3 C420.2,977 421.7,975.7 423.3,974.4 C424.8,973.1 426.4,971.9 428,970.7 C429.6,969.5 431.3,968.3 433,967.3 C434.7,966.2 436.4,965.1 438.2,964.2 C440,963.3 441.8,962.4 443.7,961.7 C445.5,961 447.5,960.4 449.4,959.9 C451.4,959.4 453.4,959.1 455.4,958.9 C457.4,958.7 459.4,958.6 461.4,958.6 C463.4,958.6 465.4,958.8 467.4,959 C469.4,959.2 471.4,959.5 473.4,959.9 C475.4,960.2 477.3,960.7 479.3,961.2 C481.2,961.6 483.2,962.2 485.1,962.7 C487,963.2 489.9,964.1 490.9,964.4" stroke="#008000"/>
</g>
<line x1="92.7" y1="656" x2="156" y2="656" stroke="#008000" stroke-width="6"/>
<text x="163" y="665.6" font-size="28">280</text>
<line x1="92.7" y1="690.7" x2="156" y2="690.7" stroke="#FF0000" stroke-width="6"/>
<text x="163.4" y="700.3" font-size="28">300</text>
<line x1="92.7" y1="725.7" x2="156" y2="725.7" stroke="#00FF00" stroke-width="6"/>
<text x="163.4" y="735.3" font-size="28">320</text>
<line x1="92.7" y1="761" x2="156" y2="761" stroke="#0000FF" stroke-width="6"/>
<text x="163.4" y="770.6" font-size="28">340</text>
<line x1="92.7" y1="795" x2="156" y2="795" stroke="#00FFFF" stroke-width="6"/>
<text x="163.4" y="804.6" font-size="28">360</text>
<line x1="92.7" y1="830" x2="156" y2="830" stroke="#FF00FF" stroke-width="6"/>
<text x="163.4" y="839.6" font-size="28">380</text>
<line x1="217.3" y1="656" x2="281.7" y2="656" stroke="#FFFF00" stroke-width="6"/>
<text x="289.6" y="665.6" font-size="28">400</text>
<line x1="217.3" y1="690.7" x2="281.7" y2="690.7" stroke="#808000" stroke-width="6"/>
<text x="289.6" y="700.3" font-size="28">420</text>
<line x1="217.3" y1="725.7" x2="281.7" y2="725.7" stroke="#000080" stroke-width="6"/>
<text x="289.6" y="735.3" font-size="28">440</text>
<line x1="217.3" y1="761" x2="281.7" y2="761" stroke="#800080" stroke-width="6"/>
<text x="289.6" y="770.6" font-size="28">460</text>
<line x1="217.3" y1="795" x2="281.7" y2="795" stroke="#800000" stroke-width="6"/>
<text x="289.6" y="804.6" font-size="28">480</text>
<line x1="90.6" y1="1058.6" x2="90.6" y2="1062.6" stroke="#000" stroke-width="2"/>
<line x1="137.2" y1="1058.6" x2="137.2" y2="1066.6" stroke="#000" stroke-width="2"/>
<line x1="183.9" y1="1058.6" x2="183.9" y2="1062.6" stroke="#000" stroke-width="2"/>
<line x1="230.5" y1="1058.6" x2="230.5" y2="1066.6" stroke="#000" stroke-width="2"/>
<line x1="277.1" y1="1058.6" x2="277.1" y2="1062.6" stroke="#000" stroke-width="2"/>
<line x1="323.7" y1="1058.6" x2="323.7" y2="1066.6" stroke="#000" stroke-width="2"/>
<line x1="370.3" y1="1058.6" x2="370.3" y2="1062.6" stroke="#000" stroke-width="2"/>
<line x1="416.9" y1="1058.6" x2="416.9" y2="1066.6" stroke="#000" stroke-width="2"/>
<line x1="463.6" y1="1058.6" x2="463.6" y2="1062.6" stroke="#000" stroke-width="2"/>
<line x1="510.2" y1="1058.6" x2="510.2" y2="1066.6" stroke="#000" stroke-width="2"/>
<line x1="556.8" y1="1058.6" x2="556.8" y2="1062.6" stroke="#000" stroke-width="2"/>
<line x1="603.4" y1="1058.6" x2="603.4" y2="1066.6" stroke="#000" stroke-width="2"/>
<text x="108.4" y="1101" font-size="35">350</text>
<text x="201.7" y="1101.1" font-size="35">400</text>
<text x="295" y="1101.1" font-size="35">450</text>
<text x="387.9" y="1101.1" font-size="35">500</text>
<text x="481.2" y="1101.1" font-size="35">550</text>
<text x="574.3" y="1101.1" font-size="35">600</text>
<text x="135" y="632" font-size="35">363</text>
<text x="289.5" y="632" font-size="35">445</text>
<text x="437.2" y="632" font-size="35">525</text>
<text x="81.8" y="613.8" font-size="58">d</text>
<text x="151.7" y="1151.7" font-size="48">Wavelength (nm)</text>
<text transform="translate(43.7,1027.5) rotate(-90)" x="0" y="0" font-size="47.4">PL Intensity (a.u.)</text>
</g>
<g id="panel-e">
<line x1="802.8" y1="639.3" x2="802.8" y2="1058.5" stroke="#111" stroke-width="1.4"/>
<line x1="947" y1="639.3" x2="947" y2="1058.5" stroke="#111" stroke-width="1.4"/>
<rect x="703.7" y="639.3" width="522.3" height="419.2" fill="none" stroke="#000" stroke-width="2"/>
<g clip-path="url(#clip-e)" fill="none" stroke-width="5.5" stroke-linejoin="round" stroke-linecap="butt">
<path d="M703.3,1057.3 C704.3,1057.3 707.3,1057.3 709.4,1057.4 C711.4,1057.4 713.4,1057.5 715.4,1057.4 C717.4,1057.4 719.5,1057.3 721.5,1057 C723.4,1056.8 725.5,1056.4 727.4,1055.7 C729.3,1055.1 731.2,1054.3 732.9,1053.3 C734.7,1052.3 736.3,1051.1 737.9,1049.9 C739.4,1048.6 740.8,1047.1 742.2,1045.6 C743.6,1044.2 744.8,1042.6 746.1,1041 C747.3,1039.4 748.5,1037.7 749.6,1036.1 C750.8,1034.4 751.9,1032.7 753,1031.1 C754.1,1029.4 755.2,1027.7 756.3,1025.9 C757.3,1024.2 758.4,1022.5 759.5,1020.8 C760.5,1019.1 761.6,1017.4 762.6,1015.6 C763.7,1013.9 764.8,1012.2 765.9,1010.5 C766.9,1008.8 768,1007.1 769.1,1005.4 C770.3,1003.7 771.4,1002.1 772.6,1000.4 C773.7,998.8 774.9,997.1 776.2,995.6 C777.5,994 778.8,992.4 780.2,991 C781.5,989.5 783,988.1 784.6,986.9 C786.1,985.6 787.8,984.4 789.5,983.4 C791.3,982.4 793.2,981.6 795.1,981 C797,980.4 799,980 801,979.9 C803,979.8 805.1,979.9 807.1,980.3 C809,980.6 811,981.2 812.9,981.9 C814.8,982.6 816.6,983.5 818.4,984.5 C820.1,985.4 821.9,986.5 823.6,987.6 C825.3,988.7 826.9,989.8 828.6,991 C830.2,992.1 831.8,993.3 833.5,994.5 C835.1,995.7 836.8,996.9 838.4,998 C840.1,999.2 841.7,1000.3 843.4,1001.5 C845.1,1002.6 846.8,1003.6 848.5,1004.7 C850.3,1005.7 852,1006.7 853.8,1007.7 C855.5,1008.7 857.3,1009.7 859.1,1010.6 C860.9,1011.6 862.7,1012.5 864.5,1013.4 C866.3,1014.3 868.1,1015.2 869.9,1016.1 C871.7,1016.9 873.6,1017.8 875.4,1018.6 C877.2,1019.5 879.1,1020.4 880.8,1021.3 C882.6,1022.2 884.4,1023.2 886.1,1024.3 C887.8,1025.3 889.5,1026.5 891.1,1027.7 C892.7,1028.9 894.3,1030.2 896,1031.3 C897.6,1032.5 899.3,1033.6 901.1,1034.5 C902.9,1035.4 904.8,1036.2 906.7,1036.9 C908.5,1037.7 910.5,1038.2 912.4,1038.7 C914.4,1039.3 916.4,1039.7 918.3,1040.1 C920.3,1040.5 922.3,1040.9 924.3,1041.2 C926.3,1041.6 928.2,1042 930.2,1042.4 C932.2,1042.8 934.2,1043.2 936.2,1043.6 C938.2,1044 940.1,1044.4 942.1,1044.7 C944.1,1045.1 946.1,1045.5 948.1,1045.9 C950.1,1046.2 952,1046.6 954,1046.9 C956,1047.3 958,1047.6 960,1047.9 C962,1048.2 964,1048.6 966,1048.9 C968,1049.2 970,1049.5 972,1049.8 C974,1050 976,1050.3 978,1050.6 C980,1050.9 982,1051.1 984,1051.4 C986,1051.6 988,1051.9 990,1052.1 C992,1052.3 994,1052.6 996,1052.8 C998,1053 1000,1053.2 1002,1053.4 C1004.1,1053.6 1006.1,1053.8 1008.1,1054 C1010.1,1054.2 1012.1,1054.4 1014.1,1054.5 C1016.1,1054.7 1018.1,1054.9 1020.1,1055 C1022.2,1055.2 1024.2,1055.4 1026.2,1055.5 C1028.2,1055.6 1030.2,1055.8 1032.2,1055.9 C1034.2,1056 1036.3,1056.2 1038.3,1056.3 C1040.3,1056.4 1042.3,1056.5 1044.3,1056.6 C1046.3,1056.7 1048.4,1056.8 1050.4,1056.9 C1052.4,1057 1054.4,1057.1 1056.4,1057.2 C1058.4,1057.3 1060.5,1057.4 1062.5,1057.4 C1064.5,1057.5 1066.5,1057.6 1068.5,1057.6 C1070.5,1057.7 1072.6,1057.8 1074.6,1057.8 C1076.6,1057.9 1078.6,1057.9 1080.6,1058 C1082.7,1058 1084.7,1058.1 1086.7,1058.1 C1088.7,1058.1 1090.7,1058.2 1092.7,1058.2 C1094.8,1058.2 1096.8,1058.3 1098.8,1058.3 C1100.8,1058.3 1102.8,1058.3 1104.9,1058.3 C1106.9,1058.4 1108.9,1058.4 1110.9,1058.4 C1112.9,1058.4 1115,1058.4 1117,1058.4 C1119,1058.4 1121,1058.4 1123,1058.4 C1125,1058.4 1127.1,1058.4 1129.1,1058.4 C1131.1,1058.4 1133.1,1058.4 1135.1,1058.4 C1137.2,1058.4 1139.2,1058.4 1141.2,1058.4 C1143.2,1058.4 1145.2,1058.4 1147.3,1058.3 C1149.3,1058.3 1151.3,1058.3 1153.3,1058.3 C1155.3,1058.3 1157.4,1058.3 1159.4,1058.3 C1161.4,1058.2 1163.4,1058.2 1165.4,1058.2 C1167.4,1058.2 1169.5,1058.2 1171.5,1058.2 C1173.5,1058.2 1175.5,1058.1 1177.5,1058.1 C1179.6,1058.1 1181.6,1058.1 1183.6,1058.1 C1185.6,1058.1 1187.6,1058.1 1189.7,1058 C1191.7,1058 1193.7,1058 1195.7,1058 C1197.7,1058 1199.8,1058 1201.8,1058 C1203.8,1058 1205.8,1058 1207.8,1058 C1209.8,1058 1211.9,1058 1213.9,1058 C1215.9,1058 1217.9,1058 1219.9,1058 C1222,1058 1225,1058 1226,1058" stroke="#FF0000"/>
<path d="M724.6,1055.6 C725.3,1054.9 727.4,1052.7 728.7,1051.2 C730,1049.7 731.2,1048.1 732.5,1046.5 C733.7,1044.9 734.9,1043.3 736,1041.7 C737.2,1040 738.3,1038.4 739.5,1036.7 C740.6,1035.1 741.7,1033.4 742.8,1031.8 C744,1030.1 745.1,1028.4 746.2,1026.7 C747.3,1025.1 748.4,1023.4 749.5,1021.7 C750.6,1020.1 751.7,1018.4 752.8,1016.7 C753.9,1015.1 755.1,1013.4 756.2,1011.8 C757.4,1010.1 758.5,1008.5 759.7,1006.9 C760.9,1005.3 762.2,1003.7 763.4,1002.1 C764.7,1000.6 765.9,999 767.3,997.5 C768.6,996 769.9,994.5 771.3,993.1 C772.7,991.7 774.2,990.3 775.7,988.9 C777.2,987.6 778.7,986.3 780.4,985.2 C782,984 783.7,982.9 785.4,981.9 C787.2,981 789,980.1 790.9,979.4 C792.8,978.8 794.8,978.3 796.7,978.1 C798.7,977.9 800.8,977.9 802.7,978.1 C804.7,978.3 806.7,978.9 808.6,979.4 C810.5,980 812.4,980.8 814.2,981.7 C816,982.5 817.8,983.5 819.5,984.5 C821.2,985.5 822.9,986.5 824.6,987.6 C826.3,988.7 827.9,989.8 829.6,991 C831.3,992.1 832.9,993.3 834.5,994.4 C836.2,995.6 837.8,996.7 839.5,997.8 C841.1,999 842.8,1000.1 844.5,1001.2 C846.2,1002.3 847.9,1003.3 849.6,1004.4 C851.3,1005.4 853,1006.5 854.7,1007.5 C856.5,1008.5 858.2,1009.5 860,1010.4 C861.7,1011.4 863.5,1012.4 865.3,1013.3 C867,1014.2 868.8,1015.1 870.6,1016 C872.4,1016.9 874.2,1017.8 876,1018.6 C877.9,1019.4 879.7,1020.3 881.5,1021.1 C883.4,1021.9 885.2,1022.7 887.1,1023.4 C888.9,1024.2 890.8,1024.9 892.7,1025.6 C894.5,1026.4 896.4,1027.1 898.3,1027.7 C900.2,1028.4 902.1,1029.1 904,1029.7 C905.9,1030.4 907.8,1031 909.7,1031.6 C911.6,1032.2 913.5,1032.8 915.4,1033.4 C917.3,1034 919.3,1034.5 921.2,1035.1 C923.1,1035.6 925.1,1036.1 927,1036.6 C928.9,1037.1 930.9,1037.6 932.8,1038.1 C934.8,1038.6 936.7,1039.1 938.7,1039.5 C940.6,1040 942.6,1040.4 944.5,1040.9 C946.5,1041.3 948.5,1041.7 950.4,1042.1 C952.4,1042.5 954.3,1042.9 956.3,1043.3 C958.3,1043.7 960.2,1044.1 962.2,1044.5 C964.2,1044.9 966.1,1045.2 968.1,1045.6 C970.1,1045.9 972.1,1046.3 974,1046.6 C976,1047 978,1047.3 980,1047.6 C982,1047.9 983.9,1048.2 985.9,1048.5 C987.9,1048.8 989.9,1049.1 991.9,1049.4 C993.9,1049.7 995.8,1050 997.8,1050.2 C999.8,1050.5 1001.8,1050.8 1003.8,1051 C1005.8,1051.3 1007.8,1051.5 1009.8,1051.7 C1011.7,1052 1013.7,1052.2 1015.7,1052.4 C1017.7,1052.6 1019.7,1052.8 1021.7,1053.1 C1023.7,1053.3 1025.7,1053.5 1027.7,1053.6 C1029.7,1053.8 1031.7,1054 1033.7,1054.2 C1035.7,1054.4 1037.7,1054.5 1039.7,1054.7 C1041.7,1054.9 1043.7,1055 1045.7,1055.2 C1047.7,1055.3 1049.7,1055.5 1051.7,1055.6 C1053.7,1055.7 1055.7,1055.9 1057.7,1056 C1059.7,1056.1 1061.7,1056.2 1063.7,1056.3 C1065.7,1056.4 1067.7,1056.6 1069.7,1056.7 C1071.7,1056.8 1073.7,1056.8 1075.7,1056.9 C1077.7,1057 1079.7,1057.1 1081.7,1057.2 C1083.7,1057.3 1085.7,1057.4 1087.7,1057.4 C1089.7,1057.5 1091.7,1057.6 1093.7,1057.6 C1095.7,1057.7 1097.7,1057.7 1099.7,1057.8 C1101.7,1057.8 1103.7,1057.9 1105.7,1057.9 C1107.7,1058 1109.7,1058 1111.7,1058.1 C1113.8,1058.1 1115.8,1058.1 1117.8,1058.2 C1119.8,1058.2 1121.8,1058.2 1123.8,1058.2 C1125.8,1058.3 1127.8,1058.3 1129.8,1058.3 C1131.8,1058.3 1133.8,1058.3 1135.8,1058.3 C1137.8,1058.4 1139.8,1058.4 1141.8,1058.4 C1143.8,1058.4 1145.8,1058.4 1147.8,1058.4 C1149.8,1058.4 1151.8,1058.4 1153.8,1058.4 C1155.8,1058.4 1157.8,1058.4 1159.9,1058.4 C1161.9,1058.4 1163.9,1058.4 1165.9,1058.4 C1167.9,1058.4 1169.9,1058.3 1171.9,1058.3 C1173.9,1058.3 1175.9,1058.3 1177.9,1058.3 C1179.9,1058.3 1181.9,1058.3 1183.9,1058.3 C1185.9,1058.3 1187.9,1058.2 1189.9,1058.2 C1191.9,1058.2 1193.9,1058.2 1195.9,1058.2 C1197.9,1058.2 1199.9,1058.2 1201.9,1058.1 C1204,1058.1 1206,1058.1 1208,1058.1 C1210,1058.1 1212,1058.1 1214,1058.1 C1216,1058 1218,1058 1220,1058 C1222,1058 1225,1058 1226,1058" stroke="#00FF00"/>
<path d="M723,1054.8 C723.8,1054.2 726.3,1052.5 727.7,1051.1 C729,1049.7 730.1,1047.9 731.2,1046.2 C732.2,1044.5 733.1,1042.7 734,1040.9 C734.9,1039.1 735.7,1037.3 736.5,1035.4 C737.3,1033.6 738,1031.7 738.7,1029.8 C739.5,1028 740.2,1026.1 740.8,1024.2 C741.5,1022.3 742.2,1020.4 742.8,1018.5 C743.4,1016.6 744,1014.7 744.6,1012.8 C745.3,1010.9 745.9,1009 746.4,1007.1 C747,1005.1 747.6,1003.2 748.2,1001.3 C748.7,999.4 749.3,997.4 749.9,995.5 C750.4,993.6 751,991.7 751.5,989.7 C752.1,987.8 752.6,985.9 753.1,984 C753.7,982 754.2,980.1 754.8,978.2 C755.3,976.2 755.8,974.3 756.4,972.4 C756.9,970.4 757.4,968.5 758,966.6 C758.5,964.6 759,962.7 759.6,960.8 C760.1,958.8 760.6,956.9 761.2,955 C761.7,953 762.3,951.1 762.8,949.2 C763.3,947.3 763.9,945.3 764.5,943.4 C765,941.5 765.6,939.6 766.2,937.6 C766.7,935.7 767.3,933.8 767.9,931.9 C768.5,930 769.1,928.1 769.7,926.1 C770.3,924.2 771,922.3 771.6,920.4 C772.3,918.5 772.9,916.7 773.6,914.8 C774.3,912.9 775,911 775.8,909.2 C776.6,907.3 777.3,905.5 778.2,903.6 C779,901.8 779.9,900 780.8,898.2 C781.8,896.5 782.8,894.7 783.9,893.1 C785,891.4 786.2,889.8 787.6,888.3 C789,886.9 790.5,885.5 792.2,884.5 C793.9,883.6 795.9,882.8 797.9,882.6 C799.8,882.4 801.9,882.7 803.8,883.3 C805.7,883.8 807.5,884.8 809.2,885.8 C810.9,886.8 812.6,888.1 814.1,889.3 C815.7,890.6 817.2,891.9 818.6,893.3 C820,894.7 821.4,896.2 822.8,897.6 C824.1,899.1 825.4,900.6 826.7,902.2 C828,903.7 829.3,905.3 830.5,906.8 C831.7,908.4 833,910 834.2,911.6 C835.4,913.2 836.6,914.8 837.7,916.5 C838.9,918.1 840.1,919.7 841.3,921.3 C842.4,923 843.6,924.6 844.8,926.2 C845.9,927.9 847.1,929.5 848.2,931.1 C849.4,932.8 850.6,934.4 851.8,936 C852.9,937.6 854.1,939.3 855.3,940.9 C856.5,942.5 857.7,944.1 858.9,945.7 C860,947.3 861.2,948.9 862.5,950.5 C863.7,952.1 864.9,953.7 866.1,955.3 C867.3,956.9 868.5,958.5 869.8,960.1 C871,961.6 872.3,963.2 873.5,964.8 C874.8,966.3 876.1,967.9 877.3,969.4 C878.6,971 879.9,972.5 881.2,974 C882.5,975.6 883.8,977.1 885.2,978.6 C886.5,980.1 887.8,981.5 889.2,983 C890.6,984.5 891.9,985.9 893.3,987.4 C894.7,988.8 896.1,990.2 897.6,991.6 C899,993 900.5,994.4 902,995.8 C903.4,997.1 905,998.4 906.5,999.7 C908,1001 909.6,1002.3 911.2,1003.5 C912.7,1004.7 914.4,1005.9 916,1007.1 C917.6,1008.2 919.3,1009.4 921,1010.5 C922.6,1011.6 924.3,1012.6 926.1,1013.6 C927.8,1014.7 929.5,1015.7 931.3,1016.6 C933,1017.6 934.8,1018.5 936.6,1019.4 C938.4,1020.3 940.2,1021.2 942,1022.1 C943.8,1022.9 945.7,1023.7 947.5,1024.6 C949.3,1025.4 951.2,1026.1 953,1026.9 C954.9,1027.7 956.7,1028.5 958.6,1029.2 C960.4,1029.9 962.3,1030.6 964.2,1031.4 C966.1,1032.1 968,1032.7 969.8,1033.4 C971.7,1034.1 973.6,1034.7 975.5,1035.4 C977.4,1036 979.3,1036.6 981.3,1037.2 C983.2,1037.8 985.1,1038.4 987,1039 C988.9,1039.5 990.9,1040.1 992.8,1040.6 C994.7,1041.2 996.7,1041.7 998.6,1042.2 C1000.5,1042.7 1002.5,1043.2 1004.4,1043.6 C1006.4,1044.1 1008.3,1044.6 1010.3,1045 C1012.2,1045.4 1014.2,1045.8 1016.2,1046.3 C1018.1,1046.7 1020.1,1047.1 1022.1,1047.4 C1024,1047.8 1026,1048.2 1028,1048.5 C1030,1048.9 1031.9,1049.2 1033.9,1049.5 C1035.9,1049.8 1037.9,1050.1 1039.9,1050.4 C1041.8,1050.7 1043.8,1051 1045.8,1051.3 C1047.8,1051.5 1049.8,1051.8 1051.8,1052 C1053.8,1052.3 1055.8,1052.5 1057.8,1052.7 C1059.7,1052.9 1061.7,1053.1 1063.7,1053.3 C1065.7,1053.5 1067.7,1053.7 1069.7,1053.9 C1071.7,1054 1073.7,1054.2 1075.7,1054.3 C1077.7,1054.5 1079.7,1054.6 1081.7,1054.8 C1083.7,1054.9 1085.7,1055 1087.7,1055.1 C1089.7,1055.2 1091.7,1055.4 1093.7,1055.5 C1095.7,1055.6 1097.7,1055.6 1099.7,1055.7 C1101.7,1055.8 1103.7,1055.9 1105.7,1055.9 C1107.7,1056 1109.7,1056.1 1111.8,1056.1 C1113.8,1056.2 1115.8,1056.2 1117.8,1056.3 C1119.8,1056.3 1121.8,1056.4 1123.8,1056.4 C1125.8,1056.4 1127.8,1056.5 1129.8,1056.5 C1131.8,1056.5 1133.8,1056.6 1135.8,1056.6 C1137.8,1056.6 1139.8,1056.6 1141.8,1056.6 C1143.8,1056.6 1145.8,1056.6 1147.8,1056.7 C1149.8,1056.7 1151.8,1056.7 1153.8,1056.7 C1155.8,1056.7 1157.9,1056.7 1159.9,1056.7 C1161.9,1056.7 1163.9,1056.7 1165.9,1056.7 C1167.9,1056.7 1169.9,1056.7 1171.9,1056.7 C1173.9,1056.7 1175.9,1056.7 1177.9,1056.7 C1179.9,1056.7 1181.9,1056.7 1183.9,1056.8 C1185.9,1056.8 1187.9,1056.8 1189.9,1056.8 C1191.9,1056.8 1193.9,1056.8 1195.9,1056.8 C1197.9,1056.9 1199.9,1056.9 1202,1056.9 C1204,1056.9 1206,1057 1208,1057 C1210,1057.1 1212,1057.1 1214,1057.1 C1216,1057.2 1218,1057.2 1220,1057.3 C1222,1057.4 1225,1057.5 1226,1057.5" stroke="#0000FF"/>
<path d="M760,890.4 C760.1,889.5 760.6,886.5 760.9,884.5 C761.2,882.5 761.5,880.5 761.8,878.5 C762.1,876.5 762.4,874.5 762.7,872.5 C763,870.5 763.3,868.5 763.6,866.5 C763.9,864.5 764.2,862.5 764.6,860.5 C764.9,858.6 765.2,856.6 765.5,854.6 C765.9,852.6 766.2,850.6 766.5,848.6 C766.9,846.6 767.2,844.6 767.5,842.6 C767.9,840.7 768.2,838.7 768.6,836.7 C769,834.7 769.3,832.7 769.7,830.7 C770.1,828.8 770.4,826.8 770.8,824.8 C771.2,822.8 771.6,820.8 772.1,818.9 C772.5,816.9 772.9,814.9 773.3,813 C773.8,811 774.3,809 774.7,807.1 C775.2,805.1 775.7,803.2 776.2,801.2 C776.7,799.3 777.3,797.3 777.8,795.4 C778.4,793.4 779,791.5 779.6,789.6 C780.2,787.7 780.9,785.8 781.6,783.9 C782.3,782 783,780.1 783.8,778.2 C784.6,776.4 785.4,774.5 786.4,772.8 C787.3,771 788.3,769.2 789.4,767.6 C790.6,765.9 791.8,764.2 793.3,763 C794.8,761.7 796.7,760.4 798.5,759.9 C800.4,759.5 802.6,759.8 804.4,760.4 C806.3,761 808,762.4 809.5,763.6 C811.1,764.9 812.4,766.5 813.7,768 C815,769.6 816.1,771.2 817.3,772.9 C818.4,774.5 819.5,776.3 820.5,778 C821.5,779.7 822.5,781.5 823.4,783.3 C824.4,785.1 825.3,786.9 826.2,788.7 C827.1,790.5 828,792.3 828.8,794.1 C829.7,796 830.5,797.8 831.3,799.6 C832.1,801.5 832.9,803.3 833.7,805.2 C834.5,807 835.3,808.9 836.1,810.8 C836.8,812.6 837.6,814.5 838.4,816.4 C839.1,818.2 839.9,820.1 840.6,822 C841.3,823.9 842.1,825.7 842.8,827.6 C843.5,829.5 844.3,831.4 845,833.3 C845.7,835.1 846.5,837 847.2,838.9 C847.9,840.8 848.6,842.7 849.4,844.5 C850.1,846.4 850.8,848.3 851.5,850.2 C852.3,852.1 853,854 853.7,855.8 C854.4,857.7 855.2,859.6 855.9,861.5 C856.6,863.3 857.4,865.2 858.1,867.1 C858.9,869 859.6,870.8 860.4,872.7 C861.1,874.6 861.9,876.4 862.7,878.3 C863.5,880.2 864.2,882 865,883.9 C865.8,885.7 866.7,887.6 867.5,889.4 C868.3,891.3 869.2,893.1 870,894.9 C870.9,896.7 871.7,898.6 872.6,900.4 C873.5,902.2 874.4,904 875.3,905.8 C876.3,907.6 877.2,909.4 878.1,911.1 C879.1,912.9 880,914.7 881,916.5 C882,918.2 882.9,920 883.9,921.8 C884.9,923.5 885.9,925.3 886.9,927 C887.9,928.8 888.9,930.6 889.9,932.3 C890.8,934.1 891.8,935.8 892.8,937.6 C893.9,939.3 894.9,941.1 895.9,942.8 C896.9,944.5 897.9,946.3 899,948 C900,949.7 901,951.5 902.1,953.2 C903.1,954.9 904.2,956.6 905.3,958.3 C906.4,960 907.5,961.7 908.6,963.4 C909.8,965 910.9,966.7 912.1,968.3 C913.3,970 914.5,971.6 915.7,973.2 C917,974.8 918.2,976.3 919.5,977.9 C920.8,979.4 922.1,981 923.5,982.5 C924.8,984 926.2,985.4 927.6,986.9 C929,988.3 930.4,989.8 931.9,991.2 C933.3,992.5 934.8,993.9 936.3,995.2 C937.9,996.6 939.4,997.9 941,999.1 C942.5,1000.4 944.1,1001.7 945.7,1002.9 C947.3,1004.1 949,1005.3 950.6,1006.4 C952.3,1007.6 953.9,1008.7 955.6,1009.8 C957.3,1010.9 959,1012 960.7,1013.1 C962.4,1014.2 964.2,1015.2 965.9,1016.2 C967.7,1017.2 969.4,1018.2 971.2,1019.2 C973,1020.1 974.7,1021.1 976.5,1022 C978.3,1022.9 980.1,1023.8 982,1024.6 C983.8,1025.5 985.6,1026.3 987.5,1027.1 C989.3,1027.9 991.2,1028.7 993.1,1029.5 C994.9,1030.3 996.8,1031 998.7,1031.7 C1000.6,1032.4 1002.5,1033.1 1004.4,1033.8 C1006.3,1034.4 1008.2,1035.1 1010.1,1035.7 C1012,1036.3 1014,1036.9 1015.9,1037.5 C1017.8,1038 1019.8,1038.6 1021.7,1039.1 C1023.7,1039.7 1025.6,1040.2 1027.6,1040.7 C1029.5,1041.2 1031.5,1041.6 1033.4,1042.1 C1035.4,1042.6 1037.4,1043 1039.3,1043.5 C1041.3,1043.9 1043.3,1044.3 1045.2,1044.7 C1047.2,1045.1 1049.2,1045.5 1051.2,1045.9 C1053.2,1046.3 1055.1,1046.7 1057.1,1047 C1059.1,1047.4 1061.1,1047.7 1063.1,1048.1 C1065.1,1048.4 1067.1,1048.7 1069.1,1049 C1071.1,1049.3 1073.1,1049.6 1075,1049.9 C1077,1050.2 1079,1050.4 1081,1050.7 C1083,1051 1085,1051.2 1087,1051.5 C1089,1051.7 1091.1,1051.9 1093.1,1052.1 C1095.1,1052.4 1097.1,1052.6 1099.1,1052.8 C1101.1,1053 1103.1,1053.2 1105.1,1053.3 C1107.1,1053.5 1109.1,1053.7 1111.1,1053.8 C1113.1,1054 1115.1,1054.2 1117.2,1054.3 C1119.2,1054.5 1121.2,1054.6 1123.2,1054.7 C1125.2,1054.8 1127.2,1055 1129.2,1055.1 C1131.2,1055.2 1133.3,1055.3 1135.3,1055.4 C1137.3,1055.5 1139.3,1055.6 1141.3,1055.7 C1143.3,1055.8 1145.3,1055.9 1147.4,1055.9 C1149.4,1056 1151.4,1056.1 1153.4,1056.1 C1155.4,1056.2 1157.4,1056.3 1159.5,1056.3 C1161.5,1056.4 1163.5,1056.4 1165.5,1056.5 C1167.5,1056.5 1169.5,1056.6 1171.6,1056.6 C1173.6,1056.6 1175.6,1056.7 1177.6,1056.7 C1179.6,1056.7 1181.6,1056.8 1183.7,1056.8 C1185.7,1056.8 1187.7,1056.9 1189.7,1056.9 C1191.7,1056.9 1193.7,1056.9 1195.8,1056.9 C1197.8,1057 1199.8,1057 1201.8,1057 C1203.8,1057 1205.8,1057 1207.9,1057 C1209.9,1057.1 1211.9,1057.1 1213.9,1057.1 C1215.9,1057.1 1217.9,1057.1 1220,1057.1 C1222,1057.2 1225,1057.2 1226,1057.2" stroke="#00FFFF"/>
<path d="M759,873.7 C759.1,872.7 759.5,869.7 759.8,867.7 C760,865.7 760.3,863.7 760.5,861.7 C760.8,859.7 761.1,857.7 761.3,855.7 C761.6,853.7 761.9,851.7 762.1,849.7 C762.4,847.7 762.7,845.7 763,843.8 C763.2,841.8 763.5,839.8 763.8,837.8 C764.1,835.8 764.4,833.8 764.6,831.8 C764.9,829.8 765.2,827.8 765.5,825.8 C765.8,823.8 766.1,821.8 766.4,819.9 C766.7,817.9 767,815.9 767.3,813.9 C767.6,811.9 767.9,809.9 768.2,807.9 C768.5,805.9 768.8,803.9 769.1,802 C769.4,800 769.7,798 770,796 C770.4,794 770.7,792 771,790 C771.3,788.1 771.6,786.1 772,784.1 C772.3,782.1 772.6,780.1 773,778.1 C773.3,776.1 773.6,774.2 774,772.2 C774.3,770.2 774.7,768.2 775,766.2 C775.4,764.2 775.7,762.3 776.1,760.3 C776.4,758.3 776.8,756.3 777.1,754.3 C777.5,752.4 777.9,750.4 778.3,748.4 C778.6,746.4 779,744.5 779.4,742.5 C779.8,740.5 780.3,738.6 780.7,736.6 C781.1,734.6 781.6,732.7 782,730.7 C782.5,728.8 783,726.8 783.5,724.9 C784,722.9 784.6,721 785.1,719 C785.7,717.1 786.3,715.2 787,713.3 C787.6,711.4 788.3,709.5 789,707.6 C789.7,705.7 790.5,703.9 791.3,702.1 C792.2,700.2 793.1,698.4 794.2,696.7 C795.2,695 796.3,693.1 797.8,692 C799.4,690.8 801.5,689.7 803.3,689.9 C805,690.1 806.8,691.8 808.2,693.2 C809.7,694.5 810.7,696.3 811.9,698 C813,699.7 813.9,701.5 814.9,703.2 C815.9,705 816.8,706.8 817.7,708.6 C818.6,710.4 819.5,712.2 820.4,714 C821.3,715.8 822.1,717.6 823,719.4 C823.9,721.2 824.7,723 825.6,724.9 C826.4,726.7 827.3,728.5 828.1,730.4 C828.9,732.2 829.7,734 830.5,735.9 C831.3,737.7 832.1,739.6 832.8,741.5 C833.6,743.3 834.3,745.2 835.1,747.1 C835.8,748.9 836.5,750.8 837.2,752.7 C837.9,754.6 838.6,756.5 839.2,758.4 C839.9,760.3 840.5,762.2 841.2,764.1 C841.8,766 842.4,767.9 843.1,769.8 C843.7,771.8 844.3,773.7 844.9,775.6 C845.5,777.5 846.1,779.4 846.6,781.4 C847.2,783.3 847.8,785.2 848.4,787.1 C849,789.1 849.5,791 850.1,792.9 C850.7,794.9 851.3,796.8 851.8,798.7 C852.4,800.6 853,802.6 853.5,804.5 C854.1,806.4 854.7,808.4 855.2,810.3 C855.8,812.2 856.4,814.1 857,816.1 C857.6,818 858.1,819.9 858.7,821.9 C859.3,823.8 859.9,825.7 860.5,827.6 C861.1,829.5 861.7,831.5 862.3,833.4 C862.9,835.3 863.5,837.2 864.1,839.1 C864.8,841 865.4,843 866,844.9 C866.7,846.8 867.3,848.7 868,850.6 C868.7,852.5 869.4,854.4 870.1,856.2 C870.7,858.1 871.5,860 872.2,861.9 C872.9,863.8 873.7,865.6 874.4,867.5 C875.2,869.4 876,871.2 876.8,873.1 C877.6,874.9 878.4,876.7 879.2,878.6 C880,880.4 880.9,882.2 881.7,884.1 C882.6,885.9 883.5,887.7 884.3,889.5 C885.2,891.3 886.1,893.1 887,894.9 C887.9,896.7 888.8,898.5 889.6,900.3 C890.5,902.1 891.4,904 892.3,905.8 C893.2,907.6 894.1,909.4 895,911.2 C895.9,913 896.8,914.8 897.7,916.6 C898.6,918.3 899.5,920.1 900.5,921.9 C901.4,923.7 902.3,925.5 903.2,927.3 C904.1,929.1 905.1,930.9 906,932.6 C907,934.4 907.9,936.2 908.9,938 C909.8,939.7 910.8,941.5 911.7,943.3 C912.7,945 913.7,946.8 914.7,948.5 C915.7,950.3 916.7,952 917.7,953.8 C918.7,955.5 919.8,957.2 920.8,958.9 C921.9,960.7 922.9,962.4 924,964.1 C925.1,965.7 926.2,967.4 927.3,969.1 C928.5,970.8 929.6,972.4 930.8,974.1 C931.9,975.7 933.1,977.3 934.3,978.9 C935.5,980.5 936.8,982.1 938,983.7 C939.3,985.3 940.6,986.8 941.9,988.4 C943.2,989.9 944.5,991.4 945.9,992.9 C947.2,994.4 948.6,995.8 950,997.3 C951.4,998.7 952.8,1000.1 954.3,1001.5 C955.8,1002.9 957.3,1004.2 958.8,1005.6 C960.3,1006.9 961.8,1008.2 963.4,1009.5 C965,1010.7 966.5,1011.9 968.2,1013.1 C969.8,1014.3 971.4,1015.5 973.1,1016.6 C974.8,1017.8 976.4,1018.9 978.2,1019.9 C979.9,1021 981.6,1022 983.3,1023 C985.1,1024 986.9,1025 988.6,1025.9 C990.4,1026.8 992.2,1027.7 994.1,1028.6 C995.9,1029.4 997.7,1030.2 999.6,1031 C1001.4,1031.8 1003.3,1032.6 1005.2,1033.3 C1007,1034 1008.9,1034.7 1010.8,1035.4 C1012.7,1036 1014.6,1036.7 1016.6,1037.3 C1018.5,1037.9 1020.4,1038.4 1022.3,1039 C1024.3,1039.5 1026.2,1040.1 1028.2,1040.6 C1030.1,1041.1 1032.1,1041.6 1034,1042 C1036,1042.5 1037.9,1043 1039.9,1043.4 C1041.9,1043.8 1043.8,1044.3 1045.8,1044.7 C1047.8,1045.1 1049.7,1045.5 1051.7,1045.9 C1053.7,1046.2 1055.7,1046.6 1057.6,1047 C1059.6,1047.3 1061.6,1047.7 1063.6,1048 C1065.6,1048.3 1067.6,1048.7 1069.5,1049 C1071.5,1049.3 1073.5,1049.6 1075.5,1049.9 C1077.5,1050.2 1079.5,1050.4 1081.5,1050.7 C1083.5,1051 1085.5,1051.2 1087.5,1051.5 C1089.5,1051.7 1091.5,1051.9 1093.5,1052.1 C1095.5,1052.4 1097.5,1052.6 1099.5,1052.8 C1101.5,1053 1103.5,1053.2 1105.5,1053.4 C1107.5,1053.5 1109.5,1053.7 1111.5,1053.9 C1113.5,1054 1115.5,1054.2 1117.5,1054.3 C1119.5,1054.5 1121.5,1054.6 1123.5,1054.8 C1125.5,1054.9 1127.6,1055 1129.6,1055.1 C1131.6,1055.2 1133.6,1055.4 1135.6,1055.5 C1137.6,1055.6 1139.6,1055.6 1141.6,1055.7 C1143.6,1055.8 1145.6,1055.9 1147.7,1056 C1149.7,1056.1 1151.7,1056.1 1153.7,1056.2 C1155.7,1056.3 1157.7,1056.3 1159.7,1056.4 C1161.7,1056.4 1163.7,1056.5 1165.7,1056.5 C1167.8,1056.6 1169.8,1056.6 1171.8,1056.7 C1173.8,1056.7 1175.8,1056.7 1177.8,1056.8 C1179.8,1056.8 1181.8,1056.8 1183.9,1056.9 C1185.9,1056.9 1187.9,1056.9 1189.9,1056.9 C1191.9,1057 1193.9,1057 1195.9,1057 C1197.9,1057 1199.9,1057 1202,1057 C1204,1057.1 1206,1057.1 1208,1057.1 C1210,1057.1 1212,1057.1 1214,1057.1 C1216,1057.1 1218.1,1057.1 1220.1,1057.2 C1222.1,1057.2 1225.1,1057.2 1226.1,1057.2" stroke="#FF00FF"/>
<path d="M778.7,858.9 C778.9,857.9 779.5,855 779.8,853 C780.2,851 780.6,849.1 781,847.1 C781.4,845.2 781.9,843.2 782.3,841.2 C782.7,839.3 783.2,837.3 783.6,835.4 C784.1,833.4 784.6,831.5 785.1,829.5 C785.5,827.6 786.1,825.6 786.6,823.7 C787.1,821.8 787.7,819.8 788.2,817.9 C788.8,816 789.4,814.1 790,812.2 C790.7,810.3 791.3,808.4 792,806.5 C792.8,804.6 793.5,802.8 794.3,801 C795.1,799.1 796,797.3 797,795.6 C798,793.8 799,792.1 800.3,790.5 C801.6,789 803,787.3 804.6,786.4 C806.3,785.5 808.5,784.9 810.4,785.1 C812.2,785.3 814.2,786.5 815.8,787.6 C817.4,788.7 818.8,790.2 820.1,791.7 C821.4,793.2 822.6,794.9 823.7,796.5 C824.9,798.2 825.9,799.9 826.9,801.6 C828,803.3 828.9,805.1 829.9,806.9 C830.8,808.6 831.7,810.4 832.6,812.2 C833.5,814 834.4,815.8 835.3,817.6 C836.1,819.4 837,821.3 837.8,823.1 C838.6,824.9 839.4,826.7 840.2,828.6 C841.1,830.4 841.9,832.2 842.7,834.1 C843.5,835.9 844.2,837.8 845,839.6 C845.8,841.5 846.6,843.3 847.4,845.1 C848.2,847 848.9,848.8 849.7,850.7 C850.5,852.5 851.3,854.4 852.1,856.2 C852.8,858.1 853.6,859.9 854.4,861.8 C855.2,863.6 856,865.5 856.8,867.3 C857.6,869.1 858.4,871 859.2,872.8 C860,874.6 860.8,876.5 861.6,878.3 C862.4,880.1 863.3,882 864.1,883.8 C864.9,885.6 865.8,887.4 866.6,889.2 C867.5,891 868.3,892.9 869.2,894.7 C870.1,896.5 871,898.3 871.8,900.1 C872.7,901.9 873.6,903.7 874.5,905.5 C875.4,907.3 876.3,909 877.2,910.8 C878.2,912.6 879.1,914.4 880,916.2 C880.9,917.9 881.9,919.7 882.8,921.5 C883.8,923.2 884.8,925 885.7,926.7 C886.7,928.5 887.7,930.3 888.7,932 C889.6,933.7 890.6,935.5 891.6,937.2 C892.6,939 893.7,940.7 894.7,942.4 C895.7,944.1 896.7,945.8 897.8,947.6 C898.8,949.3 899.9,951 901,952.7 C902,954.4 903.1,956 904.2,957.7 C905.3,959.4 906.4,961.1 907.5,962.7 C908.7,964.4 909.8,966.1 910.9,967.7 C912.1,969.3 913.3,971 914.4,972.6 C915.6,974.2 916.8,975.8 918,977.4 C919.2,979 920.5,980.6 921.7,982.2 C923,983.7 924.2,985.3 925.5,986.8 C926.8,988.4 928.1,989.9 929.4,991.4 C930.7,992.9 932.1,994.4 933.5,995.9 C934.8,997.3 936.2,998.8 937.6,1000.2 C939.1,1001.6 940.5,1003 942,1004.4 C943.4,1005.7 944.9,1007.1 946.4,1008.4 C947.9,1009.7 949.5,1011 951,1012.2 C952.6,1013.5 954.2,1014.7 955.8,1015.9 C957.4,1017.1 959.1,1018.2 960.8,1019.3 C962.4,1020.4 964.1,1021.5 965.9,1022.5 C967.6,1023.5 969.4,1024.5 971.1,1025.4 C972.9,1026.3 974.7,1027.2 976.5,1028 C978.4,1028.9 980.2,1029.6 982.1,1030.4 C983.9,1031.1 985.8,1031.8 987.7,1032.5 C989.6,1033.1 991.5,1033.8 993.4,1034.3 C995.3,1034.9 997.3,1035.5 999.2,1036 C1001.1,1036.5 1003.1,1037 1005,1037.5 C1007,1038 1008.9,1038.4 1010.9,1038.9 C1012.8,1039.3 1014.8,1039.8 1016.8,1040.2 C1018.7,1040.6 1020.7,1041 1022.6,1041.4 C1024.6,1041.8 1026.6,1042.2 1028.6,1042.5 C1030.5,1042.9 1032.5,1043.3 1034.5,1043.6 C1036.4,1044 1038.4,1044.3 1040.4,1044.6 C1042.4,1044.9 1044.4,1045.3 1046.3,1045.6 C1048.3,1045.9 1050.3,1046.2 1052.3,1046.4 C1054.3,1046.7 1056.3,1047 1058.2,1047.3 C1060.2,1047.5 1062.2,1047.8 1064.2,1048.1 C1066.2,1048.3 1068.2,1048.6 1070.2,1048.8 C1072.2,1049 1074.2,1049.3 1076.2,1049.5 C1078.1,1049.7 1080.1,1050 1082.1,1050.2 C1084.1,1050.4 1086.1,1050.6 1088.1,1050.8 C1090.1,1051 1092.1,1051.2 1094.1,1051.4 C1096.1,1051.6 1098.1,1051.8 1100.1,1052 C1102.1,1052.2 1104.1,1052.4 1106.1,1052.6 C1108.1,1052.8 1110,1053 1112,1053.2 C1114,1053.4 1116,1053.6 1118,1053.8 C1120,1054 1122,1054.2 1124,1054.4 C1126,1054.6 1129,1054.9 1130,1055" stroke="#FFFF00"/>
<path d="M815.8,1027.6 C816.8,1027.4 819.7,1026.6 821.7,1026.2 C823.7,1025.8 825.7,1025.5 827.7,1025.3 C829.7,1025.1 831.8,1024.9 833.8,1024.8 C835.8,1024.7 837.8,1024.6 839.9,1024.6 C841.9,1024.5 843.9,1024.6 846,1024.6 C848,1024.6 850,1024.7 852,1024.8 C854.1,1024.9 856.1,1025 858.1,1025.1 C860.1,1025.2 862.2,1025.3 864.2,1025.5 C866.2,1025.6 868.2,1025.7 870.2,1025.8 C872.3,1025.9 874.3,1026 876.3,1026.2 C878.3,1026.3 880.4,1026.4 882.4,1026.5 C884.4,1026.6 886.4,1026.7 888.5,1026.9 C890.5,1027 892.5,1027.1 894.5,1027.2 C896.6,1027.3 898.6,1027.5 900.6,1027.6 C902.6,1027.7 904.7,1027.9 906.7,1028 C908.7,1028.2 910.7,1028.3 912.7,1028.4 C914.8,1028.6 916.8,1028.8 918.8,1028.9 C920.8,1029.1 922.9,1029.3 924.9,1029.4 C926.9,1029.6 928.9,1029.8 930.9,1030 C932.9,1030.2 935,1030.4 937,1030.6 C939,1030.8 941,1031 943,1031.3 C945,1031.5 947.1,1031.7 949.1,1032 C951.1,1032.2 953.1,1032.5 955.1,1032.7 C957.1,1033 959.1,1033.2 961.1,1033.5 C963.1,1033.8 965.2,1034 967.2,1034.3 C969.2,1034.6 971.2,1034.9 973.2,1035.2 C975.2,1035.4 977.2,1035.7 979.2,1036 C981.2,1036.3 983.2,1036.6 985.2,1036.9 C987.2,1037.2 989.2,1037.5 991.2,1037.8 C993.2,1038.1 995.3,1038.4 997.3,1038.7 C999.3,1039 1001.3,1039.3 1003.3,1039.7 C1005.3,1040 1007.3,1040.3 1009.3,1040.6 C1011.3,1040.9 1013.3,1041.2 1015.3,1041.5 C1017.3,1041.8 1019.3,1042.1 1021.3,1042.5 C1023.3,1042.8 1025.3,1043.1 1027.3,1043.4 C1029.3,1043.7 1031.3,1044 1033.3,1044.3 C1035.3,1044.6 1037.3,1044.9 1039.3,1045.2 C1041.3,1045.5 1043.3,1045.8 1045.3,1046.1 C1047.4,1046.4 1049.4,1046.7 1051.4,1047 C1053.4,1047.3 1055.4,1047.6 1057.4,1047.9 C1059.4,1048.1 1061.4,1048.4 1063.4,1048.7 C1065.4,1049 1067.4,1049.2 1069.4,1049.5 C1071.5,1049.8 1073.5,1050 1075.5,1050.3 C1077.5,1050.5 1079.5,1050.8 1081.5,1051 C1083.5,1051.2 1085.5,1051.5 1087.6,1051.7 C1089.6,1051.9 1091.6,1052.1 1093.6,1052.3 C1095.6,1052.5 1097.6,1052.7 1099.7,1052.9 C1101.7,1053.1 1103.7,1053.3 1105.7,1053.5 C1107.7,1053.6 1109.8,1053.8 1111.8,1053.9 C1113.8,1054.1 1115.8,1054.2 1117.9,1054.4 C1119.9,1054.5 1121.9,1054.6 1123.9,1054.7 C1125.9,1054.8 1129,1055 1130,1055" stroke="#808000"/>
<path d="M853.6,1054.1 C854.6,1053.8 857.5,1053 859.5,1052.4 C861.4,1051.9 863.3,1051.3 865.3,1050.7 C867.2,1050.1 869.2,1049.5 871.1,1049 C873.1,1048.4 875,1047.8 876.9,1047.2 C878.9,1046.6 880.8,1046 882.8,1045.4 C884.7,1044.9 886.7,1044.3 888.6,1043.7 C890.6,1043.2 892.5,1042.6 894.5,1042.1 C896.4,1041.5 898.4,1041 900.4,1040.5 C902.3,1040 904.3,1039.5 906.3,1039 C908.2,1038.5 910.2,1038.1 912.2,1037.7 C914.2,1037.3 916.2,1036.9 918.2,1036.5 C920.2,1036.1 922.2,1035.8 924.2,1035.5 C926.2,1035.2 928.2,1034.9 930.2,1034.7 C932.2,1034.5 934.2,1034.3 936.3,1034.1 C938.3,1033.9 940.3,1033.8 942.3,1033.7 C944.4,1033.6 946.4,1033.5 948.4,1033.5 C950.4,1033.4 952.5,1033.4 954.5,1033.4 C956.5,1033.4 958.6,1033.5 960.6,1033.5 C962.6,1033.6 964.6,1033.7 966.7,1033.8 C968.7,1033.9 970.7,1034 972.7,1034.2 C974.8,1034.3 976.8,1034.5 978.8,1034.7 C980.8,1034.9 982.8,1035.1 984.9,1035.4 C986.9,1035.6 988.9,1035.9 990.9,1036.1 C992.9,1036.4 994.9,1036.7 996.9,1037 C998.9,1037.2 1000.9,1037.6 1002.9,1037.9 C1004.9,1038.2 1006.9,1038.5 1008.9,1038.8 C1010.9,1039.2 1012.9,1039.5 1014.9,1039.9 C1016.9,1040.2 1018.9,1040.6 1020.9,1040.9 C1022.9,1041.3 1024.9,1041.6 1026.9,1042 C1028.9,1042.3 1030.9,1042.7 1032.9,1043.1 C1034.9,1043.4 1036.9,1043.8 1038.9,1044.1 C1040.9,1044.5 1042.9,1044.8 1044.9,1045.2 C1046.9,1045.5 1048.9,1045.9 1050.9,1046.2 C1052.9,1046.5 1054.9,1046.8 1056.9,1047.1 C1058.9,1047.5 1060.9,1047.8 1062.9,1048 C1064.9,1048.3 1067,1048.6 1069,1048.9 C1071,1049.1 1073,1049.4 1075,1049.6 C1077,1049.8 1079,1050 1081.1,1050.2 C1083.1,1050.4 1085.1,1050.6 1087.1,1050.8 C1089.1,1051 1091.2,1051.2 1093.2,1051.3 C1095.2,1051.5 1097.2,1051.6 1099.3,1051.8 C1101.3,1051.9 1103.3,1052 1105.3,1052.2 C1107.4,1052.3 1109.4,1052.4 1111.4,1052.6 C1113.4,1052.7 1115.5,1052.8 1117.5,1052.9 C1119.5,1053 1121.5,1053.1 1123.6,1053.2 C1125.6,1053.3 1127.6,1053.5 1129.6,1053.6 C1131.7,1053.7 1133.7,1053.8 1135.7,1053.9 C1137.7,1054 1139.8,1054.1 1141.8,1054.3 C1143.8,1054.4 1145.8,1054.5 1147.9,1054.6 C1149.9,1054.8 1151.9,1054.9 1153.9,1055 C1156,1055.2 1159,1055.4 1160,1055.5" stroke="#000080"/>
<path d="M890.5,1054.1 C891.5,1053.8 894.4,1053 896.3,1052.5 C898.2,1051.9 900.2,1051.5 902.1,1051 C904.1,1050.5 906,1050.1 908,1049.6 C910,1049.2 911.9,1048.8 913.9,1048.4 C915.9,1048 917.8,1047.7 919.8,1047.3 C921.8,1047 923.8,1046.7 925.8,1046.4 C927.7,1046.2 929.7,1045.9 931.7,1045.7 C933.7,1045.5 935.7,1045.3 937.7,1045.1 C939.7,1044.9 941.7,1044.8 943.7,1044.7 C945.7,1044.6 947.7,1044.5 949.7,1044.4 C951.7,1044.4 953.7,1044.4 955.7,1044.4 C957.8,1044.4 959.8,1044.4 961.8,1044.5 C963.8,1044.5 965.8,1044.6 967.8,1044.7 C969.8,1044.8 971.8,1044.9 973.8,1045.1 C975.8,1045.2 977.8,1045.4 979.8,1045.5 C981.8,1045.7 983.8,1045.8 985.8,1046 C987.8,1046.2 989.8,1046.3 991.8,1046.5 C993.8,1046.7 995.8,1046.9 997.8,1047 C999.8,1047.2 1001.8,1047.4 1003.8,1047.6 C1005.8,1047.7 1007.8,1047.9 1009.8,1048.1 C1011.8,1048.2 1013.8,1048.4 1015.8,1048.6 C1017.8,1048.8 1019.8,1048.9 1021.8,1049.1 C1023.8,1049.2 1025.8,1049.4 1027.8,1049.6 C1029.8,1049.7 1031.8,1049.9 1033.8,1050.1 C1035.8,1050.2 1037.8,1050.4 1039.8,1050.5 C1041.8,1050.7 1043.8,1050.8 1045.8,1051 C1047.8,1051.1 1049.8,1051.3 1051.8,1051.4 C1053.8,1051.6 1055.8,1051.7 1057.8,1051.9 C1059.8,1052 1061.8,1052.2 1063.8,1052.3 C1065.8,1052.4 1067.8,1052.6 1069.8,1052.7 C1071.8,1052.8 1073.8,1053 1075.8,1053.1 C1077.8,1053.2 1079.8,1053.4 1081.8,1053.5 C1083.8,1053.6 1085.8,1053.7 1087.8,1053.9 C1089.8,1054 1091.8,1054.1 1093.8,1054.2 C1095.8,1054.3 1097.8,1054.5 1099.8,1054.6 C1101.8,1054.7 1103.8,1054.8 1105.8,1054.9 C1107.8,1055 1109.8,1055.1 1111.8,1055.2 C1113.8,1055.3 1115.8,1055.4 1117.8,1055.5 C1119.8,1055.6 1121.8,1055.7 1123.8,1055.8 C1125.8,1055.9 1127.8,1055.9 1129.8,1056 C1131.8,1056.1 1133.9,1056.2 1135.9,1056.3 C1137.9,1056.3 1139.9,1056.4 1141.9,1056.5 C1143.9,1056.6 1145.9,1056.6 1147.9,1056.7 C1149.9,1056.7 1151.9,1056.8 1153.9,1056.9 C1155.9,1056.9 1157.9,1057 1159.9,1057 C1161.9,1057.1 1163.9,1057.1 1165.9,1057.2 C1167.9,1057.2 1169.9,1057.2 1171.9,1057.3 C1174,1057.3 1176,1057.3 1178,1057.4 C1180,1057.4 1182,1057.4 1184,1057.4 C1186,1057.4 1188,1057.5 1190,1057.5 C1192,1057.5 1194,1057.5 1196,1057.5 C1198,1057.5 1200,1057.5 1202,1057.5 C1204,1057.5 1206,1057.5 1208,1057.4 C1210.1,1057.4 1212.1,1057.4 1214.1,1057.4 C1216.1,1057.4 1218.1,1057.3 1220.1,1057.3 C1222.1,1057.3 1225.1,1057.2 1226.1,1057.2" stroke="#800080"/>
</g>
<line x1="978.3" y1="687.3" x2="1042.3" y2="687.3" stroke="#FF0000" stroke-width="6"/>
<text x="1049.7" y="696.9" font-size="28">280</text>
<line x1="978.3" y1="722.3" x2="1042.3" y2="722.3" stroke="#00FF00" stroke-width="6"/>
<text x="1050.1" y="731.9" font-size="28">300</text>
<line x1="978.3" y1="756.7" x2="1042.3" y2="756.7" stroke="#0000FF" stroke-width="6"/>
<text x="1050.1" y="766.3" font-size="28">310</text>
<line x1="978.3" y1="792" x2="1042.3" y2="792" stroke="#00FFFF" stroke-width="6"/>
<text x="1050.1" y="801.6" font-size="28">320</text>
<line x1="978.3" y1="827" x2="1042.3" y2="827" stroke="#FF00FF" stroke-width="6"/>
<text x="1050.1" y="836.6" font-size="28">330</text>
<line x1="1104" y1="687.3" x2="1167.3" y2="687.3" stroke="#FFFF00" stroke-width="6"/>
<text x="1175.1" y="696.9" font-size="28">340</text>
<line x1="1104" y1="722.3" x2="1167.3" y2="722.3" stroke="#808000" stroke-width="6"/>
<text x="1175.1" y="731.9" font-size="28">360</text>
<line x1="1104" y1="756.7" x2="1167.3" y2="756.7" stroke="#000080" stroke-width="6"/>
<text x="1175.1" y="766.3" font-size="28">380</text>
<line x1="1104" y1="792" x2="1167.3" y2="792" stroke="#800080" stroke-width="6"/>
<text x="1175.3" y="801.6" font-size="28">400</text>
<line x1="713" y1="1058.5" x2="713" y2="1062.5" stroke="#000" stroke-width="2"/>
<line x1="759.7" y1="1058.5" x2="759.7" y2="1066.5" stroke="#000" stroke-width="2"/>
<line x1="806.3" y1="1058.5" x2="806.3" y2="1062.5" stroke="#000" stroke-width="2"/>
<line x1="852.9" y1="1058.5" x2="852.9" y2="1066.5" stroke="#000" stroke-width="2"/>
<line x1="899.6" y1="1058.5" x2="899.6" y2="1062.5" stroke="#000" stroke-width="2"/>
<line x1="946.2" y1="1058.5" x2="946.2" y2="1066.5" stroke="#000" stroke-width="2"/>
<line x1="992.8" y1="1058.5" x2="992.8" y2="1062.5" stroke="#000" stroke-width="2"/>
<line x1="1039.5" y1="1058.5" x2="1039.5" y2="1066.5" stroke="#000" stroke-width="2"/>
<line x1="1086.1" y1="1058.5" x2="1086.1" y2="1062.5" stroke="#000" stroke-width="2"/>
<line x1="1132.7" y1="1058.5" x2="1132.7" y2="1066.5" stroke="#000" stroke-width="2"/>
<line x1="1179.4" y1="1058.5" x2="1179.4" y2="1062.5" stroke="#000" stroke-width="2"/>
<line x1="1226" y1="1058.5" x2="1226" y2="1066.5" stroke="#000" stroke-width="2"/>
<text x="730.8" y="1100.1" font-size="35">350</text>
<text x="824.2" y="1100.2" font-size="35">400</text>
<text x="917.5" y="1100.2" font-size="35">450</text>
<text x="1010.5" y="1100.2" font-size="35">500</text>
<text x="1103.7" y="1100.2" font-size="35">550</text>
<text x="1196.9" y="1100.2" font-size="35">600</text>
<text x="775.9" y="631.2" font-size="35">373</text>
<text x="920.5" y="631.2" font-size="35">450</text>
<text x="711" y="615.9" font-size="58">e</text>
<text x="774.5" y="1156.8" font-size="48">Wavelength (nm)</text>
<text transform="translate(666,1027.5) rotate(-90)" x="0" y="0" font-size="47.4">PL Intensity (a.u.)</text>
</g>
<g id="panel-f">
<line x1="1511.3" y1="643.2" x2="1511.3" y2="1062.4" stroke="#111" stroke-width="1.4"/>
<line x1="1700.3" y1="643.2" x2="1700.3" y2="1062.4" stroke="#111" stroke-width="1.4"/>
<rect x="1334.7" y="643.2" width="521.3" height="419.2" fill="none" stroke="#000" stroke-width="2"/>
<g clip-path="url(#clip-f)" fill="none" stroke-width="5.5" stroke-linejoin="round" stroke-linecap="butt">
<path d="M1335.5,1057.1 C1336.4,1056.7 1339.2,1055.6 1341.2,1055 C1343.1,1054.3 1345,1053.8 1347,1053.4 C1349,1053 1351,1052.6 1353,1052.4 C1355,1052.1 1357,1051.9 1359,1051.8 C1361,1051.7 1363,1051.6 1365.1,1051.6 C1367.1,1051.6 1369.1,1051.6 1371.1,1051.7 C1373.1,1051.7 1375.1,1051.8 1377.2,1051.9 C1379.2,1052 1381.2,1052 1383.2,1052.1 C1385.2,1052.2 1387.3,1052.3 1389.3,1052.3 C1391.3,1052.4 1393.3,1052.5 1395.3,1052.5 C1397.3,1052.6 1399.4,1052.7 1401.4,1052.7 C1403.4,1052.8 1405.4,1052.8 1407.4,1052.9 C1409.4,1053 1411.5,1053 1413.5,1053.1 C1415.5,1053.1 1417.5,1053.2 1419.5,1053.3 C1421.6,1053.3 1423.6,1053.4 1425.6,1053.4 C1427.6,1053.5 1429.6,1053.5 1431.6,1053.6 C1433.7,1053.6 1435.7,1053.7 1437.7,1053.7 C1439.7,1053.8 1441.7,1053.8 1443.7,1053.9 C1445.8,1053.9 1447.8,1054 1449.8,1054 C1451.8,1054.1 1453.8,1054.1 1455.9,1054.2 C1457.9,1054.2 1459.9,1054.2 1461.9,1054.3 C1463.9,1054.3 1465.9,1054.4 1468,1054.4 C1470,1054.5 1472,1054.5 1474,1054.5 C1476,1054.6 1478.1,1054.6 1480.1,1054.7 C1482.1,1054.7 1484.1,1054.7 1486.1,1054.8 C1488.1,1054.8 1490.2,1054.9 1492.2,1054.9 C1494.2,1054.9 1496.2,1055 1498.2,1055 C1500.3,1055.1 1502.3,1055.1 1504.3,1055.1 C1506.3,1055.2 1508.3,1055.2 1510.3,1055.2 C1512.4,1055.3 1514.4,1055.3 1516.4,1055.4 C1518.4,1055.4 1520.4,1055.4 1522.5,1055.5 C1524.5,1055.5 1526.5,1055.5 1528.5,1055.6 C1530.5,1055.6 1532.5,1055.7 1534.6,1055.7 C1536.6,1055.7 1538.6,1055.8 1540.6,1055.8 C1542.6,1055.8 1544.7,1055.9 1546.7,1055.9 C1548.7,1055.9 1550.7,1056 1552.7,1056 C1554.8,1056 1556.8,1056.1 1558.8,1056.1 C1560.8,1056.1 1562.8,1056.2 1564.8,1056.2 C1566.9,1056.2 1568.9,1056.3 1570.9,1056.3 C1572.9,1056.3 1574.9,1056.4 1577,1056.4 C1579,1056.4 1581,1056.5 1583,1056.5 C1585,1056.5 1587,1056.6 1589.1,1056.6 C1591.1,1056.6 1593.1,1056.7 1595.1,1056.7 C1597.1,1056.7 1599.2,1056.8 1601.2,1056.8 C1603.2,1056.8 1605.2,1056.9 1607.2,1056.9 C1609.2,1056.9 1611.3,1057 1613.3,1057 C1615.3,1057 1617.3,1057 1619.3,1057.1 C1621.4,1057.1 1623.4,1057.1 1625.4,1057.2 C1627.4,1057.2 1629.4,1057.2 1631.4,1057.3 C1633.5,1057.3 1635.5,1057.3 1637.5,1057.3 C1639.5,1057.4 1641.5,1057.4 1643.6,1057.4 C1645.6,1057.5 1647.6,1057.5 1649.6,1057.5 C1651.6,1057.6 1653.7,1057.6 1655.7,1057.6 C1657.7,1057.6 1659.7,1057.7 1661.7,1057.7 C1663.7,1057.7 1665.8,1057.7 1667.8,1057.8 C1669.8,1057.8 1671.8,1057.8 1673.8,1057.9 C1675.9,1057.9 1677.9,1057.9 1679.9,1057.9 C1681.9,1058 1683.9,1058 1685.9,1058 C1688,1058 1690,1058.1 1692,1058.1 C1694,1058.1 1696,1058.2 1698.1,1058.2 C1700.1,1058.2 1702.1,1058.2 1704.1,1058.3 C1706.1,1058.3 1708.1,1058.3 1710.2,1058.3 C1712.2,1058.4 1714.2,1058.4 1716.2,1058.4 C1718.2,1058.4 1720.3,1058.5 1722.3,1058.5 C1724.3,1058.5 1726.3,1058.5 1728.3,1058.6 C1730.4,1058.6 1732.4,1058.6 1734.4,1058.6 C1736.4,1058.7 1738.4,1058.7 1740.4,1058.7 C1742.5,1058.7 1744.5,1058.7 1746.5,1058.8 C1748.5,1058.8 1750.5,1058.8 1752.6,1058.8 C1754.6,1058.9 1756.6,1058.9 1758.6,1058.9 C1760.6,1058.9 1762.6,1059 1764.7,1059 C1766.7,1059 1768.7,1059 1770.7,1059 C1772.7,1059.1 1774.8,1059.1 1776.8,1059.1 C1778.8,1059.1 1780.8,1059.2 1782.8,1059.2 C1784.9,1059.2 1786.9,1059.2 1788.9,1059.2 C1790.9,1059.3 1792.9,1059.3 1794.9,1059.3 C1797,1059.3 1799,1059.3 1801,1059.4 C1803,1059.4 1805,1059.4 1807.1,1059.4 C1809.1,1059.5 1811.1,1059.5 1813.1,1059.5 C1815.1,1059.5 1817.1,1059.5 1819.2,1059.6 C1821.2,1059.6 1823.2,1059.6 1825.2,1059.6 C1827.2,1059.6 1829.3,1059.7 1831.3,1059.7 C1833.3,1059.7 1835.3,1059.7 1837.3,1059.7 C1839.4,1059.8 1841.4,1059.8 1843.4,1059.8 C1845.4,1059.8 1847.4,1059.8 1849.4,1059.9 C1851.5,1059.9 1854.5,1059.9 1855.5,1059.9" stroke="#000000"/>
<path d="M1355.5,1041 C1356.5,1040.6 1359.3,1039.6 1361.2,1038.9 C1363.1,1038.3 1365.1,1037.7 1367,1037.2 C1368.9,1036.6 1370.9,1036.1 1372.9,1035.6 C1374.8,1035.1 1376.8,1034.7 1378.8,1034.3 C1380.7,1033.8 1382.7,1033.5 1384.7,1033.1 C1386.7,1032.8 1388.7,1032.5 1390.7,1032.2 C1392.7,1031.9 1394.7,1031.6 1396.7,1031.4 C1398.7,1031.1 1400.7,1030.9 1402.7,1030.7 C1404.7,1030.5 1406.7,1030.3 1408.8,1030.2 C1410.8,1030 1412.8,1029.8 1414.8,1029.7 C1416.8,1029.6 1418.8,1029.4 1420.8,1029.3 C1422.9,1029.2 1424.9,1029.1 1426.9,1029 C1428.9,1028.9 1430.9,1028.8 1432.9,1028.7 C1435,1028.6 1437,1028.5 1439,1028.4 C1441,1028.2 1443,1028.1 1445,1028 C1447.1,1027.9 1449.1,1027.8 1451.1,1027.7 C1453.1,1027.6 1455.1,1027.5 1457.1,1027.3 C1459.2,1027.2 1461.2,1027.1 1463.2,1027 C1465.2,1026.9 1467.2,1026.8 1469.2,1026.8 C1471.3,1026.7 1473.3,1026.6 1475.3,1026.5 C1477.3,1026.5 1479.3,1026.4 1481.3,1026.4 C1483.4,1026.3 1485.4,1026.3 1487.4,1026.3 C1489.4,1026.3 1491.4,1026.3 1493.5,1026.3 C1495.5,1026.3 1497.5,1026.4 1499.5,1026.4 C1501.5,1026.5 1503.6,1026.6 1505.6,1026.7 C1507.6,1026.8 1509.6,1026.9 1511.6,1027.1 C1513.6,1027.2 1515.6,1027.4 1517.7,1027.6 C1519.7,1027.7 1521.7,1027.9 1523.7,1028.1 C1525.7,1028.3 1527.7,1028.6 1529.7,1028.8 C1531.7,1029 1533.7,1029.3 1535.7,1029.5 C1537.7,1029.7 1539.7,1030 1541.7,1030.2 C1543.7,1030.5 1545.7,1030.7 1547.8,1031 C1549.8,1031.2 1551.8,1031.5 1553.8,1031.7 C1555.8,1032 1557.8,1032.2 1559.8,1032.5 C1561.8,1032.7 1563.8,1032.9 1565.8,1033.1 C1567.8,1033.4 1569.8,1033.6 1571.8,1033.8 C1573.8,1033.9 1575.8,1034.1 1577.9,1034.3 C1579.9,1034.5 1581.9,1034.6 1583.9,1034.8 C1585.9,1034.9 1587.9,1035 1589.9,1035.2 C1592,1035.3 1594,1035.4 1596,1035.5 C1598,1035.6 1600,1035.7 1602,1035.8 C1604.1,1035.9 1606.1,1036 1608.1,1036.1 C1610.1,1036.2 1612.1,1036.2 1614.1,1036.3 C1616.2,1036.4 1618.2,1036.5 1620.2,1036.6 C1622.2,1036.6 1624.2,1036.7 1626.3,1036.8 C1628.3,1036.9 1630.3,1036.9 1632.3,1037 C1634.3,1037.1 1636.3,1037.2 1638.4,1037.2 C1640.4,1037.3 1642.4,1037.4 1644.4,1037.5 C1646.4,1037.6 1648.4,1037.7 1650.5,1037.8 C1652.5,1037.9 1654.5,1038 1656.5,1038.1 C1658.5,1038.2 1660.5,1038.3 1662.6,1038.4 C1664.6,1038.5 1666.6,1038.6 1668.6,1038.7 C1670.6,1038.8 1672.6,1038.9 1674.7,1039.1 C1676.7,1039.2 1678.7,1039.3 1680.7,1039.4 C1682.7,1039.6 1684.7,1039.7 1686.8,1039.8 C1688.8,1040 1690.8,1040.1 1692.8,1040.3 C1694.8,1040.4 1696.8,1040.6 1698.8,1040.7 C1700.9,1040.9 1702.9,1041 1704.9,1041.2 C1706.9,1041.4 1708.9,1041.5 1710.9,1041.7 C1712.9,1041.9 1714.9,1042.1 1716.9,1042.3 C1719,1042.5 1721,1042.6 1723,1042.8 C1725,1043 1727,1043.2 1729,1043.5 C1731,1043.7 1733,1043.9 1735,1044.1 C1737,1044.3 1739,1044.6 1741,1044.8 C1743,1045 1745.1,1045.3 1747.1,1045.5 C1749.1,1045.8 1751.1,1046 1753.1,1046.3 C1755.1,1046.5 1757.1,1046.8 1759.1,1047 C1761.1,1047.3 1763.1,1047.5 1765.1,1047.8 C1767.1,1048.1 1769.1,1048.3 1771.1,1048.6 C1773.1,1048.9 1775.1,1049.1 1777.1,1049.4 C1779.1,1049.6 1781.1,1049.9 1783.1,1050.2 C1785.1,1050.4 1787.1,1050.7 1789.1,1050.9 C1791.1,1051.2 1793.1,1051.4 1795.1,1051.7 C1797.1,1051.9 1799.1,1052.1 1801.1,1052.4 C1803.2,1052.6 1805.2,1052.8 1807.2,1053 C1809.2,1053.3 1811.2,1053.5 1813.2,1053.7 C1815.2,1053.9 1817.2,1054.1 1819.2,1054.3 C1821.2,1054.5 1823.2,1054.6 1825.3,1054.8 C1827.3,1055 1829.3,1055.1 1831.3,1055.3 C1833.3,1055.4 1835.3,1055.6 1837.3,1055.7 C1839.4,1055.8 1841.4,1055.9 1843.4,1056 C1845.4,1056.1 1847.4,1056.2 1849.4,1056.2 C1851.5,1056.3 1854.5,1056.4 1855.5,1056.4" stroke="#FF0000"/>
<path d="M1397.1,1049.1 C1398.1,1048.8 1401,1048 1402.9,1047.4 C1404.8,1046.7 1406.7,1046 1408.5,1045.3 C1410.4,1044.5 1412.3,1043.7 1414.1,1042.9 C1415.9,1042.1 1417.7,1041.2 1419.6,1040.3 C1421.4,1039.4 1423.1,1038.5 1424.9,1037.6 C1426.7,1036.6 1428.5,1035.7 1430.3,1034.7 C1432,1033.8 1433.8,1032.8 1435.6,1031.8 C1437.3,1030.8 1439.1,1029.9 1440.8,1028.9 C1442.6,1027.9 1444.4,1027 1446.2,1026 C1447.9,1025.1 1449.7,1024.1 1451.5,1023.2 C1453.3,1022.3 1455.1,1021.4 1456.9,1020.5 C1458.7,1019.6 1460.5,1018.8 1462.4,1017.9 C1464.2,1017.1 1466,1016.3 1467.9,1015.5 C1469.8,1014.8 1471.6,1014 1473.5,1013.3 C1475.4,1012.6 1477.3,1011.9 1479.2,1011.2 C1481.1,1010.5 1483,1009.9 1484.9,1009.2 C1486.8,1008.6 1488.7,1008 1490.7,1007.5 C1492.6,1006.9 1494.5,1006.4 1496.5,1006 C1498.5,1005.6 1500.5,1005.2 1502.4,1004.9 C1504.4,1004.6 1506.5,1004.4 1508.5,1004.3 C1510.5,1004.3 1512.5,1004.3 1514.5,1004.4 C1516.5,1004.5 1518.5,1004.7 1520.5,1004.9 C1522.5,1005.2 1524.5,1005.5 1526.5,1005.8 C1528.5,1006.1 1530.5,1006.4 1532.5,1006.7 C1534.4,1007 1536.4,1007.3 1538.4,1007.5 C1540.4,1007.8 1542.4,1008 1544.4,1008.1 C1546.4,1008.3 1548.5,1008.4 1550.5,1008.4 C1552.5,1008.5 1554.5,1008.5 1556.5,1008.4 C1558.5,1008.4 1560.5,1008.3 1562.5,1008.2 C1564.6,1008.1 1566.6,1008 1568.6,1007.8 C1570.6,1007.6 1572.6,1007.4 1574.6,1007.2 C1576.6,1006.9 1578.6,1006.7 1580.6,1006.4 C1582.5,1006.1 1584.5,1005.7 1586.5,1005.4 C1588.5,1005 1590.5,1004.6 1592.4,1004.2 C1594.4,1003.8 1596.4,1003.3 1598.3,1002.9 C1600.3,1002.4 1602.2,1001.9 1604.2,1001.4 C1606.1,1000.8 1608,1000.3 1610,999.7 C1611.9,999.1 1613.8,998.5 1615.7,997.8 C1617.6,997.2 1619.5,996.5 1621.4,995.8 C1623.3,995.1 1625.2,994.4 1627.1,993.7 C1629,993 1630.8,992.3 1632.7,991.6 C1634.6,990.9 1636.5,990.1 1638.4,989.4 C1640.2,988.7 1642.1,988 1644,987.3 C1645.9,986.6 1647.8,985.9 1649.7,985.3 C1651.6,984.6 1653.5,984 1655.4,983.4 C1657.4,982.8 1659.3,982.2 1661.2,981.7 C1663.2,981.2 1665.1,980.7 1667.1,980.2 C1669.1,979.8 1671,979.4 1673,979.1 C1675,978.8 1677,978.6 1679,978.4 C1681,978.2 1683,978.2 1685,978.2 C1687.1,978.2 1689.1,978.2 1691.1,978.4 C1693.1,978.6 1695.1,978.8 1697.1,979.1 C1699.1,979.4 1701.1,979.7 1703,980.1 C1705,980.6 1707,981 1708.9,981.5 C1710.8,982 1712.8,982.6 1714.7,983.2 C1716.6,983.8 1718.5,984.4 1720.4,985.1 C1722.3,985.7 1724.2,986.4 1726.1,987.1 C1728,987.8 1729.9,988.6 1731.7,989.3 C1733.6,990.1 1735.5,990.9 1737.3,991.6 C1739.2,992.4 1741,993.2 1742.9,994 C1744.7,994.8 1746.6,995.6 1748.4,996.5 C1750.2,997.3 1752.1,998.1 1753.9,999 C1755.7,999.8 1757.6,1000.6 1759.4,1001.5 C1761.2,1002.3 1763,1003.2 1764.9,1004 C1766.7,1004.8 1768.5,1005.7 1770.3,1006.5 C1772.2,1007.4 1774,1008.2 1775.8,1009 C1777.7,1009.9 1779.5,1010.7 1781.4,1011.5 C1783.2,1012.3 1785.1,1013.1 1786.9,1013.9 C1788.8,1014.7 1790.6,1015.4 1792.5,1016.2 C1794.3,1016.9 1796.2,1017.7 1798.1,1018.4 C1800,1019.1 1801.9,1019.8 1803.8,1020.5 C1805.7,1021.2 1807.6,1021.8 1809.5,1022.5 C1811.4,1023.1 1813.3,1023.7 1815.2,1024.3 C1817.1,1024.9 1819.1,1025.5 1821,1026.1 C1822.9,1026.7 1824.8,1027.3 1826.8,1027.9 C1828.7,1028.5 1830.6,1029.1 1832.5,1029.6 C1834.5,1030.2 1836.4,1030.8 1838.3,1031.4 C1840.2,1032 1842.2,1032.6 1844.1,1033.2 C1846,1033.8 1847.9,1034.5 1849.8,1035.1 C1851.7,1035.8 1854.6,1036.8 1855.5,1037.1" stroke="#00FF00"/>
<path d="M1438.7,1046.1 C1439.7,1045.8 1442.6,1045.1 1444.5,1044.5 C1446.4,1043.8 1448.3,1043 1450.2,1042.2 C1452,1041.4 1453.8,1040.5 1455.6,1039.5 C1457.4,1038.6 1459.1,1037.6 1460.9,1036.6 C1462.6,1035.6 1464.4,1034.5 1466.1,1033.4 C1467.8,1032.4 1469.5,1031.3 1471.2,1030.2 C1472.9,1029.1 1474.6,1028 1476.3,1026.9 C1478,1025.8 1479.7,1024.7 1481.4,1023.6 C1483.1,1022.5 1484.8,1021.5 1486.6,1020.5 C1488.3,1019.4 1490.1,1018.4 1491.8,1017.5 C1493.6,1016.5 1495.4,1015.6 1497.3,1014.8 C1499.1,1014 1501,1013.2 1502.9,1012.5 C1504.8,1011.8 1506.7,1011.2 1508.7,1010.6 C1510.6,1010 1512.5,1009.5 1514.5,1009 C1516.5,1008.6 1518.5,1008.1 1520.4,1007.7 C1522.4,1007.3 1524.4,1007 1526.4,1006.6 C1528.4,1006.3 1530.4,1005.9 1532.4,1005.6 C1534.4,1005.2 1536.3,1004.9 1538.3,1004.5 C1540.3,1004.1 1542.3,1003.7 1544.3,1003.3 C1546.2,1002.9 1548.2,1002.4 1550.2,1001.9 C1552.1,1001.4 1554.1,1000.8 1556,1000.2 C1557.9,999.5 1559.8,998.8 1561.7,998.1 C1563.5,997.3 1565.4,996.5 1567.2,995.6 C1569,994.7 1570.8,993.7 1572.5,992.7 C1574.3,991.6 1576,990.5 1577.6,989.4 C1579.3,988.2 1580.9,987 1582.4,985.7 C1584,984.4 1585.5,983.1 1587,981.7 C1588.5,980.4 1589.9,978.9 1591.3,977.5 C1592.7,976 1594.1,974.5 1595.4,973 C1596.7,971.4 1598,969.8 1599.2,968.3 C1600.4,966.7 1601.6,965 1602.8,963.4 C1604,961.7 1605.1,960.1 1606.2,958.4 C1607.3,956.7 1608.4,955 1609.5,953.3 C1610.5,951.5 1611.6,949.8 1612.6,948.1 C1613.6,946.3 1614.6,944.6 1615.6,942.8 C1616.6,941 1617.6,939.3 1618.6,937.5 C1619.5,935.7 1620.5,934 1621.5,932.2 C1622.5,930.4 1623.4,928.6 1624.4,926.9 C1625.4,925.1 1626.3,923.3 1627.3,921.6 C1628.3,919.8 1629.3,918 1630.2,916.2 C1631.2,914.5 1632.2,912.7 1633.2,911 C1634.2,909.2 1635.3,907.5 1636.3,905.7 C1637.3,904 1638.3,902.2 1639.4,900.5 C1640.4,898.8 1641.4,897 1642.4,895.3 C1643.4,893.5 1644.4,891.7 1645.4,890 C1646.3,888.2 1647.3,886.4 1648.2,884.6 C1649.2,882.9 1650.1,881.1 1651.1,879.3 C1652,877.5 1653,875.7 1653.9,873.9 C1654.9,872.2 1655.9,870.4 1657,868.7 C1658,867 1659.1,865.2 1660.3,863.6 C1661.5,862 1662.8,860.4 1664.2,859 C1665.6,857.5 1667.1,856.1 1668.7,854.9 C1670.3,853.7 1672.1,852.7 1673.9,851.8 C1675.7,851 1677.7,850.4 1679.6,849.9 C1681.6,849.4 1683.6,849.1 1685.6,848.8 C1687.6,848.5 1689.6,848.3 1691.6,848.2 C1693.6,848.1 1695.7,848.1 1697.7,848.2 C1699.7,848.3 1701.7,848.5 1703.7,848.8 C1705.7,849.2 1707.7,849.6 1709.6,850.2 C1711.5,850.9 1713.4,851.6 1715.2,852.5 C1717.1,853.3 1718.8,854.4 1720.5,855.4 C1722.2,856.5 1723.9,857.7 1725.5,858.9 C1727.1,860.1 1728.7,861.4 1730.2,862.7 C1731.7,864.1 1733.2,865.4 1734.7,866.8 C1736.1,868.2 1737.6,869.6 1739,871.1 C1740.4,872.5 1741.8,874 1743.2,875.5 C1744.6,876.9 1745.9,878.4 1747.3,879.9 C1748.6,881.4 1750,883 1751.3,884.5 C1752.6,886 1753.9,887.5 1755.3,889.1 C1756.6,890.6 1757.9,892.1 1759.2,893.7 C1760.5,895.2 1761.8,896.7 1763.1,898.3 C1764.5,899.8 1765.8,901.3 1767.1,902.9 C1768.4,904.4 1769.8,905.9 1771.1,907.5 C1772.4,909 1773.7,910.5 1775,912 C1776.4,913.6 1777.7,915.1 1779,916.6 C1780.3,918.2 1781.6,919.7 1782.9,921.2 C1784.2,922.8 1785.5,924.3 1786.8,925.9 C1788.1,927.4 1789.4,929 1790.7,930.6 C1791.9,932.1 1793.2,933.7 1794.5,935.3 C1795.7,936.9 1797,938.5 1798.2,940.1 C1799.4,941.7 1800.7,943.3 1801.9,944.9 C1803.2,946.5 1804.4,948.1 1805.6,949.7 C1806.9,951.3 1808.1,952.9 1809.4,954.4 C1810.7,956 1811.9,957.6 1813.2,959.1 C1814.5,960.7 1815.9,962.2 1817.2,963.7 C1818.6,965.2 1819.9,966.7 1821.4,968.1 C1822.8,969.6 1824.2,971 1825.7,972.4 C1827.2,973.7 1828.7,975.1 1830.2,976.4 C1831.8,977.7 1833.3,979 1834.9,980.2 C1836.5,981.4 1838.2,982.6 1839.8,983.8 C1841.5,984.9 1843.2,986 1844.9,987.1 C1846.6,988.1 1848.4,989.2 1850.1,990.2 C1851.9,991.1 1854.6,992.5 1855.5,993" stroke="#0000FF"/>
<path d="M1481,1052.1 C1481.9,1051.6 1484.5,1050.1 1486.3,1049.3 C1488.1,1048.4 1490,1047.7 1491.9,1047.1 C1493.8,1046.4 1495.8,1045.9 1497.7,1045.3 C1499.6,1044.7 1501.6,1044.3 1503.5,1043.7 C1505.4,1043.2 1507.4,1042.6 1509.3,1042 C1511.2,1041.3 1513,1040.6 1514.9,1039.8 C1516.7,1039 1518.5,1038 1520.3,1037.1 C1522.1,1036.2 1523.8,1035.3 1525.6,1034.3 C1527.4,1033.4 1529.2,1032.4 1531,1031.5 C1532.7,1030.6 1534.5,1029.7 1536.4,1028.9 C1538.2,1028.1 1540.1,1027.4 1542,1026.7 C1543.9,1026.1 1545.9,1025.7 1547.8,1025 C1549.6,1024.2 1551.5,1023.4 1553.2,1022.3 C1554.8,1021.3 1556.3,1019.8 1557.7,1018.4 C1559.1,1017 1560.3,1015.3 1561.6,1013.8 C1562.8,1012.2 1564,1010.5 1565.2,1008.9 C1566.4,1007.3 1567.6,1005.7 1568.8,1004.1 C1570,1002.5 1571.2,1000.9 1572.4,999.3 C1573.6,997.7 1574.8,996 1575.9,994.4 C1577,992.7 1578.1,991 1579.1,989.3 C1580.2,987.6 1581.2,985.8 1582.1,984.1 C1583.1,982.3 1584,980.5 1584.9,978.7 C1585.8,976.9 1586.6,975.1 1587.4,973.2 C1588.2,971.4 1589,969.5 1589.7,967.7 C1590.4,965.8 1591.1,963.9 1591.8,962 C1592.4,960.1 1593.1,958.2 1593.7,956.3 C1594.3,954.4 1594.9,952.4 1595.4,950.5 C1596,948.6 1596.6,946.7 1597.1,944.7 C1597.7,942.8 1598.2,940.9 1598.7,938.9 C1599.3,937 1599.8,935.1 1600.3,933.1 C1600.8,931.2 1601.3,929.2 1601.8,927.3 C1602.4,925.3 1602.9,923.4 1603.4,921.5 C1603.9,919.5 1604.4,917.6 1604.9,915.6 C1605.4,913.7 1606,911.7 1606.5,909.8 C1607,907.9 1607.5,905.9 1608,904 C1608.5,902 1609.1,900.1 1609.6,898.2 C1610.1,896.2 1610.7,894.3 1611.2,892.4 C1611.7,890.4 1612.3,888.5 1612.8,886.6 C1613.4,884.6 1614,882.7 1614.6,880.8 C1615.1,878.9 1615.7,876.9 1616.3,875 C1617,873.1 1617.6,871.2 1618.2,869.3 C1618.9,867.4 1619.6,865.5 1620.3,863.6 C1621,861.8 1621.8,859.9 1622.6,858.1 C1623.4,856.2 1624.2,854.4 1625.1,852.6 C1625.9,850.8 1626.8,848.9 1627.6,847.1 C1628.4,845.3 1629.2,843.4 1630,841.6 C1630.7,839.7 1631.4,837.8 1632.1,835.9 C1632.7,834 1633.3,832.1 1633.9,830.2 C1634.5,828.3 1635,826.3 1635.6,824.4 C1636.1,822.5 1636.6,820.5 1637.1,818.6 C1637.6,816.6 1638.1,814.7 1638.6,812.7 C1639.2,810.8 1639.7,808.8 1640.2,806.9 C1640.7,805 1641.2,803 1641.7,801.1 C1642.3,799.1 1642.8,797.2 1643.4,795.3 C1644,793.4 1644.6,791.4 1645.2,789.5 C1645.8,787.6 1646.4,785.7 1647.1,783.8 C1647.7,781.9 1648.4,780 1649.1,778.1 C1649.8,776.3 1650.5,774.4 1651.2,772.5 C1652,770.6 1652.8,768.8 1653.5,766.9 C1654.3,765.1 1655.1,763.2 1655.9,761.4 C1656.7,759.6 1657.5,757.7 1658.4,755.9 C1659.2,754.1 1660.1,752.3 1661,750.5 C1661.9,748.7 1662.8,746.9 1663.7,745.1 C1664.7,743.3 1665.7,741.6 1666.7,739.8 C1667.7,738.1 1668.7,736.4 1669.8,734.7 C1670.9,733 1672,731.3 1673.1,729.7 C1674.3,728 1675.5,726.4 1676.8,724.9 C1678,723.3 1679.4,721.8 1680.8,720.4 C1682.2,718.9 1683.7,717.5 1685.2,716.3 C1686.8,715.1 1688.5,713.9 1690.3,713 C1692,712.1 1693.9,711.3 1695.9,710.8 C1697.8,710.4 1699.9,710.2 1701.8,710.3 C1703.8,710.5 1705.8,711 1707.7,711.6 C1709.6,712.3 1711.4,713.2 1713.1,714.2 C1714.9,715.3 1716.5,716.5 1718.1,717.7 C1719.6,718.9 1721.1,720.3 1722.6,721.7 C1724,723.1 1725.4,724.5 1726.8,726 C1728.1,727.5 1729.4,729 1730.7,730.6 C1732,732.1 1733.2,733.7 1734.4,735.3 C1735.7,736.9 1736.8,738.5 1738,740.2 C1739.2,741.8 1740.3,743.4 1741.5,745.1 C1742.6,746.8 1743.7,748.4 1744.8,750.1 C1745.9,751.8 1747,753.5 1748.1,755.2 C1749.2,756.9 1750.2,758.6 1751.3,760.3 C1752.3,762 1753.4,763.7 1754.4,765.4 C1755.5,767.1 1756.5,768.9 1757.5,770.6 C1758.6,772.3 1759.6,774 1760.6,775.8 C1761.6,777.5 1762.7,779.2 1763.7,781 C1764.7,782.7 1765.7,784.5 1766.6,786.2 C1767.6,788 1768.6,789.7 1769.5,791.5 C1770.5,793.3 1771.4,795 1772.4,796.8 C1773.3,798.6 1774.2,800.4 1775.1,802.2 C1776,804 1776.9,805.8 1777.8,807.6 C1778.6,809.4 1779.5,811.2 1780.3,813 C1781.2,814.9 1782,816.7 1782.8,818.5 C1783.6,820.4 1784.4,822.2 1785.2,824.1 C1786,825.9 1786.8,827.8 1787.5,829.6 C1788.3,831.5 1789,833.3 1789.8,835.2 C1790.5,837.1 1791.2,839 1792,840.8 C1792.7,842.7 1793.4,844.6 1794.1,846.5 C1794.8,848.3 1795.5,850.2 1796.3,852.1 C1797,854 1797.7,855.8 1798.4,857.7 C1799.1,859.6 1799.9,861.5 1800.6,863.3 C1801.3,865.2 1802.1,867.1 1802.8,868.9 C1803.6,870.8 1804.3,872.7 1805.1,874.5 C1805.9,876.4 1806.7,878.2 1807.5,880.1 C1808.3,881.9 1809.1,883.7 1810,885.5 C1810.9,887.3 1811.8,889.1 1812.7,890.9 C1813.6,892.7 1814.6,894.5 1815.6,896.2 C1816.6,897.9 1817.7,899.6 1818.8,901.3 C1819.8,903 1821,904.7 1822.1,906.3 C1823.3,908 1824.5,909.6 1825.7,911.2 C1826.9,912.8 1828.2,914.3 1829.5,915.9 C1830.8,917.4 1832.1,918.9 1833.4,920.5 C1834.7,922 1836,923.5 1837.3,925 C1838.7,926.5 1840,928 1841.3,929.6 C1842.6,931.1 1843.9,932.6 1845.1,934.2 C1846.4,935.8 1847.6,937.4 1848.8,939 C1850,940.6 1851.1,942.3 1852.3,943.9 C1853.4,945.6 1855,948.2 1855.5,949" stroke="#00FFFF"/>
<path d="M1522.5,1053.6 C1523.4,1053.2 1526.2,1051.9 1528,1051.2 C1529.9,1050.4 1531.8,1049.8 1533.7,1049.2 C1535.6,1048.5 1537.6,1047.9 1539.4,1047.1 C1541.3,1046.4 1543.2,1045.7 1545,1044.8 C1546.8,1043.9 1548.6,1042.9 1550.2,1041.8 C1551.9,1040.7 1553.5,1039.4 1555,1038.1 C1556.6,1036.8 1558,1035.3 1559.3,1033.9 C1560.7,1032.4 1561.9,1030.8 1563.1,1029.2 C1564.3,1027.5 1565.4,1025.9 1566.5,1024.1 C1567.6,1022.4 1568.6,1020.7 1569.5,1018.9 C1570.5,1017.1 1571.4,1015.3 1572.3,1013.5 C1573.1,1011.7 1574,1009.9 1574.8,1008 C1575.6,1006.2 1576.4,1004.3 1577.2,1002.5 C1577.9,1000.6 1578.7,998.7 1579.4,996.9 C1580.2,995 1580.9,993.1 1581.6,991.2 C1582.3,989.4 1583.1,987.5 1583.8,985.6 C1584.5,983.7 1585.3,981.9 1586,980 C1586.8,978.1 1587.6,976.3 1588.4,974.4 C1589.1,972.5 1589.9,970.7 1590.7,968.9 C1591.6,967 1592.4,965.2 1593.2,963.3 C1594,961.5 1594.8,959.6 1595.6,957.8 C1596.4,955.9 1597.1,954.1 1597.9,952.2 C1598.6,950.3 1599.4,948.4 1600.1,946.6 C1600.8,944.7 1601.4,942.8 1602.1,940.9 C1602.7,938.9 1603.3,937 1603.9,935.1 C1604.5,933.2 1605.1,931.2 1605.6,929.3 C1606.2,927.4 1606.7,925.4 1607.2,923.5 C1607.7,921.5 1608.2,919.6 1608.7,917.6 C1609.2,915.6 1609.6,913.7 1610.1,911.7 C1610.6,909.8 1611.1,907.8 1611.5,905.9 C1612,903.9 1612.4,901.9 1612.9,900 C1613.4,898 1613.8,896 1614.3,894.1 C1614.7,892.1 1615.2,890.1 1615.6,888.2 C1616.1,886.2 1616.5,884.3 1617,882.3 C1617.4,880.3 1617.8,878.4 1618.3,876.4 C1618.7,874.4 1619.2,872.5 1619.6,870.5 C1620.1,868.5 1620.5,866.6 1621,864.6 C1621.4,862.6 1621.9,860.7 1622.3,858.7 C1622.8,856.8 1623.2,854.8 1623.7,852.8 C1624.1,850.9 1624.6,848.9 1625.1,846.9 C1625.5,845 1626,843 1626.4,841.1 C1626.9,839.1 1627.3,837.1 1627.8,835.2 C1628.3,833.2 1628.7,831.2 1629.2,829.3 C1629.7,827.3 1630.1,825.4 1630.6,823.4 C1631.1,821.5 1631.5,819.5 1632,817.5 C1632.5,815.6 1633,813.6 1633.5,811.7 C1633.9,809.7 1634.4,807.8 1634.9,805.8 C1635.4,803.8 1635.9,801.9 1636.4,799.9 C1636.9,798 1637.4,796 1637.9,794.1 C1638.4,792.1 1638.9,790.2 1639.4,788.2 C1640,786.3 1640.5,784.3 1641,782.4 C1641.5,780.5 1642.1,778.5 1642.6,776.6 C1643.2,774.6 1643.7,772.7 1644.3,770.8 C1644.8,768.8 1645.4,766.9 1646,765 C1646.5,763 1647.1,761.1 1647.7,759.2 C1648.3,757.3 1649,755.3 1649.6,753.4 C1650.2,751.5 1650.9,749.6 1651.5,747.7 C1652.2,745.8 1652.9,743.9 1653.6,742 C1654.3,740.1 1655,738.2 1655.8,736.4 C1656.5,734.5 1657.3,732.7 1658.1,730.8 C1659,729 1659.8,727.2 1660.7,725.4 C1661.6,723.6 1662.6,721.8 1663.5,720 C1664.5,718.3 1665.5,716.5 1666.6,714.8 C1667.7,713.1 1668.8,711.4 1670,709.8 C1671.1,708.1 1672.4,706.5 1673.6,705 C1674.8,703.4 1676.1,701.8 1677.4,700.3 C1678.8,698.8 1680.1,697.2 1681.4,695.8 C1682.8,694.3 1684.2,692.8 1685.6,691.4 C1687.1,690 1688.5,688.6 1690.1,687.3 C1691.7,686.1 1693.3,684.8 1695,683.8 C1696.7,682.8 1698.6,681.8 1700.5,681.3 C1702.4,680.7 1704.5,680.3 1706.4,680.5 C1708.4,680.7 1710.4,681.4 1712.1,682.4 C1713.8,683.3 1715.3,684.9 1716.7,686.3 C1718.2,687.7 1719.4,689.3 1720.7,690.8 C1722,692.4 1723.3,693.9 1724.5,695.5 C1725.8,697.1 1727,698.7 1728.3,700.3 C1729.5,701.8 1730.8,703.4 1732,705 C1733.3,706.6 1734.6,708.1 1735.8,709.7 C1737,711.3 1738.3,712.9 1739.5,714.5 C1740.7,716.1 1741.8,717.8 1742.9,719.5 C1744,721.1 1745.1,722.9 1746.1,724.6 C1747.1,726.3 1748.1,728.1 1749,729.9 C1749.9,731.7 1750.8,733.5 1751.7,735.3 C1752.6,737.1 1753.5,738.9 1754.3,740.8 C1755.2,742.6 1756,744.4 1756.8,746.3 C1757.6,748.1 1758.4,750 1759.3,751.8 C1760.1,753.6 1760.9,755.5 1761.7,757.3 C1762.5,759.2 1763.3,761 1764.1,762.9 C1764.9,764.7 1765.7,766.6 1766.6,768.4 C1767.4,770.2 1768.2,772.1 1769.1,773.9 C1769.9,775.7 1770.8,777.6 1771.6,779.4 C1772.5,781.2 1773.4,783 1774.3,784.8 C1775.2,786.6 1776.2,788.4 1777.1,790.2 C1778,791.9 1779,793.7 1779.9,795.5 C1780.8,797.3 1781.7,799.1 1782.6,800.9 C1783.4,802.8 1784.3,804.6 1785.1,806.4 C1785.9,808.3 1786.7,810.1 1787.5,812 C1788.3,813.8 1789,815.7 1789.7,817.6 C1790.5,819.5 1791.2,821.3 1791.9,823.2 C1792.6,825.1 1793.3,827 1794.1,828.9 C1794.8,830.8 1795.5,832.6 1796.2,834.5 C1797,836.4 1797.7,838.3 1798.5,840.1 C1799.2,842 1800,843.9 1800.8,845.7 C1801.6,847.5 1802.4,849.4 1803.3,851.2 C1804.1,853.1 1805,854.9 1805.9,856.7 C1806.7,858.5 1807.6,860.3 1808.6,862.1 C1809.5,863.9 1810.4,865.7 1811.4,867.4 C1812.4,869.2 1813.4,870.9 1814.4,872.7 C1815.4,874.4 1816.4,876.2 1817.5,877.9 C1818.5,879.6 1819.6,881.3 1820.7,883 C1821.8,884.7 1823,886.3 1824.1,888 C1825.2,889.7 1826.4,891.3 1827.5,893 C1828.7,894.6 1829.8,896.3 1831,897.9 C1832.1,899.6 1833.3,901.2 1834.4,902.9 C1835.6,904.5 1836.7,906.2 1837.8,907.9 C1839,909.6 1840.1,911.2 1841.1,912.9 C1842.2,914.6 1843.3,916.4 1844.3,918.1 C1845.3,919.8 1846.4,921.6 1847.3,923.3 C1848.3,925.1 1849.3,926.8 1850.2,928.6 C1851.1,930.4 1852.1,932.2 1852.9,934 C1853.8,935.8 1855.1,938.6 1855.5,939.5" stroke="#FF00FF"/>
<path d="M1564.9,1043.2 C1565.6,1042.4 1567.6,1040.2 1569,1038.7 C1570.3,1037.2 1571.6,1035.7 1572.9,1034.1 C1574.2,1032.5 1575.4,1030.9 1576.6,1029.3 C1577.8,1027.7 1578.9,1026 1580,1024.3 C1581.1,1022.6 1582.2,1020.9 1583.2,1019.1 C1584.2,1017.4 1585.2,1015.6 1586.1,1013.8 C1587,1012 1587.9,1010.2 1588.8,1008.3 C1589.6,1006.5 1590.5,1004.7 1591.3,1002.8 C1592.1,1001 1592.9,999.1 1593.7,997.3 C1594.5,995.4 1595.3,993.6 1596.1,991.7 C1596.8,989.8 1597.6,987.9 1598.3,986.1 C1599.1,984.2 1599.8,982.3 1600.6,980.4 C1601.3,978.6 1602.1,976.7 1602.8,974.8 C1603.5,972.9 1604.3,971 1605,969.1 C1605.8,967.3 1606.5,965.4 1607.2,963.5 C1608,961.6 1608.7,959.7 1609.5,957.9 C1610.2,956 1611,954.1 1611.7,952.2 C1612.4,950.3 1613.2,948.5 1613.9,946.6 C1614.7,944.7 1615.4,942.8 1616.2,940.9 C1616.9,939.1 1617.6,937.2 1618.4,935.3 C1619.1,933.4 1619.8,931.5 1620.6,929.6 C1621.3,927.8 1622,925.9 1622.7,924 C1623.5,922.1 1624.2,920.2 1624.9,918.3 C1625.6,916.4 1626.3,914.5 1627,912.6 C1627.7,910.7 1628.4,908.8 1629.1,906.9 C1629.8,905 1630.5,903.1 1631.2,901.2 C1631.8,899.3 1632.5,897.4 1633.2,895.5 C1633.9,893.6 1634.5,891.7 1635.2,889.8 C1635.8,887.9 1636.5,886 1637.2,884.1 C1637.8,882.2 1638.5,880.2 1639.1,878.3 C1639.8,876.4 1640.4,874.5 1641.1,872.6 C1641.7,870.7 1642.4,868.8 1643.1,866.9 C1643.7,865 1644.4,863 1645.1,861.1 C1645.7,859.2 1646.4,857.3 1647.1,855.4 C1647.8,853.5 1648.5,851.6 1649.2,849.7 C1649.9,847.8 1650.6,846 1651.4,844.1 C1652.1,842.2 1652.8,840.3 1653.6,838.4 C1654.3,836.6 1655.1,834.7 1655.9,832.8 C1656.7,831 1657.5,829.1 1658.4,827.3 C1659.2,825.5 1660.1,823.6 1661,821.8 C1662,820 1662.9,818.3 1663.9,816.5 C1664.9,814.7 1665.9,813 1667,811.3 C1668.1,809.6 1669.2,807.9 1670.4,806.3 C1671.6,804.6 1672.8,803 1674.1,801.5 C1675.4,800 1676.8,798.5 1678.3,797.1 C1679.7,795.7 1681.3,794.3 1682.9,793.1 C1684.5,791.9 1686.2,790.8 1688,789.8 C1689.7,788.9 1691.6,788 1693.5,787.3 C1695.4,786.7 1697.3,786.1 1699.3,785.8 C1701.3,785.5 1703.4,785.3 1705.4,785.5 C1707.4,785.6 1709.4,786 1711.3,786.6 C1713.2,787.2 1715.1,788.1 1716.8,789.1 C1718.5,790.1 1720.2,791.4 1721.8,792.6 C1723.4,793.9 1724.9,795.2 1726.4,796.6 C1727.8,797.9 1729.3,799.4 1730.7,800.8 C1732.1,802.2 1733.5,803.7 1735,805.1 C1736.4,806.6 1737.8,808 1739.2,809.5 C1740.6,810.9 1742.1,812.3 1743.5,813.7 C1744.9,815.2 1746.4,816.6 1747.8,818 C1749.2,819.4 1750.6,820.9 1752,822.4 C1753.3,823.9 1754.7,825.4 1756,827 C1757.2,828.5 1758.5,830.1 1759.7,831.8 C1760.8,833.4 1762,835.1 1763.1,836.8 C1764.1,838.5 1765.2,840.2 1766.2,842 C1767.2,843.7 1768.2,845.5 1769.2,847.3 C1770.2,849 1771.1,850.8 1772.1,852.6 C1773.1,854.3 1774,856.1 1775,857.9 C1776,859.6 1777,861.4 1778,863.2 C1779,864.9 1780,866.7 1781.1,868.4 C1782.1,870.1 1783.1,871.9 1784.2,873.6 C1785.2,875.3 1786.3,877 1787.4,878.7 C1788.5,880.5 1789.5,882.2 1790.6,883.9 C1791.7,885.6 1792.8,887.3 1793.9,889 C1795,890.7 1796.1,892.4 1797.2,894.1 C1798.3,895.8 1799.4,897.4 1800.5,899.1 C1801.6,900.8 1802.7,902.5 1803.8,904.2 C1804.9,905.9 1806,907.6 1807.2,909.3 C1808.3,911 1809.4,912.6 1810.6,914.3 C1811.7,916 1812.9,917.6 1814.1,919.3 C1815.2,920.9 1816.4,922.5 1817.7,924.1 C1818.9,925.7 1820.1,927.3 1821.4,928.9 C1822.6,930.5 1823.9,932.1 1825.2,933.6 C1826.5,935.2 1827.7,936.8 1829,938.3 C1830.3,939.9 1831.6,941.4 1832.9,943 C1834.2,944.5 1835.5,946.1 1836.8,947.6 C1838.1,949.2 1839.4,950.7 1840.7,952.3 C1842,953.8 1843.3,955.4 1844.5,957 C1845.8,958.6 1847,960.2 1848.3,961.7 C1849.5,963.3 1850.7,965 1851.9,966.6 C1853.1,968.2 1854.9,970.7 1855.5,971.5" stroke="#808000"/>
<path d="M1605.7,1030.6 C1606.4,1029.9 1608.4,1027.6 1609.8,1026.2 C1611.1,1024.7 1612.5,1023.3 1613.9,1021.8 C1615.2,1020.3 1616.6,1018.9 1618,1017.4 C1619.3,1015.9 1620.7,1014.5 1622,1013 C1623.4,1011.5 1624.7,1010 1626,1008.5 C1627.4,1007 1628.7,1005.5 1630,1004 C1631.3,1002.5 1632.6,1000.9 1633.9,999.4 C1635.1,997.9 1636.4,996.3 1637.7,994.8 C1639,993.3 1640.3,991.7 1641.6,990.2 C1642.9,988.7 1644.2,987.1 1645.5,985.6 C1646.8,984.1 1648.1,982.6 1649.5,981.2 C1650.8,979.7 1652.2,978.2 1653.6,976.8 C1655,975.4 1656.4,974 1657.9,972.6 C1659.4,971.3 1660.9,969.9 1662.5,968.7 C1664,967.4 1665.6,966.2 1667.2,965.1 C1668.9,963.9 1670.5,962.8 1672.2,961.8 C1674,960.7 1675.7,959.7 1677.5,958.8 C1679.2,957.9 1681.1,957 1682.9,956.2 C1684.7,955.4 1686.6,954.7 1688.5,954.1 C1690.4,953.4 1692.3,952.9 1694.3,952.4 C1696.2,952 1698.2,951.6 1700.2,951.4 C1702.2,951.2 1704.2,951 1706.2,951 C1708.2,950.9 1710.2,951 1712.2,951.1 C1714.2,951.2 1716.2,951.5 1718.1,951.8 C1720.1,952 1722.1,952.4 1724,952.8 C1726,953.3 1727.9,953.7 1729.9,954.3 C1731.8,954.8 1733.7,955.4 1735.6,956.1 C1737.5,956.7 1739.4,957.4 1741.2,958.1 C1743.1,958.8 1745,959.6 1746.8,960.4 C1748.6,961.2 1750.4,962 1752.3,962.9 C1754.1,963.8 1755.9,964.6 1757.6,965.6 C1759.4,966.5 1761.2,967.4 1763,968.3 C1764.7,969.3 1766.5,970.3 1768.2,971.3 C1769.9,972.2 1771.7,973.3 1773.4,974.3 C1775.1,975.3 1776.8,976.3 1778.6,977.3 C1780.3,978.4 1782,979.4 1783.7,980.5 C1785.4,981.5 1787.1,982.6 1788.8,983.7 C1790.5,984.7 1792.2,985.8 1793.9,986.9 C1795.5,987.9 1797.2,989 1798.9,990.1 C1800.6,991.2 1802.3,992.2 1804,993.3 C1805.6,994.4 1807.3,995.5 1809,996.6 C1810.6,997.8 1812.3,998.9 1813.9,1000 C1815.6,1001.2 1817.2,1002.4 1818.8,1003.5 C1820.5,1004.6 1822.1,1005.8 1823.8,1006.9 C1825.5,1008 1827.1,1009.1 1828.8,1010.1 C1830.5,1011.2 1832.3,1012.2 1834,1013.2 C1835.8,1014.2 1837.5,1015.1 1839.3,1016 C1841.1,1017 1842.9,1017.9 1844.6,1018.7 C1846.4,1019.6 1848.2,1020.5 1850.1,1021.4 C1851.9,1022.2 1854.6,1023.5 1855.5,1023.9" stroke="#000080"/>
<path d="M1648.4,1048.5 C1649.4,1048.2 1652.3,1047.2 1654.2,1046.6 C1656.2,1046 1658.2,1045.4 1660.1,1044.8 C1662.1,1044.3 1664.1,1043.8 1666.1,1043.3 C1668.1,1042.8 1670.1,1042.3 1672.1,1041.9 C1674.1,1041.5 1676.1,1041.1 1678.1,1040.7 C1680.1,1040.3 1682.1,1040 1684.2,1039.7 C1686.2,1039.4 1688.2,1039.1 1690.3,1038.8 C1692.3,1038.6 1694.3,1038.3 1696.4,1038.1 C1698.4,1037.9 1700.4,1037.8 1702.5,1037.6 C1704.5,1037.4 1706.6,1037.3 1708.6,1037.2 C1710.7,1037.1 1712.7,1037 1714.8,1037 C1716.8,1036.9 1718.9,1036.9 1720.9,1036.9 C1723,1036.8 1725,1036.9 1727.1,1036.9 C1729.1,1036.9 1731.2,1036.9 1733.2,1037 C1735.3,1037.1 1737.3,1037.1 1739.3,1037.2 C1741.4,1037.3 1743.4,1037.4 1745.5,1037.6 C1747.5,1037.7 1749.6,1037.8 1751.6,1038 C1753.7,1038.1 1755.7,1038.3 1757.7,1038.5 C1759.8,1038.6 1761.8,1038.8 1763.9,1039 C1765.9,1039.2 1767.9,1039.4 1770,1039.6 C1772,1039.8 1774.1,1040.1 1776.1,1040.3 C1778.1,1040.5 1780.2,1040.8 1782.2,1041 C1784.2,1041.2 1786.3,1041.5 1788.3,1041.7 C1790.3,1042 1792.4,1042.2 1794.4,1042.5 C1796.4,1042.8 1798.5,1043 1800.5,1043.3 C1802.5,1043.5 1804.6,1043.8 1806.6,1044 C1808.6,1044.3 1810.7,1044.6 1812.7,1044.8 C1814.7,1045.1 1816.8,1045.3 1818.8,1045.6 C1820.8,1045.8 1822.9,1046.1 1824.9,1046.3 C1826.9,1046.6 1829,1046.8 1831,1047 C1833.1,1047.2 1835.1,1047.5 1837.1,1047.7 C1839.2,1047.9 1841.2,1048.1 1843.2,1048.3 C1845.3,1048.5 1847.3,1048.7 1849.4,1048.9 C1851.4,1049 1854.5,1049.3 1855.5,1049.3" stroke="#800080"/>
</g>
<line x1="1348" y1="675.7" x2="1412" y2="675.7" stroke="#000000" stroke-width="6"/>
<text x="1420.1" y="685.3" font-size="28">320</text>
<line x1="1348" y1="710" x2="1412" y2="710" stroke="#FF0000" stroke-width="6"/>
<text x="1420.1" y="719.6" font-size="28">340</text>
<line x1="1348" y1="745" x2="1412" y2="745" stroke="#00FF00" stroke-width="6"/>
<text x="1420.1" y="754.6" font-size="28">360</text>
<line x1="1348" y1="780" x2="1412" y2="780" stroke="#0000FF" stroke-width="6"/>
<text x="1420.1" y="789.6" font-size="28">380</text>
<line x1="1348" y1="815" x2="1412" y2="815" stroke="#00FFFF" stroke-width="6"/>
<text x="1420.3" y="824.6" font-size="28">400</text>
<line x1="1474" y1="675.7" x2="1536.3" y2="675.7" stroke="#FF00FF" stroke-width="6"/>
<text x="1545.9" y="685.3" font-size="28">420</text>
<line x1="1474" y1="710" x2="1536.3" y2="710" stroke="#808000" stroke-width="6"/>
<text x="1545.9" y="719.6" font-size="28">440</text>
<line x1="1474" y1="745" x2="1536.3" y2="745" stroke="#000080" stroke-width="6"/>
<text x="1545.9" y="754.6" font-size="28">460</text>
<line x1="1474" y1="780" x2="1536.3" y2="780" stroke="#800080" stroke-width="6"/>
<text x="1545.9" y="789.6" font-size="28">480</text>
<line x1="1334.7" y1="1062.4" x2="1334.7" y2="1070.4" stroke="#000" stroke-width="2"/>
<line x1="1386.8" y1="1062.4" x2="1386.8" y2="1066.4" stroke="#000" stroke-width="2"/>
<line x1="1439" y1="1062.4" x2="1439" y2="1070.4" stroke="#000" stroke-width="2"/>
<line x1="1491.1" y1="1062.4" x2="1491.1" y2="1066.4" stroke="#000" stroke-width="2"/>
<line x1="1543.2" y1="1062.4" x2="1543.2" y2="1070.4" stroke="#000" stroke-width="2"/>
<line x1="1595.3" y1="1062.4" x2="1595.3" y2="1066.4" stroke="#000" stroke-width="2"/>
<line x1="1647.5" y1="1062.4" x2="1647.5" y2="1070.4" stroke="#000" stroke-width="2"/>
<line x1="1699.6" y1="1062.4" x2="1699.6" y2="1066.4" stroke="#000" stroke-width="2"/>
<line x1="1751.7" y1="1062.4" x2="1751.7" y2="1070.4" stroke="#000" stroke-width="2"/>
<line x1="1803.9" y1="1062.4" x2="1803.9" y2="1066.4" stroke="#000" stroke-width="2"/>
<line x1="1856" y1="1062.4" x2="1856" y2="1070.4" stroke="#000" stroke-width="2"/>
<text x="1305.8" y="1104.8" font-size="35">350</text>
<text x="1410.2" y="1104.9" font-size="35">400</text>
<text x="1514.5" y="1104.9" font-size="35">450</text>
<text x="1618.5" y="1104.9" font-size="35">500</text>
<text x="1722.7" y="1104.9" font-size="35">550</text>
<text x="1826.9" y="1104.9" font-size="35">600</text>
<text x="1484.2" y="634.6" font-size="35">435</text>
<text x="1673.7" y="634.6" font-size="35">525</text>
<text x="1350" y="621.9" font-size="58">f</text>
<text x="1404.9" y="1158.4" font-size="48">Wavelength (nm)</text>
<text transform="translate(1296,1031.1) rotate(-90)" x="0" y="0" font-size="47.4">PL Intensity (a.u.)</text>
</g>
<defs>
<clipPath id="clip-a"><rect x="71.2" y="66.2" width="525.2" height="423.5"/></clipPath>
<clipPath id="clip-b"><rect x="701" y="69" width="524.2" height="423.6"/></clipPath>
<clipPath id="clip-c"><rect x="1335.1" y="63.1" width="524.4" height="423.4"/></clipPath>
<clipPath id="clip-d"><rect x="79.8" y="637.9" width="525.1" height="422.2"/></clipPath>
<clipPath id="clip-e"><rect x="702.2" y="637.8" width="525.3" height="422.2"/></clipPath>
<clipPath id="clip-f"><rect x="1333.2" y="641.7" width="524.3" height="422.2"/></clipPath>
</defs>
</svg></body></html>
